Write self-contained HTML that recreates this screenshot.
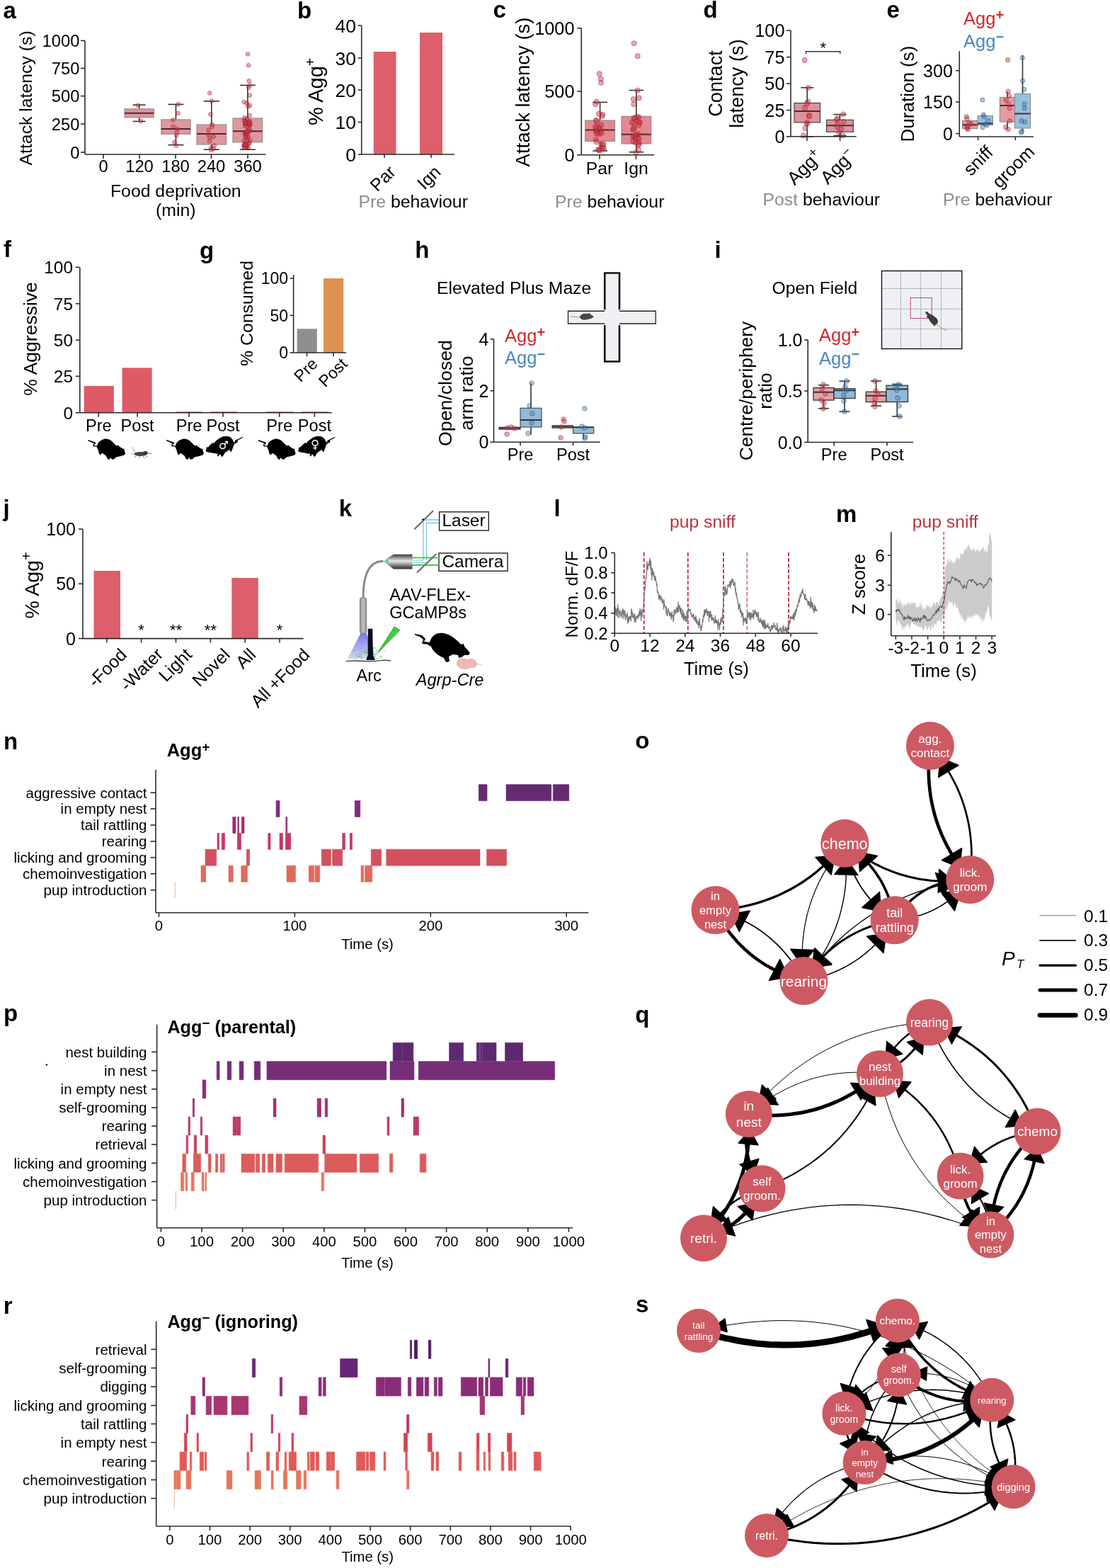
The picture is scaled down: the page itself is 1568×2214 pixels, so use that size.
<!DOCTYPE html>
<html><head><meta charset="utf-8"><title>Figure</title>
<style>html,body{margin:0;padding:0;background:#fff;} svg{display:block;} text{font-family:"Liberation Sans", Arial, Helvetica, sans-serif;}</style>
</head><body>
<svg width="1568" height="2214" viewBox="0 0 1568 2214" font-family='"Liberation Sans", Arial, Helvetica, sans-serif'>
<rect width="1568" height="2214" fill="#fff"/>
<text x="4.5" y="25.7" font-size="33" font-weight="bold">a</text>
<line x1="196.65" y1="148.20" x2="196.65" y2="153.80" stroke="#333" stroke-width="1.6" />
<line x1="196.65" y1="165.80" x2="196.65" y2="171.40" stroke="#333" stroke-width="1.6" />
<line x1="187.65" y1="148.20" x2="205.65" y2="148.20" stroke="#333" stroke-width="1.6" />
<line x1="187.65" y1="171.40" x2="205.65" y2="171.40" stroke="#333" stroke-width="1.6" />
<rect x="176.00" y="153.80" width="41.30" height="12.00" fill="#dd979f" stroke="#9a8a8c" stroke-width="1.2"/>
<line x1="176.00" y1="159.70" x2="217.30" y2="159.70" stroke="#4e2a2e" stroke-width="2.0" />
<line x1="248.45" y1="147.40" x2="248.45" y2="168.90" stroke="#333" stroke-width="1.6" />
<line x1="248.45" y1="189.30" x2="248.45" y2="204.60" stroke="#333" stroke-width="1.6" />
<line x1="237.45" y1="147.40" x2="259.45" y2="147.40" stroke="#333" stroke-width="1.6" />
<line x1="237.45" y1="204.60" x2="259.45" y2="204.60" stroke="#333" stroke-width="1.6" />
<rect x="227.80" y="168.90" width="41.30" height="20.40" fill="#dd979f" stroke="#9a8a8c" stroke-width="1.2"/>
<line x1="227.80" y1="181.90" x2="269.10" y2="181.90" stroke="#4e2a2e" stroke-width="2.0" />
<line x1="298.80" y1="142.90" x2="298.80" y2="176.00" stroke="#333" stroke-width="1.6" />
<line x1="298.80" y1="204.00" x2="298.80" y2="211.20" stroke="#333" stroke-width="1.6" />
<line x1="287.80" y1="142.90" x2="309.80" y2="142.90" stroke="#333" stroke-width="1.6" />
<line x1="287.80" y1="211.20" x2="309.80" y2="211.20" stroke="#333" stroke-width="1.6" />
<rect x="278.00" y="176.00" width="41.60" height="28.00" fill="#dd979f" stroke="#9a8a8c" stroke-width="1.2"/>
<line x1="278.00" y1="189.00" x2="319.60" y2="189.00" stroke="#4e2a2e" stroke-width="2.0" />
<line x1="349.85" y1="120.40" x2="349.85" y2="167.00" stroke="#333" stroke-width="1.6" />
<line x1="349.85" y1="200.80" x2="349.85" y2="211.20" stroke="#333" stroke-width="1.6" />
<line x1="338.85" y1="120.40" x2="360.85" y2="120.40" stroke="#333" stroke-width="1.6" />
<line x1="338.85" y1="211.20" x2="360.85" y2="211.20" stroke="#333" stroke-width="1.6" />
<rect x="329.00" y="167.00" width="41.70" height="33.80" fill="#dd979f" stroke="#9a8a8c" stroke-width="1.2"/>
<line x1="329.00" y1="185.20" x2="370.70" y2="185.20" stroke="#4e2a2e" stroke-width="2.0" />
<circle cx="194.81" cy="148.81" r="2.90" fill="rgba(205,55,70,0.45)"  stroke="rgba(150,25,40,0.55)" stroke-width="0.8"/>
<circle cx="199.08" cy="170.87" r="2.90" fill="rgba(205,55,70,0.45)"  stroke="rgba(150,25,40,0.55)" stroke-width="0.8"/>
<circle cx="251.65" cy="147.23" r="2.90" fill="rgba(205,55,70,0.45)"  stroke="rgba(150,25,40,0.55)" stroke-width="0.8"/>
<circle cx="251.58" cy="159.84" r="2.90" fill="rgba(205,55,70,0.45)"  stroke="rgba(150,25,40,0.55)" stroke-width="0.8"/>
<circle cx="244.45" cy="169.30" r="2.90" fill="rgba(205,55,70,0.45)"  stroke="rgba(150,25,40,0.55)" stroke-width="0.8"/>
<circle cx="244.68" cy="178.75" r="2.90" fill="rgba(205,55,70,0.45)"  stroke="rgba(150,25,40,0.55)" stroke-width="0.8"/>
<circle cx="250.68" cy="181.90" r="2.90" fill="rgba(205,55,70,0.45)"  stroke="rgba(150,25,40,0.55)" stroke-width="0.8"/>
<circle cx="249.89" cy="186.63" r="2.90" fill="rgba(205,55,70,0.45)"  stroke="rgba(150,25,40,0.55)" stroke-width="0.8"/>
<circle cx="249.36" cy="191.36" r="2.90" fill="rgba(205,55,70,0.45)"  stroke="rgba(150,25,40,0.55)" stroke-width="0.8"/>
<circle cx="246.47" cy="200.82" r="2.90" fill="rgba(205,55,70,0.45)"  stroke="rgba(150,25,40,0.55)" stroke-width="0.8"/>
<circle cx="248.85" cy="205.54" r="2.90" fill="rgba(205,55,70,0.45)"  stroke="rgba(150,25,40,0.55)" stroke-width="0.8"/>
<circle cx="296.14" cy="131.47" r="2.90" fill="rgba(205,55,70,0.45)"  stroke="rgba(150,25,40,0.55)" stroke-width="0.8"/>
<circle cx="298.90" cy="142.50" r="2.90" fill="rgba(205,55,70,0.45)"  stroke="rgba(150,25,40,0.55)" stroke-width="0.8"/>
<circle cx="297.33" cy="161.42" r="2.90" fill="rgba(205,55,70,0.45)"  stroke="rgba(150,25,40,0.55)" stroke-width="0.8"/>
<circle cx="299.44" cy="175.60" r="2.90" fill="rgba(205,55,70,0.45)"  stroke="rgba(150,25,40,0.55)" stroke-width="0.8"/>
<circle cx="299.63" cy="178.75" r="2.90" fill="rgba(205,55,70,0.45)"  stroke="rgba(150,25,40,0.55)" stroke-width="0.8"/>
<circle cx="294.59" cy="183.48" r="2.90" fill="rgba(205,55,70,0.45)"  stroke="rgba(150,25,40,0.55)" stroke-width="0.8"/>
<circle cx="294.12" cy="189.78" r="2.90" fill="rgba(205,55,70,0.45)"  stroke="rgba(150,25,40,0.55)" stroke-width="0.8"/>
<circle cx="301.54" cy="192.94" r="2.90" fill="rgba(205,55,70,0.45)"  stroke="rgba(150,25,40,0.55)" stroke-width="0.8"/>
<circle cx="296.33" cy="194.51" r="2.90" fill="rgba(205,55,70,0.45)"  stroke="rgba(150,25,40,0.55)" stroke-width="0.8"/>
<circle cx="296.11" cy="199.24" r="2.90" fill="rgba(205,55,70,0.45)"  stroke="rgba(150,25,40,0.55)" stroke-width="0.8"/>
<circle cx="302.96" cy="205.54" r="2.90" fill="rgba(205,55,70,0.45)"  stroke="rgba(150,25,40,0.55)" stroke-width="0.8"/>
<circle cx="298.23" cy="208.70" r="2.90" fill="rgba(205,55,70,0.45)"  stroke="rgba(150,25,40,0.55)" stroke-width="0.8"/>
<circle cx="301.53" cy="210.27" r="2.90" fill="rgba(205,55,70,0.45)"  stroke="rgba(150,25,40,0.55)" stroke-width="0.8"/>
<circle cx="298.29" cy="211.85" r="2.90" fill="rgba(205,55,70,0.45)"  stroke="rgba(150,25,40,0.55)" stroke-width="0.8"/>
<circle cx="350.11" cy="76.31" r="2.90" fill="rgba(205,55,70,0.45)"  stroke="rgba(150,25,40,0.55)" stroke-width="0.8"/>
<circle cx="351.18" cy="92.07" r="2.90" fill="rgba(205,55,70,0.45)"  stroke="rgba(150,25,40,0.55)" stroke-width="0.8"/>
<circle cx="351.66" cy="114.14" r="2.90" fill="rgba(205,55,70,0.45)"  stroke="rgba(150,25,40,0.55)" stroke-width="0.8"/>
<circle cx="352.98" cy="120.44" r="2.90" fill="rgba(205,55,70,0.45)"  stroke="rgba(150,25,40,0.55)" stroke-width="0.8"/>
<circle cx="351.16" cy="123.59" r="2.90" fill="rgba(205,55,70,0.45)"  stroke="rgba(150,25,40,0.55)" stroke-width="0.8"/>
<circle cx="352.80" cy="134.62" r="2.90" fill="rgba(205,55,70,0.45)"  stroke="rgba(150,25,40,0.55)" stroke-width="0.8"/>
<circle cx="344.76" cy="144.08" r="2.90" fill="rgba(205,55,70,0.45)"  stroke="rgba(150,25,40,0.55)" stroke-width="0.8"/>
<circle cx="348.69" cy="145.66" r="2.90" fill="rgba(205,55,70,0.45)"  stroke="rgba(150,25,40,0.55)" stroke-width="0.8"/>
<circle cx="352.99" cy="148.81" r="2.90" fill="rgba(205,55,70,0.45)"  stroke="rgba(150,25,40,0.55)" stroke-width="0.8"/>
<circle cx="350.34" cy="150.38" r="2.90" fill="rgba(205,55,70,0.45)"  stroke="rgba(150,25,40,0.55)" stroke-width="0.8"/>
<circle cx="352.61" cy="162.99" r="2.90" fill="rgba(205,55,70,0.45)"  stroke="rgba(150,25,40,0.55)" stroke-width="0.8"/>
<circle cx="345.52" cy="166.14" r="2.90" fill="rgba(205,55,70,0.45)"  stroke="rgba(150,25,40,0.55)" stroke-width="0.8"/>
<circle cx="348.72" cy="167.72" r="2.90" fill="rgba(205,55,70,0.45)"  stroke="rgba(150,25,40,0.55)" stroke-width="0.8"/>
<circle cx="346.72" cy="201.43" r="2.90" fill="rgba(205,55,70,0.45)"  stroke="rgba(150,25,40,0.55)" stroke-width="0.8"/>
<circle cx="349.39" cy="207.30" r="2.90" fill="rgba(205,55,70,0.45)"  stroke="rgba(150,25,40,0.55)" stroke-width="0.8"/>
<circle cx="349.67" cy="194.37" r="2.90" fill="rgba(205,55,70,0.45)"  stroke="rgba(150,25,40,0.55)" stroke-width="0.8"/>
<circle cx="344.62" cy="205.01" r="2.90" fill="rgba(205,55,70,0.45)"  stroke="rgba(150,25,40,0.55)" stroke-width="0.8"/>
<circle cx="346.45" cy="208.91" r="2.90" fill="rgba(205,55,70,0.45)"  stroke="rgba(150,25,40,0.55)" stroke-width="0.8"/>
<circle cx="347.02" cy="194.13" r="2.90" fill="rgba(205,55,70,0.45)"  stroke="rgba(150,25,40,0.55)" stroke-width="0.8"/>
<circle cx="352.75" cy="171.34" r="2.90" fill="rgba(205,55,70,0.45)"  stroke="rgba(150,25,40,0.55)" stroke-width="0.8"/>
<circle cx="351.39" cy="176.53" r="2.90" fill="rgba(205,55,70,0.45)"  stroke="rgba(150,25,40,0.55)" stroke-width="0.8"/>
<circle cx="345.94" cy="178.08" r="2.90" fill="rgba(205,55,70,0.45)"  stroke="rgba(150,25,40,0.55)" stroke-width="0.8"/>
<circle cx="351.67" cy="202.05" r="2.90" fill="rgba(205,55,70,0.45)"  stroke="rgba(150,25,40,0.55)" stroke-width="0.8"/>
<circle cx="345.75" cy="188.17" r="2.90" fill="rgba(205,55,70,0.45)"  stroke="rgba(150,25,40,0.55)" stroke-width="0.8"/>
<circle cx="350.06" cy="199.64" r="2.90" fill="rgba(205,55,70,0.45)"  stroke="rgba(150,25,40,0.55)" stroke-width="0.8"/>
<circle cx="345.64" cy="204.23" r="2.90" fill="rgba(205,55,70,0.45)"  stroke="rgba(150,25,40,0.55)" stroke-width="0.8"/>
<circle cx="344.52" cy="207.16" r="2.90" fill="rgba(205,55,70,0.45)"  stroke="rgba(150,25,40,0.55)" stroke-width="0.8"/>
<circle cx="352.34" cy="202.39" r="2.90" fill="rgba(205,55,70,0.45)"  stroke="rgba(150,25,40,0.55)" stroke-width="0.8"/>
<circle cx="346.39" cy="170.92" r="2.90" fill="rgba(205,55,70,0.45)"  stroke="rgba(150,25,40,0.55)" stroke-width="0.8"/>
<circle cx="346.44" cy="175.27" r="2.90" fill="rgba(205,55,70,0.45)"  stroke="rgba(150,25,40,0.55)" stroke-width="0.8"/>
<circle cx="353.34" cy="176.25" r="2.90" fill="rgba(205,55,70,0.45)"  stroke="rgba(150,25,40,0.55)" stroke-width="0.8"/>
<circle cx="352.35" cy="176.53" r="2.90" fill="rgba(205,55,70,0.45)"  stroke="rgba(150,25,40,0.55)" stroke-width="0.8"/>
<circle cx="347.10" cy="203.31" r="2.90" fill="rgba(205,55,70,0.45)"  stroke="rgba(150,25,40,0.55)" stroke-width="0.8"/>
<circle cx="353.15" cy="198.17" r="2.90" fill="rgba(205,55,70,0.45)"  stroke="rgba(150,25,40,0.55)" stroke-width="0.8"/>
<circle cx="349.35" cy="184.18" r="2.90" fill="rgba(205,55,70,0.45)"  stroke="rgba(150,25,40,0.55)" stroke-width="0.8"/>
<circle cx="350.60" cy="179.55" r="2.90" fill="rgba(205,55,70,0.45)"  stroke="rgba(150,25,40,0.55)" stroke-width="0.8"/>
<circle cx="346.34" cy="174.13" r="2.90" fill="rgba(205,55,70,0.45)"  stroke="rgba(150,25,40,0.55)" stroke-width="0.8"/>
<circle cx="352.97" cy="173.01" r="2.90" fill="rgba(205,55,70,0.45)"  stroke="rgba(150,25,40,0.55)" stroke-width="0.8"/>
<circle cx="350.72" cy="208.02" r="2.90" fill="rgba(205,55,70,0.45)"  stroke="rgba(150,25,40,0.55)" stroke-width="0.8"/>
<circle cx="353.20" cy="185.11" r="2.90" fill="rgba(205,55,70,0.45)"  stroke="rgba(150,25,40,0.55)" stroke-width="0.8"/>
<circle cx="352.54" cy="182.21" r="2.90" fill="rgba(205,55,70,0.45)"  stroke="rgba(150,25,40,0.55)" stroke-width="0.8"/>
<circle cx="347.19" cy="189.52" r="2.90" fill="rgba(205,55,70,0.45)"  stroke="rgba(150,25,40,0.55)" stroke-width="0.8"/>
<circle cx="347.75" cy="204.00" r="2.90" fill="rgba(205,55,70,0.45)"  stroke="rgba(150,25,40,0.55)" stroke-width="0.8"/>
<circle cx="345.99" cy="190.95" r="2.90" fill="rgba(205,55,70,0.45)"  stroke="rgba(150,25,40,0.55)" stroke-width="0.8"/>
<circle cx="345.81" cy="207.91" r="2.90" fill="rgba(205,55,70,0.45)"  stroke="rgba(150,25,40,0.55)" stroke-width="0.8"/>
<circle cx="345.09" cy="170.61" r="2.90" fill="rgba(205,55,70,0.45)"  stroke="rgba(150,25,40,0.55)" stroke-width="0.8"/>
<circle cx="347.21" cy="173.66" r="2.90" fill="rgba(205,55,70,0.45)"  stroke="rgba(150,25,40,0.55)" stroke-width="0.8"/>
<circle cx="349.93" cy="187.68" r="2.90" fill="rgba(205,55,70,0.45)"  stroke="rgba(150,25,40,0.55)" stroke-width="0.8"/>
<circle cx="344.53" cy="198.60" r="2.90" fill="rgba(205,55,70,0.45)"  stroke="rgba(150,25,40,0.55)" stroke-width="0.8"/>
<circle cx="350.60" cy="171.74" r="2.90" fill="rgba(205,55,70,0.45)"  stroke="rgba(150,25,40,0.55)" stroke-width="0.8"/>
<circle cx="347.54" cy="186.59" r="2.90" fill="rgba(205,55,70,0.45)"  stroke="rgba(150,25,40,0.55)" stroke-width="0.8"/>
<circle cx="347.29" cy="172.91" r="2.90" fill="rgba(205,55,70,0.45)"  stroke="rgba(150,25,40,0.55)" stroke-width="0.8"/>
<circle cx="351.87" cy="174.43" r="2.90" fill="rgba(205,55,70,0.45)"  stroke="rgba(150,25,40,0.55)" stroke-width="0.8"/>
<circle cx="348.83" cy="189.41" r="2.90" fill="rgba(205,55,70,0.45)"  stroke="rgba(150,25,40,0.55)" stroke-width="0.8"/>
<circle cx="347.34" cy="193.58" r="2.90" fill="rgba(205,55,70,0.45)"  stroke="rgba(150,25,40,0.55)" stroke-width="0.8"/>
<circle cx="348.83" cy="185.42" r="2.90" fill="rgba(205,55,70,0.45)"  stroke="rgba(150,25,40,0.55)" stroke-width="0.8"/>
<circle cx="350.84" cy="192.83" r="2.90" fill="rgba(205,55,70,0.45)"  stroke="rgba(150,25,40,0.55)" stroke-width="0.8"/>
<circle cx="345.01" cy="204.73" r="2.90" fill="rgba(205,55,70,0.45)"  stroke="rgba(150,25,40,0.55)" stroke-width="0.8"/>
<line x1="120.00" y1="57.40" x2="120.00" y2="218.00" stroke="#2b2b2b" stroke-width="1.6" />
<line x1="114.00" y1="57.40" x2="120.00" y2="57.40" stroke="#2b2b2b" stroke-width="1.6" />
<text x="112.5" y="66.0" font-size="23.8" text-anchor="end">1000</text>
<line x1="114.00" y1="96.40" x2="120.00" y2="96.40" stroke="#2b2b2b" stroke-width="1.6" />
<text x="112.5" y="105.0" font-size="23.8" text-anchor="end">750</text>
<line x1="114.00" y1="135.60" x2="120.00" y2="135.60" stroke="#2b2b2b" stroke-width="1.6" />
<text x="112.5" y="144.2" font-size="23.8" text-anchor="end">500</text>
<line x1="114.00" y1="175.00" x2="120.00" y2="175.00" stroke="#2b2b2b" stroke-width="1.6" />
<text x="112.5" y="183.6" font-size="23.8" text-anchor="end">250</text>
<line x1="114.00" y1="215.00" x2="120.00" y2="215.00" stroke="#2b2b2b" stroke-width="1.6" />
<text x="112.5" y="223.6" font-size="23.8" text-anchor="end">0</text>
<line x1="120.00" y1="218.00" x2="375.50" y2="218.00" stroke="#2b2b2b" stroke-width="1.6" />
<line x1="146.00" y1="218.00" x2="146.00" y2="224.00" stroke="#2b2b2b" stroke-width="1.6" />
<text x="146.0" y="242.5" font-size="23.8" text-anchor="middle">0</text>
<line x1="197.00" y1="218.00" x2="197.00" y2="224.00" stroke="#2b2b2b" stroke-width="1.6" />
<text x="197.0" y="242.5" font-size="23.8" text-anchor="middle">120</text>
<line x1="248.00" y1="218.00" x2="248.00" y2="224.00" stroke="#2b2b2b" stroke-width="1.6" />
<text x="248.0" y="242.5" font-size="23.8" text-anchor="middle">180</text>
<line x1="298.50" y1="218.00" x2="298.50" y2="224.00" stroke="#2b2b2b" stroke-width="1.6" />
<text x="298.5" y="242.5" font-size="23.8" text-anchor="middle">240</text>
<line x1="350.00" y1="218.00" x2="350.00" y2="224.00" stroke="#2b2b2b" stroke-width="1.6" />
<text x="350.0" y="242.5" font-size="23.8" text-anchor="middle">360</text>
<text x="248.3" y="277.5" font-size="24.8" text-anchor="middle">Food deprivation</text>
<text x="248.3" y="304.5" font-size="24.8" text-anchor="middle">(min)</text>
<text x="45.0" y="138.4" font-size="24.8" text-anchor="middle" transform="rotate(-90 45.0 138.4)">Attack latency (s)</text>
<text x="420.0" y="25.6" font-size="33" font-weight="bold">b</text>
<rect x="527.75" y="73.00" width="31.75" height="145.00" fill="#dc5f6b" />
<rect x="593.00" y="46.00" width="32.00" height="172.00" fill="#dc5f6b" />
<line x1="510.75" y1="36.00" x2="510.75" y2="218.00" stroke="#2b2b2b" stroke-width="1.6" />
<line x1="505.75" y1="36.00" x2="510.75" y2="36.00" stroke="#2b2b2b" stroke-width="1.6" />
<text x="503.0" y="45.5" font-size="26.5" text-anchor="end">40</text>
<line x1="505.75" y1="82.00" x2="510.75" y2="82.00" stroke="#2b2b2b" stroke-width="1.6" />
<text x="503.0" y="91.5" font-size="26.5" text-anchor="end">30</text>
<line x1="505.75" y1="127.00" x2="510.75" y2="127.00" stroke="#2b2b2b" stroke-width="1.6" />
<text x="503.0" y="136.5" font-size="26.5" text-anchor="end">20</text>
<line x1="505.75" y1="172.50" x2="510.75" y2="172.50" stroke="#2b2b2b" stroke-width="1.6" />
<text x="503.0" y="182.0" font-size="26.5" text-anchor="end">10</text>
<line x1="505.75" y1="218.00" x2="510.75" y2="218.00" stroke="#2b2b2b" stroke-width="1.6" />
<text x="503.0" y="227.5" font-size="26.5" text-anchor="end">0</text>
<line x1="510.75" y1="218.00" x2="642.00" y2="218.00" stroke="#2b2b2b" stroke-width="1.6" />
<line x1="543.00" y1="218.00" x2="543.00" y2="223.00" stroke="#2b2b2b" stroke-width="1.6" />
<line x1="609.00" y1="218.00" x2="609.00" y2="223.00" stroke="#2b2b2b" stroke-width="1.6" />
<text x="533.1" y="271.7" font-size="24.8" transform="rotate(-45 533.1 271.7)">Par</text>
<text x="599.6" y="268.9" font-size="24.8" transform="rotate(-45 599.6 268.9)">Ign</text>
<text x="506.5" y="292.5" font-size="24.8"><tspan fill="#8c8c8c">Pre</tspan> behaviour</text>
<text x="455.5" y="177.0" font-size="29" transform="rotate(-90 455.5 177.0)">% Agg<tspan dy="-11" font-size="20">+</tspan></text>
<text x="696.5" y="25.2" font-size="33" font-weight="bold">c</text>
<line x1="898.85" y1="127.50" x2="898.85" y2="164.30" stroke="#333" stroke-width="1.6" />
<line x1="898.85" y1="203.00" x2="898.85" y2="214.70" stroke="#333" stroke-width="1.6" />
<line x1="888.65" y1="127.50" x2="909.05" y2="127.50" stroke="#333" stroke-width="1.6" />
<line x1="888.65" y1="214.70" x2="909.05" y2="214.70" stroke="#333" stroke-width="1.6" />
<rect x="878.00" y="164.30" width="41.70" height="38.70" fill="#e5878f" stroke="#9a8a8c" stroke-width="1.2"/>
<line x1="878.00" y1="189.80" x2="919.70" y2="189.80" stroke="#4e2a2e" stroke-width="2.0" />
<line x1="847.60" y1="144.40" x2="847.60" y2="170.00" stroke="#333" stroke-width="1.6" />
<line x1="847.60" y1="199.30" x2="847.60" y2="213.00" stroke="#333" stroke-width="1.6" />
<line x1="837.30" y1="144.40" x2="857.90" y2="144.40" stroke="#333" stroke-width="1.6" />
<line x1="837.30" y1="213.00" x2="857.90" y2="213.00" stroke="#333" stroke-width="1.6" />
<rect x="826.70" y="170.00" width="41.80" height="29.30" fill="#e5878f" stroke="#9a8a8c" stroke-width="1.2"/>
<line x1="826.70" y1="183.40" x2="868.50" y2="183.40" stroke="#4e2a2e" stroke-width="2.0" />
<circle cx="846.69" cy="104.21" r="3.60" fill="rgba(205,55,70,0.45)"  stroke="rgba(150,25,40,0.55)" stroke-width="0.8"/>
<circle cx="848.89" cy="111.37" r="3.60" fill="rgba(205,55,70,0.45)"  stroke="rgba(150,25,40,0.55)" stroke-width="0.8"/>
<circle cx="849.00" cy="116.74" r="3.60" fill="rgba(205,55,70,0.45)"  stroke="rgba(150,25,40,0.55)" stroke-width="0.8"/>
<circle cx="842.71" cy="143.60" r="3.60" fill="rgba(205,55,70,0.45)"  stroke="rgba(150,25,40,0.55)" stroke-width="0.8"/>
<circle cx="841.13" cy="147.18" r="3.60" fill="rgba(205,55,70,0.45)"  stroke="rgba(150,25,40,0.55)" stroke-width="0.8"/>
<circle cx="845.50" cy="189.13" r="3.60" fill="rgba(205,55,70,0.45)"  stroke="rgba(150,25,40,0.55)" stroke-width="0.8"/>
<circle cx="844.29" cy="183.36" r="3.60" fill="rgba(205,55,70,0.45)"  stroke="rgba(150,25,40,0.55)" stroke-width="0.8"/>
<circle cx="850.72" cy="163.78" r="3.60" fill="rgba(205,55,70,0.45)"  stroke="rgba(150,25,40,0.55)" stroke-width="0.8"/>
<circle cx="849.29" cy="188.42" r="3.60" fill="rgba(205,55,70,0.45)"  stroke="rgba(150,25,40,0.55)" stroke-width="0.8"/>
<circle cx="848.22" cy="186.15" r="3.60" fill="rgba(205,55,70,0.45)"  stroke="rgba(150,25,40,0.55)" stroke-width="0.8"/>
<circle cx="847.70" cy="181.88" r="3.60" fill="rgba(205,55,70,0.45)"  stroke="rgba(150,25,40,0.55)" stroke-width="0.8"/>
<circle cx="848.94" cy="203.51" r="3.60" fill="rgba(205,55,70,0.45)"  stroke="rgba(150,25,40,0.55)" stroke-width="0.8"/>
<circle cx="842.74" cy="185.93" r="3.60" fill="rgba(205,55,70,0.45)"  stroke="rgba(150,25,40,0.55)" stroke-width="0.8"/>
<circle cx="846.28" cy="179.59" r="3.60" fill="rgba(205,55,70,0.45)"  stroke="rgba(150,25,40,0.55)" stroke-width="0.8"/>
<circle cx="842.95" cy="170.83" r="3.60" fill="rgba(205,55,70,0.45)"  stroke="rgba(150,25,40,0.55)" stroke-width="0.8"/>
<circle cx="851.87" cy="208.37" r="3.60" fill="rgba(205,55,70,0.45)"  stroke="rgba(150,25,40,0.55)" stroke-width="0.8"/>
<circle cx="841.71" cy="197.13" r="3.60" fill="rgba(205,55,70,0.45)"  stroke="rgba(150,25,40,0.55)" stroke-width="0.8"/>
<circle cx="850.83" cy="208.56" r="3.60" fill="rgba(205,55,70,0.45)"  stroke="rgba(150,25,40,0.55)" stroke-width="0.8"/>
<circle cx="841.90" cy="169.94" r="3.60" fill="rgba(205,55,70,0.45)"  stroke="rgba(150,25,40,0.55)" stroke-width="0.8"/>
<circle cx="849.24" cy="176.18" r="3.60" fill="rgba(205,55,70,0.45)"  stroke="rgba(150,25,40,0.55)" stroke-width="0.8"/>
<circle cx="845.04" cy="211.18" r="3.60" fill="rgba(205,55,70,0.45)"  stroke="rgba(150,25,40,0.55)" stroke-width="0.8"/>
<circle cx="845.86" cy="160.67" r="3.60" fill="rgba(205,55,70,0.45)"  stroke="rgba(150,25,40,0.55)" stroke-width="0.8"/>
<circle cx="851.11" cy="161.61" r="3.60" fill="rgba(205,55,70,0.45)"  stroke="rgba(150,25,40,0.55)" stroke-width="0.8"/>
<circle cx="841.22" cy="178.30" r="3.60" fill="rgba(205,55,70,0.45)"  stroke="rgba(150,25,40,0.55)" stroke-width="0.8"/>
<circle cx="841.73" cy="180.36" r="3.60" fill="rgba(205,55,70,0.45)"  stroke="rgba(150,25,40,0.55)" stroke-width="0.8"/>
<circle cx="851.98" cy="204.97" r="3.60" fill="rgba(205,55,70,0.45)"  stroke="rgba(150,25,40,0.55)" stroke-width="0.8"/>
<circle cx="847.11" cy="212.62" r="3.60" fill="rgba(205,55,70,0.45)"  stroke="rgba(150,25,40,0.55)" stroke-width="0.8"/>
<circle cx="842.09" cy="185.05" r="3.60" fill="rgba(205,55,70,0.45)"  stroke="rgba(150,25,40,0.55)" stroke-width="0.8"/>
<circle cx="852.85" cy="210.23" r="3.60" fill="rgba(205,55,70,0.45)"  stroke="rgba(150,25,40,0.55)" stroke-width="0.8"/>
<circle cx="852.36" cy="203.21" r="3.60" fill="rgba(205,55,70,0.45)"  stroke="rgba(150,25,40,0.55)" stroke-width="0.8"/>
<circle cx="842.35" cy="200.43" r="3.60" fill="rgba(205,55,70,0.45)"  stroke="rgba(150,25,40,0.55)" stroke-width="0.8"/>
<circle cx="846.08" cy="211.81" r="3.60" fill="rgba(205,55,70,0.45)"  stroke="rgba(150,25,40,0.55)" stroke-width="0.8"/>
<circle cx="842.62" cy="188.51" r="3.60" fill="rgba(205,55,70,0.45)"  stroke="rgba(150,25,40,0.55)" stroke-width="0.8"/>
<circle cx="895.61" cy="61.24" r="3.60" fill="rgba(205,55,70,0.45)"  stroke="rgba(150,25,40,0.55)" stroke-width="0.8"/>
<circle cx="900.72" cy="79.14" r="3.60" fill="rgba(205,55,70,0.45)"  stroke="rgba(150,25,40,0.55)" stroke-width="0.8"/>
<circle cx="900.71" cy="127.48" r="3.60" fill="rgba(205,55,70,0.45)"  stroke="rgba(150,25,40,0.55)" stroke-width="0.8"/>
<circle cx="902.69" cy="138.23" r="3.60" fill="rgba(205,55,70,0.45)"  stroke="rgba(150,25,40,0.55)" stroke-width="0.8"/>
<circle cx="894.73" cy="140.02" r="3.60" fill="rgba(205,55,70,0.45)"  stroke="rgba(150,25,40,0.55)" stroke-width="0.8"/>
<circle cx="895.27" cy="147.18" r="3.60" fill="rgba(205,55,70,0.45)"  stroke="rgba(150,25,40,0.55)" stroke-width="0.8"/>
<circle cx="894.27" cy="193.13" r="3.60" fill="rgba(205,55,70,0.45)"  stroke="rgba(150,25,40,0.55)" stroke-width="0.8"/>
<circle cx="895.20" cy="172.98" r="3.60" fill="rgba(205,55,70,0.45)"  stroke="rgba(150,25,40,0.55)" stroke-width="0.8"/>
<circle cx="901.31" cy="189.19" r="3.60" fill="rgba(205,55,70,0.45)"  stroke="rgba(150,25,40,0.55)" stroke-width="0.8"/>
<circle cx="894.06" cy="183.12" r="3.60" fill="rgba(205,55,70,0.45)"  stroke="rgba(150,25,40,0.55)" stroke-width="0.8"/>
<circle cx="898.88" cy="190.16" r="3.60" fill="rgba(205,55,70,0.45)"  stroke="rgba(150,25,40,0.55)" stroke-width="0.8"/>
<circle cx="895.07" cy="182.01" r="3.60" fill="rgba(205,55,70,0.45)"  stroke="rgba(150,25,40,0.55)" stroke-width="0.8"/>
<circle cx="896.04" cy="192.29" r="3.60" fill="rgba(205,55,70,0.45)"  stroke="rgba(150,25,40,0.55)" stroke-width="0.8"/>
<circle cx="897.68" cy="201.27" r="3.60" fill="rgba(205,55,70,0.45)"  stroke="rgba(150,25,40,0.55)" stroke-width="0.8"/>
<circle cx="902.55" cy="165.20" r="3.60" fill="rgba(205,55,70,0.45)"  stroke="rgba(150,25,40,0.55)" stroke-width="0.8"/>
<circle cx="899.80" cy="165.30" r="3.60" fill="rgba(205,55,70,0.45)"  stroke="rgba(150,25,40,0.55)" stroke-width="0.8"/>
<circle cx="892.67" cy="173.10" r="3.60" fill="rgba(205,55,70,0.45)"  stroke="rgba(150,25,40,0.55)" stroke-width="0.8"/>
<circle cx="895.81" cy="179.73" r="3.60" fill="rgba(205,55,70,0.45)"  stroke="rgba(150,25,40,0.55)" stroke-width="0.8"/>
<circle cx="894.26" cy="199.41" r="3.60" fill="rgba(205,55,70,0.45)"  stroke="rgba(150,25,40,0.55)" stroke-width="0.8"/>
<circle cx="902.96" cy="203.70" r="3.60" fill="rgba(205,55,70,0.45)"  stroke="rgba(150,25,40,0.55)" stroke-width="0.8"/>
<circle cx="902.22" cy="200.73" r="3.60" fill="rgba(205,55,70,0.45)"  stroke="rgba(150,25,40,0.55)" stroke-width="0.8"/>
<circle cx="902.17" cy="211.70" r="3.60" fill="rgba(205,55,70,0.45)"  stroke="rgba(150,25,40,0.55)" stroke-width="0.8"/>
<circle cx="902.42" cy="176.80" r="3.60" fill="rgba(205,55,70,0.45)"  stroke="rgba(150,25,40,0.55)" stroke-width="0.8"/>
<circle cx="901.44" cy="195.15" r="3.60" fill="rgba(205,55,70,0.45)"  stroke="rgba(150,25,40,0.55)" stroke-width="0.8"/>
<circle cx="903.89" cy="172.78" r="3.60" fill="rgba(205,55,70,0.45)"  stroke="rgba(150,25,40,0.55)" stroke-width="0.8"/>
<circle cx="902.03" cy="195.84" r="3.60" fill="rgba(205,55,70,0.45)"  stroke="rgba(150,25,40,0.55)" stroke-width="0.8"/>
<circle cx="895.58" cy="167.19" r="3.60" fill="rgba(205,55,70,0.45)"  stroke="rgba(150,25,40,0.55)" stroke-width="0.8"/>
<circle cx="902.70" cy="172.74" r="3.60" fill="rgba(205,55,70,0.45)"  stroke="rgba(150,25,40,0.55)" stroke-width="0.8"/>
<circle cx="898.34" cy="215.19" r="3.60" fill="rgba(205,55,70,0.45)"  stroke="rgba(150,25,40,0.55)" stroke-width="0.8"/>
<circle cx="901.56" cy="204.71" r="3.60" fill="rgba(205,55,70,0.45)"  stroke="rgba(150,25,40,0.55)" stroke-width="0.8"/>
<circle cx="899.27" cy="169.58" r="3.60" fill="rgba(205,55,70,0.45)"  stroke="rgba(150,25,40,0.55)" stroke-width="0.8"/>
<circle cx="897.65" cy="191.66" r="3.60" fill="rgba(205,55,70,0.45)"  stroke="rgba(150,25,40,0.55)" stroke-width="0.8"/>
<circle cx="896.87" cy="166.07" r="3.60" fill="rgba(205,55,70,0.45)"  stroke="rgba(150,25,40,0.55)" stroke-width="0.8"/>
<circle cx="897.66" cy="195.29" r="3.60" fill="rgba(205,55,70,0.45)"  stroke="rgba(150,25,40,0.55)" stroke-width="0.8"/>
<line x1="821.25" y1="39.75" x2="821.25" y2="218.80" stroke="#2b2b2b" stroke-width="1.6" />
<line x1="815.25" y1="39.75" x2="821.25" y2="39.75" stroke="#2b2b2b" stroke-width="1.6" />
<text x="811.5" y="48.9" font-size="25.3" text-anchor="end">1000</text>
<line x1="815.25" y1="129.00" x2="821.25" y2="129.00" stroke="#2b2b2b" stroke-width="1.6" />
<text x="811.5" y="138.1" font-size="25.3" text-anchor="end">500</text>
<line x1="815.25" y1="218.80" x2="821.25" y2="218.80" stroke="#2b2b2b" stroke-width="1.6" />
<text x="811.5" y="227.9" font-size="25.3" text-anchor="end">0</text>
<line x1="821.25" y1="218.80" x2="924.00" y2="218.80" stroke="#2b2b2b" stroke-width="1.6" />
<line x1="847.00" y1="218.80" x2="847.00" y2="224.80" stroke="#2b2b2b" stroke-width="1.6" />
<text x="847.0" y="245.6" font-size="24.8" text-anchor="middle">Par</text>
<line x1="898.50" y1="218.80" x2="898.50" y2="224.80" stroke="#2b2b2b" stroke-width="1.6" />
<text x="898.5" y="245.6" font-size="24.8" text-anchor="middle">Ign</text>
<text x="784.0" y="292.5" font-size="24.8"><tspan fill="#8c8c8c">Pre</tspan> behaviour</text>
<text x="748.0" y="130.0" font-size="27.5" text-anchor="middle" transform="rotate(-90 748.0 130.0)">Attack latency (s)</text>
<text x="993.5" y="25.2" font-size="33" font-weight="bold">d</text>
<line x1="1140.25" y1="123.75" x2="1140.25" y2="145.50" stroke="#333" stroke-width="1.6" />
<line x1="1140.25" y1="172.90" x2="1140.25" y2="192.80" stroke="#333" stroke-width="1.6" />
<line x1="1131.25" y1="123.75" x2="1149.25" y2="123.75" stroke="#333" stroke-width="1.6" />
<line x1="1131.25" y1="192.80" x2="1149.25" y2="192.80" stroke="#333" stroke-width="1.6" />
<rect x="1122.00" y="145.50" width="36.50" height="27.40" fill="#dc939b" stroke="#444" stroke-width="1.2"/>
<line x1="1122.00" y1="157.00" x2="1158.50" y2="157.00" stroke="#4e2a2e" stroke-width="2.0" />
<line x1="1186.45" y1="161.60" x2="1186.45" y2="169.30" stroke="#333" stroke-width="1.6" />
<line x1="1186.45" y1="186.20" x2="1186.45" y2="191.60" stroke="#333" stroke-width="1.6" />
<line x1="1177.45" y1="161.60" x2="1195.45" y2="161.60" stroke="#333" stroke-width="1.6" />
<line x1="1177.45" y1="191.60" x2="1195.45" y2="191.60" stroke="#333" stroke-width="1.6" />
<rect x="1167.50" y="169.30" width="37.90" height="16.90" fill="#dc939b" stroke="#444" stroke-width="1.2"/>
<line x1="1167.50" y1="177.20" x2="1205.40" y2="177.20" stroke="#4e2a2e" stroke-width="2.0" />
<circle cx="1136.65" cy="84.94" r="3.60" fill="rgba(205,55,70,0.45)"  stroke="rgba(150,25,40,0.55)" stroke-width="0.8"/>
<circle cx="1141.90" cy="123.89" r="3.60" fill="rgba(205,55,70,0.45)"  stroke="rgba(150,25,40,0.55)" stroke-width="0.8"/>
<circle cx="1141.35" cy="143.37" r="3.60" fill="rgba(205,55,70,0.45)"  stroke="rgba(150,25,40,0.55)" stroke-width="0.8"/>
<circle cx="1139.79" cy="146.36" r="3.60" fill="rgba(205,55,70,0.45)"  stroke="rgba(150,25,40,0.55)" stroke-width="0.8"/>
<circle cx="1137.16" cy="152.35" r="3.60" fill="rgba(205,55,70,0.45)"  stroke="rgba(150,25,40,0.55)" stroke-width="0.8"/>
<circle cx="1142.93" cy="162.84" r="3.60" fill="rgba(205,55,70,0.45)"  stroke="rgba(150,25,40,0.55)" stroke-width="0.8"/>
<circle cx="1143.08" cy="164.34" r="3.60" fill="rgba(205,55,70,0.45)"  stroke="rgba(150,25,40,0.55)" stroke-width="0.8"/>
<circle cx="1140.12" cy="173.33" r="3.60" fill="rgba(205,55,70,0.45)"  stroke="rgba(150,25,40,0.55)" stroke-width="0.8"/>
<circle cx="1140.05" cy="174.82" r="3.60" fill="rgba(205,55,70,0.45)"  stroke="rgba(150,25,40,0.55)" stroke-width="0.8"/>
<circle cx="1137.36" cy="180.82" r="3.60" fill="rgba(205,55,70,0.45)"  stroke="rgba(150,25,40,0.55)" stroke-width="0.8"/>
<circle cx="1135.03" cy="191.30" r="3.60" fill="rgba(205,55,70,0.45)"  stroke="rgba(150,25,40,0.55)" stroke-width="0.8"/>
<circle cx="1191.18" cy="161.34" r="3.60" fill="rgba(205,55,70,0.45)"  stroke="rgba(150,25,40,0.55)" stroke-width="0.8"/>
<circle cx="1183.00" cy="167.33" r="3.60" fill="rgba(205,55,70,0.45)"  stroke="rgba(150,25,40,0.55)" stroke-width="0.8"/>
<circle cx="1181.84" cy="168.83" r="3.60" fill="rgba(205,55,70,0.45)"  stroke="rgba(150,25,40,0.55)" stroke-width="0.8"/>
<circle cx="1191.59" cy="171.83" r="3.60" fill="rgba(205,55,70,0.45)"  stroke="rgba(150,25,40,0.55)" stroke-width="0.8"/>
<circle cx="1183.44" cy="174.82" r="3.60" fill="rgba(205,55,70,0.45)"  stroke="rgba(150,25,40,0.55)" stroke-width="0.8"/>
<circle cx="1182.81" cy="179.32" r="3.60" fill="rgba(205,55,70,0.45)"  stroke="rgba(150,25,40,0.55)" stroke-width="0.8"/>
<circle cx="1188.11" cy="182.31" r="3.60" fill="rgba(205,55,70,0.45)"  stroke="rgba(150,25,40,0.55)" stroke-width="0.8"/>
<circle cx="1185.06" cy="186.81" r="3.60" fill="rgba(205,55,70,0.45)"  stroke="rgba(150,25,40,0.55)" stroke-width="0.8"/>
<circle cx="1190.50" cy="191.30" r="3.60" fill="rgba(205,55,70,0.45)"  stroke="rgba(150,25,40,0.55)" stroke-width="0.8"/>
<line x1="1117.00" y1="43.00" x2="1117.00" y2="192.80" stroke="#2b2b2b" stroke-width="1.6" />
<line x1="1111.00" y1="43.00" x2="1117.00" y2="43.00" stroke="#2b2b2b" stroke-width="1.6" />
<text x="1108.5" y="52.1" font-size="25.3" text-anchor="end">100</text>
<line x1="1111.00" y1="80.60" x2="1117.00" y2="80.60" stroke="#2b2b2b" stroke-width="1.6" />
<text x="1108.5" y="89.7" font-size="25.3" text-anchor="end">75</text>
<line x1="1111.00" y1="118.00" x2="1117.00" y2="118.00" stroke="#2b2b2b" stroke-width="1.6" />
<text x="1108.5" y="127.1" font-size="25.3" text-anchor="end">50</text>
<line x1="1111.00" y1="155.60" x2="1117.00" y2="155.60" stroke="#2b2b2b" stroke-width="1.6" />
<text x="1108.5" y="164.7" font-size="25.3" text-anchor="end">25</text>
<line x1="1111.00" y1="192.80" x2="1117.00" y2="192.80" stroke="#2b2b2b" stroke-width="1.6" />
<text x="1108.5" y="201.9" font-size="25.3" text-anchor="end">0</text>
<line x1="1117.00" y1="192.80" x2="1209.70" y2="192.80" stroke="#2b2b2b" stroke-width="1.6" />
<line x1="1140.00" y1="192.80" x2="1140.00" y2="198.80" stroke="#2b2b2b" stroke-width="1.6" />
<line x1="1186.60" y1="192.80" x2="1186.60" y2="198.80" stroke="#2b2b2b" stroke-width="1.6" />
<path d="M1138.4 76 L1138.4 72.75 L1186.8 72.75 L1186.8 76" fill="none" stroke="#333" stroke-width="1.4"/>
<text x="1162.8" y="75.0" font-size="22" text-anchor="middle">*</text>
<text x="1163.0" y="222.0" font-size="26" text-anchor="end" transform="rotate(-45 1163.0 222.0)">Agg<tspan dy="-9" font-size="19">+</tspan></text>
<text x="1210.0" y="221.0" font-size="26" text-anchor="end" transform="rotate(-45 1210.0 221.0)">Agg<tspan dy="-9" font-size="19">−</tspan></text>
<text x="1077.5" y="289.7" font-size="24.8"><tspan fill="#8c8c8c">Post</tspan> behaviour</text>
<text x="1020.0" y="118.0" font-size="27.2" text-anchor="middle" transform="rotate(-90 1020.0 118.0)">Contact</text>
<text x="1050.0" y="118.0" font-size="27.2" text-anchor="middle" transform="rotate(-90 1050.0 118.0)">latency (s)</text>
<text x="1252.5" y="25.2" font-size="33" font-weight="bold">e</text>
<rect x="1359.60" y="170.30" width="21.40" height="11.20" fill="#e49ca2" stroke="#8a8a8a" stroke-width="1.1"/>
<line x1="1359.60" y1="176.30" x2="1381.00" y2="176.30" stroke="#4e2a2e" stroke-width="2.0" />
<rect x="1381.00" y="163.50" width="21.50" height="12.80" fill="#98bfdc" stroke="#8a8a8a" stroke-width="1.1"/>
<line x1="1381.00" y1="174.40" x2="1402.50" y2="174.40" stroke="#4e2a2e" stroke-width="2.0" />
<line x1="1422.90" y1="129.40" x2="1422.90" y2="137.40" stroke="#333" stroke-width="1.6" />
<line x1="1422.90" y1="172.00" x2="1422.90" y2="182.80" stroke="#333" stroke-width="1.6" />
<rect x="1412.40" y="137.40" width="21.00" height="34.60" fill="#e49ca2" stroke="#8a8a8a" stroke-width="1.1"/>
<line x1="1412.40" y1="149.00" x2="1433.40" y2="149.00" stroke="#4e2a2e" stroke-width="2.0" />
<line x1="1444.50" y1="77.80" x2="1444.50" y2="132.40" stroke="#333" stroke-width="1.6" />
<line x1="1444.50" y1="181.00" x2="1444.50" y2="185.60" stroke="#333" stroke-width="1.6" />
<rect x="1433.40" y="132.40" width="22.20" height="48.60" fill="#98bfdc" stroke="#8a8a8a" stroke-width="1.1"/>
<line x1="1433.40" y1="160.50" x2="1455.60" y2="160.50" stroke="#4e2a2e" stroke-width="2.0" />
<circle cx="1365.12" cy="164.82" r="3.20" fill="rgba(205,55,70,0.45)"  stroke="rgba(150,25,40,0.55)" stroke-width="0.8"/>
<circle cx="1366.12" cy="167.79" r="3.20" fill="rgba(205,55,70,0.45)"  stroke="rgba(150,25,40,0.55)" stroke-width="0.8"/>
<circle cx="1368.93" cy="173.73" r="3.20" fill="rgba(205,55,70,0.45)"  stroke="rgba(150,25,40,0.55)" stroke-width="0.8"/>
<circle cx="1371.84" cy="175.22" r="3.20" fill="rgba(205,55,70,0.45)"  stroke="rgba(150,25,40,0.55)" stroke-width="0.8"/>
<circle cx="1366.39" cy="179.68" r="3.20" fill="rgba(205,55,70,0.45)"  stroke="rgba(150,25,40,0.55)" stroke-width="0.8"/>
<circle cx="1366.12" cy="181.17" r="3.20" fill="rgba(205,55,70,0.45)"  stroke="rgba(150,25,40,0.55)" stroke-width="0.8"/>
<circle cx="1367.32" cy="182.65" r="3.20" fill="rgba(205,55,70,0.45)"  stroke="rgba(150,25,40,0.55)" stroke-width="0.8"/>
<circle cx="1387.77" cy="141.03" r="3.20" fill="rgba(70,125,175,0.45)"  stroke="rgba(30,70,110,0.55)" stroke-width="0.8"/>
<circle cx="1389.14" cy="161.84" r="3.20" fill="rgba(70,125,175,0.45)"  stroke="rgba(30,70,110,0.55)" stroke-width="0.8"/>
<circle cx="1390.03" cy="164.82" r="3.20" fill="rgba(70,125,175,0.45)"  stroke="rgba(30,70,110,0.55)" stroke-width="0.8"/>
<circle cx="1396.00" cy="170.76" r="3.20" fill="rgba(70,125,175,0.45)"  stroke="rgba(30,70,110,0.55)" stroke-width="0.8"/>
<circle cx="1391.96" cy="175.22" r="3.20" fill="rgba(70,125,175,0.45)"  stroke="rgba(30,70,110,0.55)" stroke-width="0.8"/>
<circle cx="1394.20" cy="176.71" r="3.20" fill="rgba(70,125,175,0.45)"  stroke="rgba(30,70,110,0.55)" stroke-width="0.8"/>
<circle cx="1388.00" cy="179.68" r="3.20" fill="rgba(70,125,175,0.45)"  stroke="rgba(30,70,110,0.55)" stroke-width="0.8"/>
<circle cx="1423.56" cy="84.54" r="3.20" fill="rgba(205,55,70,0.45)"  stroke="rgba(150,25,40,0.55)" stroke-width="0.8"/>
<circle cx="1424.06" cy="129.14" r="3.20" fill="rgba(205,55,70,0.45)"  stroke="rgba(150,25,40,0.55)" stroke-width="0.8"/>
<circle cx="1425.54" cy="135.09" r="3.20" fill="rgba(205,55,70,0.45)"  stroke="rgba(150,25,40,0.55)" stroke-width="0.8"/>
<circle cx="1421.22" cy="141.03" r="3.20" fill="rgba(205,55,70,0.45)"  stroke="rgba(150,25,40,0.55)" stroke-width="0.8"/>
<circle cx="1424.21" cy="146.98" r="3.20" fill="rgba(205,55,70,0.45)"  stroke="rgba(150,25,40,0.55)" stroke-width="0.8"/>
<circle cx="1426.13" cy="152.92" r="3.20" fill="rgba(205,55,70,0.45)"  stroke="rgba(150,25,40,0.55)" stroke-width="0.8"/>
<circle cx="1426.27" cy="170.76" r="3.20" fill="rgba(205,55,70,0.45)"  stroke="rgba(150,25,40,0.55)" stroke-width="0.8"/>
<circle cx="1420.49" cy="179.68" r="3.20" fill="rgba(205,55,70,0.45)"  stroke="rgba(150,25,40,0.55)" stroke-width="0.8"/>
<circle cx="1424.21" cy="182.65" r="3.20" fill="rgba(205,55,70,0.45)"  stroke="rgba(150,25,40,0.55)" stroke-width="0.8"/>
<circle cx="1444.23" cy="81.57" r="3.20" fill="rgba(70,125,175,0.45)"  stroke="rgba(30,70,110,0.55)" stroke-width="0.8"/>
<circle cx="1444.69" cy="114.27" r="3.20" fill="rgba(70,125,175,0.45)"  stroke="rgba(30,70,110,0.55)" stroke-width="0.8"/>
<circle cx="1446.75" cy="126.17" r="3.20" fill="rgba(70,125,175,0.45)"  stroke="rgba(30,70,110,0.55)" stroke-width="0.8"/>
<circle cx="1447.19" cy="146.98" r="3.20" fill="rgba(70,125,175,0.45)"  stroke="rgba(30,70,110,0.55)" stroke-width="0.8"/>
<circle cx="1447.06" cy="152.92" r="3.20" fill="rgba(70,125,175,0.45)"  stroke="rgba(30,70,110,0.55)" stroke-width="0.8"/>
<circle cx="1442.92" cy="170.76" r="3.20" fill="rgba(70,125,175,0.45)"  stroke="rgba(30,70,110,0.55)" stroke-width="0.8"/>
<circle cx="1447.59" cy="172.25" r="3.20" fill="rgba(70,125,175,0.45)"  stroke="rgba(30,70,110,0.55)" stroke-width="0.8"/>
<circle cx="1443.39" cy="185.63" r="3.20" fill="rgba(70,125,175,0.45)"  stroke="rgba(30,70,110,0.55)" stroke-width="0.8"/>
<circle cx="1442.45" cy="187.11" r="3.20" fill="rgba(70,125,175,0.45)"  stroke="rgba(30,70,110,0.55)" stroke-width="0.8"/>
<line x1="1355.25" y1="72.20" x2="1355.25" y2="193.00" stroke="#2b2b2b" stroke-width="1.6" />
<line x1="1350.25" y1="99.70" x2="1355.25" y2="99.70" stroke="#2b2b2b" stroke-width="1.6" />
<text x="1345.8" y="108.7" font-size="25" text-anchor="end">300</text>
<line x1="1350.25" y1="144.00" x2="1355.25" y2="144.00" stroke="#2b2b2b" stroke-width="1.6" />
<text x="1345.8" y="153.0" font-size="25" text-anchor="end">150</text>
<line x1="1350.25" y1="188.60" x2="1355.25" y2="188.60" stroke="#2b2b2b" stroke-width="1.6" />
<text x="1345.8" y="197.6" font-size="25" text-anchor="end">0</text>
<line x1="1355.25" y1="193.00" x2="1460.00" y2="193.00" stroke="#2b2b2b" stroke-width="1.6" />
<line x1="1381.50" y1="193.00" x2="1381.50" y2="198.00" stroke="#2b2b2b" stroke-width="1.6" />
<line x1="1434.40" y1="193.00" x2="1434.40" y2="198.00" stroke="#2b2b2b" stroke-width="1.6" />
<text x="1371.5" y="249.4" font-size="25.5" transform="rotate(-45 1371.5 249.4)">sniff</text>
<text x="1412.0" y="267.1" font-size="25.5" transform="rotate(-45 1412.0 267.1)">groom</text>
<text x="1332.0" y="290.0" font-size="24.8"><tspan fill="#8c8c8c">Pre</tspan> behaviour</text>
<text x="1291.0" y="132.5" font-size="26" text-anchor="middle" transform="rotate(-90 1291.0 132.5)">Duration (s)</text>
<text x="1361.0" y="34.7" font-size="25.5" fill="#d0282e">Agg<tspan dy="-6.5" font-size="20" font-weight="bold">+</tspan></text>
<text x="1361.0" y="66.6" font-size="25.5" fill="#4a86c2">Agg<tspan dy="-7.5" font-size="20" font-weight="bold">−</tspan></text>
<text x="5.0" y="363.0" font-size="33" font-weight="bold">f</text>
<rect x="118.70" y="545.00" width="42.20" height="37.70" fill="#e05a66" />
<rect x="172.50" y="519.40" width="42.10" height="63.30" fill="#e05a66" />
<rect x="248.80" y="581.20" width="36.20" height="1.50" fill="#e05a66" />
<rect x="297.00" y="581.20" width="38.00" height="1.50" fill="#e05a66" />
<rect x="376.00" y="581.20" width="38.60" height="1.50" fill="#e05a66" />
<rect x="426.00" y="581.20" width="38.00" height="1.50" fill="#e05a66" />
<line x1="112.80" y1="377.40" x2="112.80" y2="582.70" stroke="#2b2b2b" stroke-width="1.6" />
<line x1="106.80" y1="377.40" x2="112.80" y2="377.40" stroke="#2b2b2b" stroke-width="1.6" />
<text x="103.0" y="386.2" font-size="24.4" text-anchor="end">100</text>
<line x1="106.80" y1="428.80" x2="112.80" y2="428.80" stroke="#2b2b2b" stroke-width="1.6" />
<text x="103.0" y="437.6" font-size="24.4" text-anchor="end">75</text>
<line x1="106.80" y1="480.20" x2="112.80" y2="480.20" stroke="#2b2b2b" stroke-width="1.6" />
<text x="103.0" y="489.0" font-size="24.4" text-anchor="end">50</text>
<line x1="106.80" y1="531.30" x2="112.80" y2="531.30" stroke="#2b2b2b" stroke-width="1.6" />
<text x="103.0" y="540.1" font-size="24.4" text-anchor="end">25</text>
<line x1="106.80" y1="582.70" x2="112.80" y2="582.70" stroke="#2b2b2b" stroke-width="1.6" />
<text x="103.0" y="591.5" font-size="24.4" text-anchor="end">0</text>
<line x1="112.80" y1="582.70" x2="468.60" y2="582.70" stroke="#2b2b2b" stroke-width="1.6" />
<line x1="139.30" y1="582.70" x2="139.30" y2="588.70" stroke="#2b2b2b" stroke-width="1.6" />
<text x="139.3" y="608.6" font-size="23.6" text-anchor="middle">Pre</text>
<line x1="194.00" y1="582.70" x2="194.00" y2="588.70" stroke="#2b2b2b" stroke-width="1.6" />
<text x="194.0" y="608.6" font-size="23.6" text-anchor="middle">Post</text>
<line x1="267.00" y1="582.70" x2="267.00" y2="588.70" stroke="#2b2b2b" stroke-width="1.6" />
<text x="267.0" y="608.6" font-size="23.6" text-anchor="middle">Pre</text>
<line x1="315.00" y1="582.70" x2="315.00" y2="588.70" stroke="#2b2b2b" stroke-width="1.6" />
<text x="315.0" y="608.6" font-size="23.6" text-anchor="middle">Post</text>
<line x1="394.70" y1="582.70" x2="394.70" y2="588.70" stroke="#2b2b2b" stroke-width="1.6" />
<text x="394.7" y="608.6" font-size="23.6" text-anchor="middle">Pre</text>
<line x1="444.40" y1="582.70" x2="444.40" y2="588.70" stroke="#2b2b2b" stroke-width="1.6" />
<text x="444.4" y="608.6" font-size="23.6" text-anchor="middle">Post</text>
<text x="52.0" y="478.5" font-size="26.5" text-anchor="middle" transform="rotate(-90 52.0 478.5)">% Aggressive</text>
<path transform="translate(124.2 619.4) scale(1.000 1.000)" d="M0.3,1.6 L10.2,5 L11.5,6.5 L8.5,8.6 L9,9.6 L13,10.2 C13.5,6 17,2 23.6,0.3 C28,-0.3 33,2 36.4,6.4 L40.2,10 L42.7,9.2 L44,10.8 L50,14.5 L51.2,13.8 L51.5,16.5 L52.8,20.5 L51.5,23 L46.5,24.5 L40,26 L37,28.8 L34,29.3 L32,26.5 L30.5,29.3 L28,29 L25.5,24 L19.8,20 L18.5,22.5 L16,22 L14.7,17.2 L13.1,12.8 L12,11.2 L8,11 L6.8,8.6 L9,6.8 L0,3 Z" fill="#000"/>
<g transform="translate(184.3 631.0)" stroke="#555" fill="none" stroke-width="0.8"><path d="M2,0 L6,8 M4,0 L7,8" stroke="#999" stroke-width="0.6"/><ellipse cx="14" cy="10" rx="9" ry="3" fill="#444" stroke="none"/><ellipse cx="21" cy="8.5" rx="3.5" ry="2.5" fill="#333" stroke="none"/><path d="M9,11 L6,15 M13,12 L12,16 M17,12 L20,16 M19,11 L24,14 M22,9 L30,9.5" /><path d="M5,9 L0,10" stroke="#999"/></g>
<path transform="translate(235.0 619.4) scale(1.000 1.000)" d="M0.3,1.6 L10.2,5 L11.5,6.5 L8.5,8.6 L9,9.6 L13,10.2 C13.5,6 17,2 23.6,0.3 C28,-0.3 33,2 36.4,6.4 L40.2,10 L42.7,9.2 L44,10.8 L50,14.5 L51.2,13.8 L51.5,16.5 L52.8,20.5 L51.5,23 L46.5,24.5 L40,26 L37,28.8 L34,29.3 L32,26.5 L30.5,29.3 L28,29 L25.5,24 L19.8,20 L18.5,22.5 L16,22 L14.7,17.2 L13.1,12.8 L12,11.2 L8,11 L6.8,8.6 L9,6.8 L0,3 Z" fill="#000"/>
<path transform="translate(290.5 616.0) scale(1.000 1.000)" d="M0.2,20.7 L1.2,16.5 L1.9,14.5 L3,16 L6,12.5 L10.2,9.1 L11.8,10 C13.5,7.5 15,6 17.2,4.6 C20.5,2 24,0 28,0 C31,0 33.5,0.5 34.6,1.2 C36.5,2.5 37.8,4 38.4,5.4 L39.6,8.3 L41.7,7.9 L41.2,6 L52,1 L52.5,1.9 L45,5.8 L45.4,8.3 L40.8,10.8 L39.6,12.9 L37.5,19.1 L36.3,21.9 L34.2,21.1 L33.8,18.7 L27.2,23.2 L23.8,29 L22.2,28.2 L20.5,25.3 L17.6,28.6 L16.4,27.4 L17.6,24.9 L7.7,23.2 L4.4,22.8 L0.2,21.6 Z" fill="#000"/>
<text x="316.0" y="634.1" font-size="16" text-anchor="middle" fill="#fff" style="font-family:DejaVu Sans, sans-serif">♂</text>
<path transform="translate(364.8 619.4) scale(1.000 1.000)" d="M0.3,1.6 L10.2,5 L11.5,6.5 L8.5,8.6 L9,9.6 L13,10.2 C13.5,6 17,2 23.6,0.3 C28,-0.3 33,2 36.4,6.4 L40.2,10 L42.7,9.2 L44,10.8 L50,14.5 L51.2,13.8 L51.5,16.5 L52.8,20.5 L51.5,23 L46.5,24.5 L40,26 L37,28.8 L34,29.3 L32,26.5 L30.5,29.3 L28,29 L25.5,24 L19.8,20 L18.5,22.5 L16,22 L14.7,17.2 L13.1,12.8 L12,11.2 L8,11 L6.8,8.6 L9,6.8 L0,3 Z" fill="#000"/>
<path transform="translate(421.0 616.0) scale(1.000 1.000)" d="M0.2,20.7 L1.2,16.5 L1.9,14.5 L3,16 L6,12.5 L10.2,9.1 L11.8,10 C13.5,7.5 15,6 17.2,4.6 C20.5,2 24,0 28,0 C31,0 33.5,0.5 34.6,1.2 C36.5,2.5 37.8,4 38.4,5.4 L39.6,8.3 L41.7,7.9 L41.2,6 L52,1 L52.5,1.9 L45,5.8 L45.4,8.3 L40.8,10.8 L39.6,12.9 L37.5,19.1 L36.3,21.9 L34.2,21.1 L33.8,18.7 L27.2,23.2 L23.8,29 L22.2,28.2 L20.5,25.3 L17.6,28.6 L16.4,27.4 L17.6,24.9 L7.7,23.2 L4.4,22.8 L0.2,21.6 Z" fill="#000"/>
<text x="445.0" y="633.3" font-size="16.5" text-anchor="middle" fill="#fff" style="font-family:DejaVu Sans, sans-serif">♀</text>
<text x="282.0" y="364.5" font-size="33" font-weight="bold">g</text>
<rect x="419.60" y="464.30" width="28.20" height="33.70" fill="#8f8f8f" />
<rect x="457.00" y="393.00" width="28.20" height="105.00" fill="#df9150" />
<line x1="414.60" y1="388.00" x2="414.60" y2="498.00" stroke="#2b2b2b" stroke-width="1.6" />
<line x1="409.60" y1="393.00" x2="414.60" y2="393.00" stroke="#2b2b2b" stroke-width="1.6" />
<text x="407.0" y="401.3" font-size="23" text-anchor="end">100</text>
<line x1="409.60" y1="445.40" x2="414.60" y2="445.40" stroke="#2b2b2b" stroke-width="1.6" />
<text x="407.0" y="453.7" font-size="23" text-anchor="end">50</text>
<line x1="409.60" y1="498.00" x2="414.60" y2="498.00" stroke="#2b2b2b" stroke-width="1.6" />
<text x="407.0" y="506.3" font-size="23" text-anchor="end">0</text>
<line x1="414.60" y1="498.00" x2="489.20" y2="498.00" stroke="#2b2b2b" stroke-width="1.6" />
<line x1="433.50" y1="498.00" x2="433.50" y2="503.00" stroke="#2b2b2b" stroke-width="1.6" />
<line x1="471.00" y1="498.00" x2="471.00" y2="503.00" stroke="#2b2b2b" stroke-width="1.6" />
<text x="424.8" y="540.5" font-size="23" transform="rotate(-45 424.8 540.5)">Pre</text>
<text x="459.4" y="547.8" font-size="23" transform="rotate(-45 459.4 547.8)">Post</text>
<text x="357.0" y="442.5" font-size="24.8" text-anchor="middle" transform="rotate(-90 357.0 442.5)">% Consumed</text>
<text x="586.3" y="364.0" font-size="33" font-weight="bold">h</text>
<text x="617.0" y="415.0" font-size="24.7">Elevated Plus Maze</text>
<path d="M802.5 439.25 H854.25 V385.5 H875 V439.25 H926.25 V457 H875 V510.5 H854.25 V457 H802.5 Z" fill="#eef0f3"/>
<path d="M854.25 437.25 V385.5 H875 V437.25 M854.25 459 V510.5 H875 V459" fill="none" stroke="#111" stroke-width="2.6"/>
<path d="M854.25 439.25 H802.5 V457 H854.25 M875 439.25 H926.25 V457 H875" fill="none" stroke="#222" stroke-width="1.3"/>
<path d="M806 447 C810 446 814 449 820 447.5" fill="none" stroke="#b07080" stroke-width="0.9"/>
<path d="M819 448 C820 443 826 442.5 830 443 L833 442 L834 444 L839 447 L836 449.5 L830 451 C826 452.5 821 452 819 448 Z" fill="#4a4646"/>
<rect x="705.00" y="603.25" width="30.00" height="3.00" fill="#e3a0a6" stroke="#444" stroke-width="1.1"/>
<line x1="705.00" y1="604.50" x2="735.00" y2="604.50" stroke="#333" stroke-width="2.0" />
<line x1="750.00" y1="541.25" x2="750.00" y2="576.25" stroke="#333" stroke-width="1.6" />
<line x1="750.00" y1="603.00" x2="750.00" y2="613.75" stroke="#333" stroke-width="1.6" />
<rect x="735.00" y="576.25" width="30.00" height="26.75" fill="#92bad8" stroke="#444" stroke-width="1.1"/>
<line x1="735.00" y1="593.00" x2="765.00" y2="593.00" stroke="#333" stroke-width="2.0" />
<rect x="780.00" y="600.75" width="29.50" height="3.50" fill="#e3a0a6" stroke="#444" stroke-width="1.1"/>
<line x1="780.00" y1="602.50" x2="809.50" y2="602.50" stroke="#333" stroke-width="2.0" />
<line x1="824.12" y1="612.00" x2="824.12" y2="620.00" stroke="#333" stroke-width="1.6" />
<rect x="809.50" y="603.25" width="29.25" height="8.75" fill="#92bad8" stroke="#444" stroke-width="1.1"/>
<line x1="809.50" y1="603.25" x2="838.75" y2="603.25" stroke="#333" stroke-width="2.0" />
<circle cx="717.00" cy="604.00" r="3.30" fill="rgba(205,55,70,0.45)"  stroke="rgba(150,25,40,0.55)" stroke-width="0.8"/>
<circle cx="722.00" cy="603.00" r="3.30" fill="rgba(205,55,70,0.45)"  stroke="rgba(150,25,40,0.55)" stroke-width="0.8"/>
<circle cx="727.00" cy="605.00" r="3.30" fill="rgba(205,55,70,0.45)"  stroke="rgba(150,25,40,0.55)" stroke-width="0.8"/>
<circle cx="716.00" cy="613.00" r="3.30" fill="rgba(205,55,70,0.45)"  stroke="rgba(150,25,40,0.55)" stroke-width="0.8"/>
<circle cx="751.00" cy="541.00" r="3.30" fill="rgba(70,125,175,0.45)"  stroke="rgba(30,70,110,0.55)" stroke-width="0.8"/>
<circle cx="748.00" cy="573.00" r="3.30" fill="rgba(70,125,175,0.45)"  stroke="rgba(30,70,110,0.55)" stroke-width="0.8"/>
<circle cx="752.00" cy="584.00" r="3.30" fill="rgba(70,125,175,0.45)"  stroke="rgba(30,70,110,0.55)" stroke-width="0.8"/>
<circle cx="746.00" cy="612.00" r="3.30" fill="rgba(70,125,175,0.45)"  stroke="rgba(30,70,110,0.55)" stroke-width="0.8"/>
<circle cx="751.00" cy="597.00" r="3.30" fill="rgba(70,125,175,0.45)"  stroke="rgba(30,70,110,0.55)" stroke-width="0.8"/>
<circle cx="796.00" cy="592.00" r="3.30" fill="rgba(205,55,70,0.45)"  stroke="rgba(150,25,40,0.55)" stroke-width="0.8"/>
<circle cx="797.00" cy="595.00" r="3.30" fill="rgba(205,55,70,0.45)"  stroke="rgba(150,25,40,0.55)" stroke-width="0.8"/>
<circle cx="793.00" cy="603.00" r="3.30" fill="rgba(205,55,70,0.45)"  stroke="rgba(150,25,40,0.55)" stroke-width="0.8"/>
<circle cx="792.00" cy="618.00" r="3.30" fill="rgba(205,55,70,0.45)"  stroke="rgba(150,25,40,0.55)" stroke-width="0.8"/>
<circle cx="826.00" cy="577.00" r="3.30" fill="rgba(70,125,175,0.45)"  stroke="rgba(30,70,110,0.55)" stroke-width="0.8"/>
<circle cx="822.00" cy="602.00" r="3.30" fill="rgba(70,125,175,0.45)"  stroke="rgba(30,70,110,0.55)" stroke-width="0.8"/>
<circle cx="826.00" cy="604.00" r="3.30" fill="rgba(70,125,175,0.45)"  stroke="rgba(30,70,110,0.55)" stroke-width="0.8"/>
<circle cx="827.00" cy="617.00" r="3.30" fill="rgba(70,125,175,0.45)"  stroke="rgba(30,70,110,0.55)" stroke-width="0.8"/>
<circle cx="826.00" cy="619.00" r="3.30" fill="rgba(70,125,175,0.45)"  stroke="rgba(30,70,110,0.55)" stroke-width="0.8"/>
<line x1="697.50" y1="478.75" x2="697.50" y2="624.25" stroke="#2b2b2b" stroke-width="1.6" />
<line x1="692.50" y1="478.75" x2="697.50" y2="478.75" stroke="#2b2b2b" stroke-width="1.6" />
<text x="690.5" y="487.8" font-size="25" text-anchor="end">4</text>
<line x1="692.50" y1="551.75" x2="697.50" y2="551.75" stroke="#2b2b2b" stroke-width="1.6" />
<text x="690.5" y="560.8" font-size="25" text-anchor="end">2</text>
<line x1="692.50" y1="624.25" x2="697.50" y2="624.25" stroke="#2b2b2b" stroke-width="1.6" />
<text x="690.5" y="633.2" font-size="25" text-anchor="end">0</text>
<line x1="697.50" y1="624.25" x2="847.50" y2="624.25" stroke="#2b2b2b" stroke-width="1.6" />
<line x1="735.00" y1="624.25" x2="735.00" y2="629.25" stroke="#2b2b2b" stroke-width="1.6" />
<text x="735.0" y="650.0" font-size="23.6" text-anchor="middle">Pre</text>
<line x1="809.50" y1="624.25" x2="809.50" y2="629.25" stroke="#2b2b2b" stroke-width="1.6" />
<text x="809.5" y="650.0" font-size="23.6" text-anchor="middle">Post</text>
<text x="713.0" y="482.5" font-size="25.5" fill="#d0282e">Agg<tspan dy="-6.5" font-size="20" font-weight="bold">+</tspan></text>
<text x="713.0" y="514.0" font-size="25.5" fill="#4a86c2">Agg<tspan dy="-7.5" font-size="20" font-weight="bold">−</tspan></text>
<text x="638.0" y="555.0" font-size="26.7" text-anchor="middle" transform="rotate(-90 638.0 555.0)">Open/closed</text>
<text x="668.0" y="555.0" font-size="26.7" text-anchor="middle" transform="rotate(-90 668.0 555.0)">arm ratio</text>
<text x="1009.5" y="364.0" font-size="33" font-weight="bold">i</text>
<text x="1090.5" y="415.0" font-size="24.7">Open Field</text>
<rect x="1245.50" y="382.50" width="113.25" height="110.00" fill="#eef0f3" />
<line x1="1272.50" y1="382.50" x2="1272.50" y2="492.50" stroke="#aaa" stroke-width="0.8" />
<line x1="1300.75" y1="382.50" x2="1300.75" y2="492.50" stroke="#aaa" stroke-width="0.8" />
<line x1="1329.50" y1="382.50" x2="1329.50" y2="492.50" stroke="#aaa" stroke-width="0.8" />
<line x1="1245.50" y1="407.50" x2="1358.75" y2="407.50" stroke="#aaa" stroke-width="0.8" />
<line x1="1245.50" y1="436.25" x2="1358.75" y2="436.25" stroke="#aaa" stroke-width="0.8" />
<line x1="1245.50" y1="464.50" x2="1358.75" y2="464.50" stroke="#aaa" stroke-width="0.8" />
<rect x="1245.5" y="382.5" width="113.25" height="110.0" fill="none" stroke="#111" stroke-width="1.4"/>
<rect x="1286.25" y="420.5" width="30" height="29" fill="none" stroke="#c0457a" stroke-width="1"/>
<path d="M1318 455 C1324 459 1330 463 1337.5 467" fill="none" stroke="#9a8080" stroke-width="0.8"/>
<path d="M1306.5 440.5 L1310 440 L1312 442.5 C1316 444 1320 446.5 1323 449.5 C1326 452.5 1325.5 457 1322 458 L1320 461 L1318.5 458.5 C1315 456.5 1313 453 1311.5 449.5 L1309 448 L1310 445.5 Z" fill="#3e3a3a"/>
<line x1="1163.50" y1="543.75" x2="1163.50" y2="547.50" stroke="#333" stroke-width="1.6" />
<line x1="1163.50" y1="565.00" x2="1163.50" y2="576.75" stroke="#333" stroke-width="1.6" />
<line x1="1156.00" y1="543.75" x2="1171.00" y2="543.75" stroke="#333" stroke-width="1.6" />
<line x1="1156.00" y1="576.75" x2="1171.00" y2="576.75" stroke="#333" stroke-width="1.6" />
<rect x="1149.00" y="547.50" width="29.00" height="17.50" fill="#e3a0a6" stroke="#333" stroke-width="1.3"/>
<line x1="1149.00" y1="553.75" x2="1178.00" y2="553.75" stroke="#333" stroke-width="2.0" />
<line x1="1193.00" y1="538.25" x2="1193.00" y2="548.75" stroke="#333" stroke-width="1.6" />
<line x1="1193.00" y1="562.50" x2="1193.00" y2="581.25" stroke="#333" stroke-width="1.6" />
<line x1="1185.50" y1="538.25" x2="1200.50" y2="538.25" stroke="#333" stroke-width="1.6" />
<line x1="1185.50" y1="581.25" x2="1200.50" y2="581.25" stroke="#333" stroke-width="1.6" />
<rect x="1178.00" y="548.75" width="30.00" height="13.75" fill="#92bad8" stroke="#333" stroke-width="1.3"/>
<line x1="1178.00" y1="551.25" x2="1208.00" y2="551.25" stroke="#333" stroke-width="2.0" />
<line x1="1237.62" y1="538.00" x2="1237.62" y2="553.25" stroke="#333" stroke-width="1.6" />
<line x1="1237.62" y1="567.50" x2="1237.62" y2="573.00" stroke="#333" stroke-width="1.6" />
<line x1="1230.12" y1="538.00" x2="1245.12" y2="538.00" stroke="#333" stroke-width="1.6" />
<line x1="1230.12" y1="573.00" x2="1245.12" y2="573.00" stroke="#333" stroke-width="1.6" />
<rect x="1223.25" y="553.25" width="28.75" height="14.25" fill="#e3a0a6" stroke="#333" stroke-width="1.3"/>
<line x1="1223.25" y1="558.75" x2="1252.00" y2="558.75" stroke="#333" stroke-width="2.0" />
<line x1="1267.25" y1="542.50" x2="1267.25" y2="544.25" stroke="#333" stroke-width="1.6" />
<line x1="1267.25" y1="567.50" x2="1267.25" y2="588.00" stroke="#333" stroke-width="1.6" />
<line x1="1260.25" y1="542.50" x2="1274.25" y2="542.50" stroke="#333" stroke-width="1.6" />
<line x1="1260.25" y1="588.00" x2="1274.25" y2="588.00" stroke="#333" stroke-width="1.6" />
<rect x="1252.00" y="544.25" width="30.50" height="23.25" fill="#92bad8" stroke="#333" stroke-width="1.3"/>
<line x1="1252.00" y1="549.50" x2="1282.50" y2="549.50" stroke="#333" stroke-width="2.0" />
<circle cx="1163.00" cy="543.00" r="3.40" fill="rgba(205,55,70,0.45)"  stroke="rgba(150,25,40,0.55)" stroke-width="0.8"/>
<circle cx="1161.00" cy="549.00" r="3.40" fill="rgba(205,55,70,0.45)"  stroke="rgba(150,25,40,0.55)" stroke-width="0.8"/>
<circle cx="1166.00" cy="556.00" r="3.40" fill="rgba(205,55,70,0.45)"  stroke="rgba(150,25,40,0.55)" stroke-width="0.8"/>
<circle cx="1160.00" cy="565.00" r="3.40" fill="rgba(205,55,70,0.45)"  stroke="rgba(150,25,40,0.55)" stroke-width="0.8"/>
<circle cx="1164.00" cy="569.00" r="3.40" fill="rgba(205,55,70,0.45)"  stroke="rgba(150,25,40,0.55)" stroke-width="0.8"/>
<circle cx="1163.00" cy="577.00" r="3.40" fill="rgba(205,55,70,0.45)"  stroke="rgba(150,25,40,0.55)" stroke-width="0.8"/>
<circle cx="1196.00" cy="538.00" r="3.40" fill="rgba(70,125,175,0.45)"  stroke="rgba(30,70,110,0.55)" stroke-width="0.8"/>
<circle cx="1194.00" cy="546.00" r="3.40" fill="rgba(70,125,175,0.45)"  stroke="rgba(30,70,110,0.55)" stroke-width="0.8"/>
<circle cx="1196.00" cy="551.00" r="3.40" fill="rgba(70,125,175,0.45)"  stroke="rgba(30,70,110,0.55)" stroke-width="0.8"/>
<circle cx="1192.00" cy="558.00" r="3.40" fill="rgba(70,125,175,0.45)"  stroke="rgba(30,70,110,0.55)" stroke-width="0.8"/>
<circle cx="1192.00" cy="566.00" r="3.40" fill="rgba(70,125,175,0.45)"  stroke="rgba(30,70,110,0.55)" stroke-width="0.8"/>
<circle cx="1193.00" cy="581.00" r="3.40" fill="rgba(70,125,175,0.45)"  stroke="rgba(30,70,110,0.55)" stroke-width="0.8"/>
<circle cx="1236.00" cy="538.00" r="3.40" fill="rgba(205,55,70,0.45)"  stroke="rgba(150,25,40,0.55)" stroke-width="0.8"/>
<circle cx="1237.00" cy="552.00" r="3.40" fill="rgba(205,55,70,0.45)"  stroke="rgba(150,25,40,0.55)" stroke-width="0.8"/>
<circle cx="1240.00" cy="557.00" r="3.40" fill="rgba(205,55,70,0.45)"  stroke="rgba(150,25,40,0.55)" stroke-width="0.8"/>
<circle cx="1236.00" cy="563.00" r="3.40" fill="rgba(205,55,70,0.45)"  stroke="rgba(150,25,40,0.55)" stroke-width="0.8"/>
<circle cx="1235.00" cy="569.00" r="3.40" fill="rgba(205,55,70,0.45)"  stroke="rgba(150,25,40,0.55)" stroke-width="0.8"/>
<circle cx="1236.00" cy="574.00" r="3.40" fill="rgba(205,55,70,0.45)"  stroke="rgba(150,25,40,0.55)" stroke-width="0.8"/>
<circle cx="1269.00" cy="543.00" r="3.40" fill="rgba(70,125,175,0.45)"  stroke="rgba(30,70,110,0.55)" stroke-width="0.8"/>
<circle cx="1266.00" cy="547.00" r="3.40" fill="rgba(70,125,175,0.45)"  stroke="rgba(30,70,110,0.55)" stroke-width="0.8"/>
<circle cx="1267.00" cy="551.00" r="3.40" fill="rgba(70,125,175,0.45)"  stroke="rgba(30,70,110,0.55)" stroke-width="0.8"/>
<circle cx="1268.00" cy="562.00" r="3.40" fill="rgba(70,125,175,0.45)"  stroke="rgba(30,70,110,0.55)" stroke-width="0.8"/>
<circle cx="1270.00" cy="573.00" r="3.40" fill="rgba(70,125,175,0.45)"  stroke="rgba(30,70,110,0.55)" stroke-width="0.8"/>
<circle cx="1271.00" cy="588.00" r="3.40" fill="rgba(70,125,175,0.45)"  stroke="rgba(30,70,110,0.55)" stroke-width="0.8"/>
<line x1="1141.25" y1="480.00" x2="1141.25" y2="624.50" stroke="#2b2b2b" stroke-width="1.6" />
<line x1="1136.25" y1="480.00" x2="1141.25" y2="480.00" stroke="#2b2b2b" stroke-width="1.6" />
<text x="1133.5" y="489.0" font-size="25" text-anchor="end">1.0</text>
<line x1="1136.25" y1="552.00" x2="1141.25" y2="552.00" stroke="#2b2b2b" stroke-width="1.6" />
<text x="1133.5" y="561.0" font-size="25" text-anchor="end">0.5</text>
<line x1="1136.25" y1="624.50" x2="1141.25" y2="624.50" stroke="#2b2b2b" stroke-width="1.6" />
<text x="1133.5" y="633.5" font-size="25" text-anchor="end">0.0</text>
<line x1="1141.25" y1="624.50" x2="1290.00" y2="624.50" stroke="#2b2b2b" stroke-width="1.6" />
<line x1="1178.25" y1="624.50" x2="1178.25" y2="629.50" stroke="#2b2b2b" stroke-width="1.6" />
<text x="1178.2" y="650.0" font-size="23.6" text-anchor="middle">Pre</text>
<line x1="1253.00" y1="624.50" x2="1253.00" y2="629.50" stroke="#2b2b2b" stroke-width="1.6" />
<text x="1253.0" y="650.0" font-size="23.6" text-anchor="middle">Post</text>
<text x="1157.0" y="482.0" font-size="25.5" fill="#d0282e">Agg<tspan dy="-6.5" font-size="20" font-weight="bold">+</tspan></text>
<text x="1157.0" y="514.5" font-size="25.5" fill="#4a86c2">Agg<tspan dy="-7.5" font-size="20" font-weight="bold">−</tspan></text>
<text x="1063.0" y="552.0" font-size="26.4" text-anchor="middle" transform="rotate(-90 1063.0 552.0)">Centre/periphery</text>
<text x="1090.0" y="552.0" font-size="26.4" text-anchor="middle" transform="rotate(-90 1090.0 552.0)">ratio</text>
<text x="4.5" y="728.5" font-size="33" font-weight="bold">j</text>
<rect x="132.50" y="806.00" width="37.50" height="95.60" fill="#dc5f6b" />
<rect x="327.30" y="816.00" width="37.50" height="85.60" fill="#dc5f6b" />
<line x1="117.00" y1="747.00" x2="117.00" y2="901.60" stroke="#2b2b2b" stroke-width="1.6" />
<line x1="111.00" y1="747.00" x2="117.00" y2="747.00" stroke="#2b2b2b" stroke-width="1.6" />
<text x="107.0" y="756.0" font-size="25" text-anchor="end">100</text>
<line x1="111.00" y1="824.30" x2="117.00" y2="824.30" stroke="#2b2b2b" stroke-width="1.6" />
<text x="107.0" y="833.3" font-size="25" text-anchor="end">50</text>
<line x1="111.00" y1="901.60" x2="117.00" y2="901.60" stroke="#2b2b2b" stroke-width="1.6" />
<text x="107.0" y="910.6" font-size="25" text-anchor="end">0</text>
<line x1="117.00" y1="901.60" x2="428.70" y2="901.60" stroke="#2b2b2b" stroke-width="1.6" />
<line x1="150.80" y1="901.60" x2="150.80" y2="907.60" stroke="#2b2b2b" stroke-width="1.6" />
<line x1="199.60" y1="901.60" x2="199.60" y2="907.60" stroke="#2b2b2b" stroke-width="1.6" />
<line x1="248.50" y1="901.60" x2="248.50" y2="907.60" stroke="#2b2b2b" stroke-width="1.6" />
<line x1="297.40" y1="901.60" x2="297.40" y2="907.60" stroke="#2b2b2b" stroke-width="1.6" />
<line x1="346.20" y1="901.60" x2="346.20" y2="907.60" stroke="#2b2b2b" stroke-width="1.6" />
<line x1="395.00" y1="901.60" x2="395.00" y2="907.60" stroke="#2b2b2b" stroke-width="1.6" />
<text x="199.6" y="897.0" font-size="22" text-anchor="middle">*</text>
<text x="248.5" y="897.0" font-size="22" text-anchor="middle">**</text>
<text x="297.4" y="897.0" font-size="22" text-anchor="middle">**</text>
<text x="395.0" y="897.0" font-size="22" text-anchor="middle">*</text>
<text x="134.7" y="971.8" font-size="24.8" transform="rotate(-45 134.7 971.8)">-Food</text>
<text x="180.0" y="977.3" font-size="24.8" transform="rotate(-45 180.0 977.3)">-Water</text>
<text x="234.5" y="964.0" font-size="24.8" transform="rotate(-45 234.5 964.0)">Light</text>
<text x="281.7" y="970.9" font-size="24.8" transform="rotate(-45 281.7 970.9)">Novel</text>
<text x="343.3" y="945.5" font-size="24.8" transform="rotate(-45 343.3 945.5)">All</text>
<text x="364.5" y="1000.6" font-size="24.8" transform="rotate(-45 364.5 1000.6)">All +Food</text>
<text x="55.5" y="826.4" font-size="28.5" text-anchor="middle" transform="rotate(-90 55.5 826.4)">% Agg<tspan dy="-11" font-size="20">+</tspan></text>
<text x="478.8" y="729.3" font-size="33" font-weight="bold">k</text>
<defs>
<linearGradient id="objg" x1="0" y1="0" x2="0" y2="1">
<stop offset="0" stop-color="#3a3a3a"/><stop offset="0.45" stop-color="#e8e8e8"/><stop offset="1" stop-color="#2a2a2a"/></linearGradient>
<linearGradient id="coneg" x1="0" y1="0" x2="0" y2="1">
<stop offset="0" stop-color="#6a64e8"/><stop offset="1" stop-color="#c8d4f4"/></linearGradient>
<linearGradient id="cang" x1="0" y1="0" x2="1" y2="0">
<stop offset="0" stop-color="#8a8a8a"/><stop offset="0.5" stop-color="#c4c4c4"/><stop offset="1" stop-color="#8a8a8a"/></linearGradient>
</defs>
<rect x="620.6" y="722.8" width="69.7" height="26.2" fill="#fff" stroke="#222" stroke-width="1.4"/>
<text x="624.5" y="743.4" font-size="24.4">Laser</text>
<rect x="620" y="781" width="97" height="25.3" fill="#fff" stroke="#222" stroke-width="1.4"/>
<text x="624.5" y="800.6" font-size="24.4">Camera</text>
<path d="M620 734 H598 V791" fill="none" stroke="#74c6ee" stroke-width="1.3"/>
<path d="M620 738.5 H602.5 V791" fill="none" stroke="#74c6ee" stroke-width="1.3"/>
<path d="M582 787.5 H620 M582 797.8 H620" fill="none" stroke="#4fcf4f" stroke-width="2.2"/>
<path d="M582 791 H598 M582 794.5 H602" fill="none" stroke="#7cc8ee" stroke-width="1.2"/>
<line x1="585.30" y1="747.20" x2="612.10" y2="721.00" stroke="#6a6a6a" stroke-width="2.2" />
<circle cx="597.50" cy="733.50" r="1.20" fill="#000" />
<line x1="589.00" y1="808.50" x2="616.30" y2="782.30" stroke="#6a6a6a" stroke-width="2.2" />
<path d="M582.5 782.8 H556 L546 789 L542 792.5 L546 796 L556 803.4 H582.5 Z" fill="url(#objg)"/>
<path d="M542 792.5 L549 789 L549 796 Z" fill="#5fd0c0"/>
<path d="M541.5 792.5 C522 792 513 810 513 845" fill="none" stroke="#8a8a8a" stroke-width="3"/>
<path d="M510 893 L517 893 L532 930 L491 930 Z" fill="url(#coneg)" opacity="0.9"/>
<rect x="508.4" y="843.8" width="9.4" height="50.6" rx="3" fill="url(#cang)" stroke="#777" stroke-width="0.8"/>
<path d="M500.4 931.2 l1.5 -1.5 l1.5 1.5" fill="none" stroke="#3fbf3f" stroke-width="0.7"/>
<path d="M503.3 927.6 l1.5 -1.5 l1.5 1.5" fill="none" stroke="#3fbf3f" stroke-width="0.7"/>
<path d="M537.2 927.7 l1.5 -1.5 l1.5 1.5" fill="none" stroke="#3fbf3f" stroke-width="0.7"/>
<path d="M510.8 921.0 l1.5 -1.5 l1.5 1.5" fill="none" stroke="#3fbf3f" stroke-width="0.7"/>
<path d="M531.4 931.4 l1.5 -1.5 l1.5 1.5" fill="none" stroke="#3fbf3f" stroke-width="0.7"/>
<path d="M528.5 924.2 l1.5 -1.5 l1.5 1.5" fill="none" stroke="#3fbf3f" stroke-width="0.7"/>
<path d="M515.0 921.9 l1.5 -1.5 l1.5 1.5" fill="none" stroke="#3fbf3f" stroke-width="0.7"/>
<path d="M531.2 922.3 l1.5 -1.5 l1.5 1.5" fill="none" stroke="#3fbf3f" stroke-width="0.7"/>
<path d="M522.2 925.7 l1.5 -1.5 l1.5 1.5" fill="none" stroke="#3fbf3f" stroke-width="0.7"/>
<path d="M527.0 915.7 l1.5 -1.5 l1.5 1.5" fill="none" stroke="#3fbf3f" stroke-width="0.7"/>
<path d="M507.3 927.0 l1.5 -1.5 l1.5 1.5" fill="none" stroke="#3fbf3f" stroke-width="0.7"/>
<path d="M523.9 929.2 l1.5 -1.5 l1.5 1.5" fill="none" stroke="#3fbf3f" stroke-width="0.7"/>
<path d="M498.6 918.9 l1.5 -1.5 l1.5 1.5" fill="none" stroke="#3fbf3f" stroke-width="0.7"/>
<path d="M520.6 927.7 l1.5 -1.5 l1.5 1.5" fill="none" stroke="#3fbf3f" stroke-width="0.7"/>
<path d="M505.6 928.0 l1.5 -1.5 l1.5 1.5" fill="none" stroke="#3fbf3f" stroke-width="0.7"/>
<path d="M516.1 920.2 l1.5 -1.5 l1.5 1.5" fill="none" stroke="#3fbf3f" stroke-width="0.7"/>
<path d="M536.6 916.8 l1.5 -1.5 l1.5 1.5" fill="none" stroke="#3fbf3f" stroke-width="0.7"/>
<path d="M541.8 920.3 l1.5 -1.5 l1.5 1.5" fill="none" stroke="#3fbf3f" stroke-width="0.7"/>
<path d="M513.8 918.5 l1.5 -1.5 l1.5 1.5" fill="none" stroke="#3fbf3f" stroke-width="0.7"/>
<path d="M518.9 929.3 l1.5 -1.5 l1.5 1.5" fill="none" stroke="#3fbf3f" stroke-width="0.7"/>
<path d="M506.8 924.4 l1.5 -1.5 l1.5 1.5" fill="none" stroke="#3fbf3f" stroke-width="0.7"/>
<path d="M517.6 920.1 l1.5 -1.5 l1.5 1.5" fill="none" stroke="#3fbf3f" stroke-width="0.7"/>
<path d="M502.4 926.9 l1.5 -1.5 l1.5 1.5" fill="none" stroke="#3fbf3f" stroke-width="0.7"/>
<path d="M516.3 923.0 l1.5 -1.5 l1.5 1.5" fill="none" stroke="#3fbf3f" stroke-width="0.7"/>
<path d="M525.5 916.8 l1.5 -1.5 l1.5 1.5" fill="none" stroke="#3fbf3f" stroke-width="0.7"/>
<path d="M536.1 930.1 l1.5 -1.5 l1.5 1.5" fill="none" stroke="#3fbf3f" stroke-width="0.7"/>
<path d="M508.5 928.9 l1.5 -1.5 l1.5 1.5" fill="none" stroke="#3fbf3f" stroke-width="0.7"/>
<path d="M530.2 920.1 l1.5 -1.5 l1.5 1.5" fill="none" stroke="#3fbf3f" stroke-width="0.7"/>
<path d="M509.2 916.4 l1.5 -1.5 l1.5 1.5" fill="none" stroke="#3fbf3f" stroke-width="0.7"/>
<path d="M516.3 922.7 l1.5 -1.5 l1.5 1.5" fill="none" stroke="#3fbf3f" stroke-width="0.7"/>
<path d="M519.9 923.2 l1.5 -1.5 l1.5 1.5" fill="none" stroke="#3fbf3f" stroke-width="0.7"/>
<path d="M522.9 917.1 l1.5 -1.5 l1.5 1.5" fill="none" stroke="#3fbf3f" stroke-width="0.7"/>
<path d="M507.0 924.5 l1.5 -1.5 l1.5 1.5" fill="none" stroke="#3fbf3f" stroke-width="0.7"/>
<path d="M519.1 918.0 l1.5 -1.5 l1.5 1.5" fill="none" stroke="#3fbf3f" stroke-width="0.7"/>
<path d="M509.6 931.6 l1.5 -1.5 l1.5 1.5" fill="none" stroke="#3fbf3f" stroke-width="0.7"/>
<path d="M535.2 927.4 l1.5 -1.5 l1.5 1.5" fill="none" stroke="#3fbf3f" stroke-width="0.7"/>
<path d="M513.4 922.1 l1.5 -1.5 l1.5 1.5" fill="none" stroke="#3fbf3f" stroke-width="0.7"/>
<path d="M530.5 924.6 l1.5 -1.5 l1.5 1.5" fill="none" stroke="#3fbf3f" stroke-width="0.7"/>
<path d="M527.4 915.6 l1.5 -1.5 l1.5 1.5" fill="none" stroke="#3fbf3f" stroke-width="0.7"/>
<path d="M530.9 918.4 l1.5 -1.5 l1.5 1.5" fill="none" stroke="#3fbf3f" stroke-width="0.7"/>
<path d="M519.7 887.8 H526.2 L527 925 L530 932 H517 L519.7 925 Z" fill="#0d0d1a"/>
<path d="M488.7 933.5 C505 932 520 935 535 933 S548 933 552.5 933" fill="none" stroke="#222" stroke-width="1.2"/>
<path d="M533.8 921.6 L557.2 885 L564.7 889.7 Z" fill="#3ad43a" stroke="#1a6a1a" stroke-width="0.8"/>
<text x="550.2" y="848.4" font-size="23.6">AAV-FLEx-</text>
<text x="550.2" y="872.8" font-size="23.6">GCaMP8s</text>
<text x="503.4" y="962.0" font-size="23.6">Arc</text>
<text x="587.7" y="967.5" font-size="23.6" font-style="italic">Agrp-Cre</text>
<path d="M586 895 L596 897 L601 902 L599 906 L607 907 C610 896 618 893 626 894 C636 895 645 903 651 910 L655 909 L656 913 L660 917 L664 922 L662 925 L656 925 L652 928 L648 929 L647 925 L640 924 L634 927 L635 934 L630 935 L627 929 C620 926 613 922 609 913 L603 909.5 L596 909 L598 903 L593 899 L586 896.5 Z" fill="#000"/>
<path d="M646 934 C648 929 656 929 660 932 C664 929 672 931 673 936 C675 940 670 944 664 942 C660 946 651 945 648 941 C645 940 645 936 646 934 Z" fill="#f0b8b0" stroke="#c89890" stroke-width="0.6"/>
<path d="M673 937 C676 939 678 937 680 939" fill="none" stroke="#c89890" stroke-width="0.8"/>
<text x="782.5" y="728.7" font-size="33" font-weight="bold">l</text>
<text x="946.0" y="745.0" font-size="24.7" fill="#b8333d">pup sniff</text>
<line x1="909.75" y1="780" x2="909.75" y2="894" stroke="#b8303c" stroke-width="1.8" stroke-dasharray="5.5 2.5"/>
<line x1="971.75" y1="780" x2="971.75" y2="894" stroke="#b8303c" stroke-width="1.8" stroke-dasharray="5.5 2.5"/>
<line x1="1022" y1="780" x2="1022" y2="894" stroke="#b8303c" stroke-width="1.8" stroke-dasharray="5.5 2.5"/>
<line x1="1055.25" y1="780" x2="1055.25" y2="894" stroke="#b8303c" stroke-width="1.1" stroke-dasharray="5.5 2.5"/>
<line x1="1114" y1="780" x2="1114" y2="894" stroke="#b8303c" stroke-width="1.8" stroke-dasharray="5.5 2.5"/>
<polyline points="868.2,864.7 868.6,868.9 869.0,864.8 869.4,857.6 869.7,861.3 870.1,861.5 870.5,869.3 870.9,865.9 871.2,860.3 871.6,859.0 872.0,871.0 872.4,863.0 872.7,853.5 873.1,862.1 873.5,861.0 873.8,858.4 874.2,873.0 874.6,866.3 875.0,865.0 875.3,863.7 875.7,861.5 876.1,864.4 876.5,871.1 876.8,869.0 877.2,867.6 877.6,866.4 878.0,866.1 878.3,862.5 878.7,872.9 879.1,864.5 879.4,859.8 879.8,862.8 880.2,859.6 880.6,866.6 880.9,866.3 881.3,874.2 881.7,863.1 882.1,864.7 882.4,861.4 882.8,864.6 883.2,870.2 883.5,869.1 883.9,875.6 884.3,867.1 884.7,871.8 885.0,870.7 885.4,869.0 885.8,870.9 886.2,864.5 886.5,879.6 886.9,870.7 887.3,880.5 887.7,873.7 888.0,871.7 888.4,877.7 888.8,870.2 889.1,870.9 889.5,875.0 889.9,869.8 890.3,870.9 890.6,871.4 891.0,870.0 891.4,877.3 891.8,860.2 892.1,860.7 892.5,861.2 892.9,863.7 893.3,872.1 893.6,864.9 894.0,867.9 894.4,870.5 894.7,871.9 895.1,871.2 895.5,869.4 895.9,866.5 896.2,879.2 896.6,866.3 897.0,875.6 897.4,874.1 897.7,873.2 898.1,879.0 898.5,871.3 898.8,871.8 899.2,872.5 899.6,869.6 900.0,870.9 900.3,869.0 900.7,871.4 901.1,873.8 901.5,867.1 901.8,868.3 902.2,871.2 902.6,870.1 903.0,862.7 903.3,867.3 903.7,868.0 904.1,859.2 904.4,867.4 904.8,868.4 905.2,864.0 905.6,876.8 905.9,860.0 906.3,868.2 906.7,871.3 907.1,868.3 907.4,864.1 907.8,862.5 908.2,863.2 908.5,860.2 908.9,856.2 909.3,850.8 909.7,841.9 910.0,840.4 910.4,833.6 910.8,833.9 911.2,830.2 911.5,825.5 911.9,821.2 912.3,815.1 912.7,817.8 913.0,813.5 913.4,812.8 913.8,797.5 914.1,792.5 914.5,803.5 914.9,796.5 915.3,804.7 915.6,797.3 916.0,796.7 916.4,798.8 916.8,793.4 917.1,798.3 917.5,795.3 917.9,788.1 918.3,791.5 918.6,803.5 919.0,802.6 919.4,791.6 919.7,798.7 920.1,811.7 920.5,801.6 920.9,819.4 921.2,810.4 921.6,803.8 922.0,804.6 922.4,811.4 922.7,811.9 923.1,809.3 923.5,807.8 923.8,814.6 924.2,813.1 924.6,819.4 925.0,816.5 925.3,820.2 925.7,812.9 926.1,816.6 926.5,818.6 926.8,819.8 927.2,824.3 927.6,827.6 928.0,823.6 928.3,832.7 928.7,837.3 929.1,835.8 929.4,834.5 929.8,836.8 930.2,839.9 930.6,845.4 930.9,845.4 931.3,846.7 931.7,841.7 932.1,839.4 932.4,840.8 932.8,842.8 933.2,848.5 933.5,843.9 933.9,842.1 934.3,844.5 934.7,845.1 935.0,847.0 935.4,851.7 935.8,845.7 936.2,847.4 936.5,850.1 936.9,850.0 937.3,853.1 937.7,861.0 938.0,846.3 938.4,852.6 938.8,855.7 939.1,854.2 939.5,855.9 939.9,856.5 940.3,858.6 940.6,856.7 941.0,866.1 941.4,856.0 941.8,869.1 942.1,866.4 942.5,867.7 942.9,868.6 943.3,864.7 943.6,858.8 944.0,861.5 944.4,860.0 944.7,864.4 945.1,865.0 945.5,867.1 945.9,869.9 946.2,864.6 946.6,865.0 947.0,869.2 947.4,868.5 947.7,865.7 948.1,874.9 948.5,871.2 948.8,871.4 949.2,863.4 949.6,870.0 950.0,868.7 950.3,868.9 950.7,870.9 951.1,878.2 951.5,876.6 951.8,869.8 952.2,861.6 952.6,869.7 953.0,861.3 953.3,863.9 953.7,860.7 954.1,864.0 954.4,866.8 954.8,865.3 955.2,860.8 955.6,859.3 955.9,857.1 956.3,859.1 956.7,865.3 957.1,863.7 957.4,858.9 957.8,858.8 958.2,849.5 958.5,864.4 958.9,857.2 959.3,857.9 959.7,855.2 960.0,855.1 960.4,859.0 960.8,864.2 961.2,858.3 961.5,866.0 961.9,866.3 962.3,857.9 962.7,868.8 963.0,867.3 963.4,872.0 963.8,870.5 964.1,868.0 964.5,860.4 964.9,872.7 965.3,875.2 965.6,864.7 966.0,876.7 966.4,868.6 966.8,866.9 967.1,872.2 967.5,869.7 967.9,875.6 968.3,869.7 968.6,877.9 969.0,871.7 969.4,872.7 969.7,877.8 970.1,863.0 970.5,874.9 970.9,876.1 971.2,868.1 971.6,871.0 972.0,863.2 972.4,860.1 972.7,859.2 973.1,860.2 973.5,862.8 973.8,860.2 974.2,862.4 974.6,860.8 975.0,860.5 975.3,865.7 975.7,864.3 976.1,868.2 976.5,867.1 976.8,866.4 977.2,871.4 977.6,870.4 978.0,870.8 978.3,867.8 978.7,870.1 979.1,870.7 979.4,866.2 979.8,872.8 980.2,874.7 980.6,874.5 980.9,871.2 981.3,872.5 981.7,873.7 982.1,877.9 982.4,874.6 982.8,869.3 983.2,871.2 983.6,878.4 983.9,880.5 984.3,876.3 984.7,875.6 985.0,877.7 985.4,880.3 985.8,882.7 986.2,879.4 986.5,881.8 986.9,876.8 987.3,887.0 987.7,883.1 988.0,872.5 988.4,878.0 988.8,881.8 989.1,882.0 989.5,883.7 989.9,889.8 990.3,891.3 990.6,889.6 991.0,884.2 991.4,886.7 991.8,881.7 992.1,881.5 992.5,873.7 992.9,878.7 993.3,872.9 993.6,869.3 994.0,868.2 994.4,871.8 994.7,862.3 995.1,861.7 995.5,868.7 995.9,867.9 996.2,860.6 996.6,863.6 997.0,865.9 997.4,862.9 997.7,864.7 998.1,858.8 998.5,865.1 998.8,863.5 999.2,869.9 999.6,862.4 1000.0,868.5 1000.3,863.1 1000.7,864.1 1001.1,866.3 1001.5,877.9 1001.8,866.4 1002.2,863.0 1002.6,867.4 1003.0,871.9 1003.3,868.4 1003.7,862.8 1004.1,867.4 1004.4,868.2 1004.8,875.0 1005.2,874.2 1005.6,867.8 1005.9,874.1 1006.3,875.3 1006.7,872.3 1007.1,873.7 1007.4,875.9 1007.8,871.4 1008.2,875.3 1008.6,875.2 1008.9,879.6 1009.3,878.9 1009.7,877.1 1010.0,879.5 1010.4,868.7 1010.8,877.1 1011.2,879.9 1011.5,874.4 1011.9,880.2 1012.3,876.7 1012.7,876.6 1013.0,877.3 1013.4,880.6 1013.8,879.3 1014.1,889.3 1014.5,874.2 1014.9,883.4 1015.3,878.3 1015.6,880.9 1016.0,883.5 1016.4,889.6 1016.8,880.7 1017.1,880.1 1017.5,881.1 1017.9,874.2 1018.3,882.3 1018.6,871.9 1019.0,873.4 1019.4,871.6 1019.7,876.8 1020.1,878.7 1020.5,873.2 1020.9,864.4 1021.2,860.1 1021.6,858.0 1022.0,845.5 1022.4,840.3 1022.7,838.2 1023.1,840.5 1023.5,841.4 1023.8,830.8 1024.2,828.8 1024.6,828.0 1025.0,831.2 1025.3,840.6 1025.7,830.6 1026.1,834.0 1026.5,839.5 1026.8,836.7 1027.2,837.3 1027.6,832.8 1028.0,826.1 1028.3,826.8 1028.7,825.3 1029.1,828.8 1029.4,825.8 1029.8,828.2 1030.2,825.5 1030.6,825.0 1030.9,821.8 1031.3,820.6 1031.7,830.7 1032.1,824.1 1032.4,819.5 1032.8,826.7 1033.2,823.7 1033.6,821.7 1033.9,817.2 1034.3,822.1 1034.7,821.8 1035.0,817.2 1035.4,818.2 1035.8,821.5 1036.2,825.9 1036.5,826.8 1036.9,826.7 1037.3,825.3 1037.7,822.5 1038.0,821.4 1038.4,828.4 1038.8,835.2 1039.1,829.2 1039.5,838.4 1039.9,837.8 1040.3,842.2 1040.6,837.7 1041.0,845.2 1041.4,845.1 1041.8,846.9 1042.1,850.0 1042.5,851.8 1042.9,851.7 1043.3,860.9 1043.6,855.3 1044.0,852.6 1044.4,854.5 1044.7,859.5 1045.1,853.0 1045.5,864.4 1045.9,864.8 1046.2,859.7 1046.6,866.2 1047.0,861.9 1047.4,866.6 1047.7,871.6 1048.1,864.7 1048.5,867.7 1048.8,870.3 1049.2,864.8 1049.6,867.1 1050.0,883.3 1050.3,871.3 1050.7,874.6 1051.1,873.4 1051.5,877.0 1051.8,876.3 1052.2,874.9 1052.6,872.0 1053.0,876.1 1053.3,875.1 1053.7,880.4 1054.1,872.7 1054.4,878.3 1054.8,880.3 1055.2,875.8 1055.6,872.5 1055.9,864.4 1056.3,865.9 1056.7,869.9 1057.1,872.0 1057.4,865.6 1057.8,869.2 1058.2,864.2 1058.6,866.9 1058.9,874.4 1059.3,864.9 1059.7,872.4 1060.0,865.8 1060.4,876.3 1060.8,869.4 1061.2,864.4 1061.5,872.6 1061.9,871.4 1062.3,870.1 1062.7,867.2 1063.0,870.4 1063.4,871.4 1063.8,861.0 1064.1,872.2 1064.5,874.1 1064.9,865.8 1065.3,868.9 1065.6,866.9 1066.0,861.0 1066.4,866.1 1066.8,865.8 1067.1,861.2 1067.5,866.3 1067.9,866.3 1068.3,870.9 1068.6,865.3 1069.0,864.1 1069.4,870.5 1069.7,866.1 1070.1,871.4 1070.5,868.6 1070.9,876.0 1071.2,863.7 1071.6,872.0 1072.0,875.9 1072.4,879.3 1072.7,875.6 1073.1,875.6 1073.5,875.5 1073.9,878.0 1074.2,872.3 1074.6,874.0 1075.0,880.0 1075.3,876.2 1075.7,880.7 1076.1,875.8 1076.5,879.4 1076.8,883.9 1077.2,877.1 1077.6,877.0 1078.0,885.9 1078.3,874.2 1078.7,877.2 1079.1,879.6 1079.4,887.8 1079.8,878.1 1080.2,878.9 1080.6,875.2 1080.9,889.0 1081.3,884.4 1081.7,880.5 1082.1,886.7 1082.4,882.8 1082.8,884.6 1083.2,882.5 1083.6,885.5 1083.9,885.1 1084.3,884.0 1084.7,879.5 1085.0,884.8 1085.4,886.3 1085.8,887.8 1086.2,885.0 1086.5,886.7 1086.9,883.9 1087.3,888.5 1087.7,890.6 1088.0,892.2 1088.4,888.9 1088.8,891.0 1089.1,890.1 1089.5,885.5 1089.9,882.1 1090.3,888.5 1090.6,883.0 1091.0,885.7 1091.4,887.5 1091.8,886.8 1092.1,882.9 1092.5,884.3 1092.9,883.0 1093.3,879.1 1093.6,885.2 1094.0,885.4 1094.4,884.6 1094.7,885.8 1095.1,882.7 1095.5,888.0 1095.9,887.2 1096.2,887.1 1096.6,889.8 1097.0,887.2 1097.4,889.0 1097.7,879.6 1098.1,891.8 1098.5,883.7 1098.9,892.7 1099.2,894.2 1099.6,893.8 1100.0,888.6 1100.3,891.3 1100.7,891.8 1101.1,888.3 1101.5,889.6 1101.8,885.8 1102.2,889.6 1102.6,886.7 1103.0,888.0 1103.3,893.1 1103.7,891.8 1104.1,892.8 1104.4,894.2 1104.8,892.7 1105.2,886.3 1105.6,885.9 1105.9,889.9 1106.3,886.4 1106.7,882.5 1107.1,894.2 1107.4,892.8 1107.8,890.9 1108.2,889.7 1108.6,889.3 1108.9,888.3 1109.3,887.6 1109.7,884.0 1110.0,892.6 1110.4,887.4 1110.8,894.2 1111.2,888.8 1111.5,888.8 1111.9,886.0 1112.3,888.8 1112.7,894.2 1113.0,889.7 1113.4,881.6 1113.8,880.4 1114.1,883.0 1114.5,884.7 1114.9,879.2 1115.3,877.8 1115.6,878.8 1116.0,880.3 1116.4,871.7 1116.8,869.7 1117.1,873.6 1117.5,872.4 1117.9,874.2 1118.3,872.8 1118.6,873.8 1119.0,870.7 1119.4,873.4 1119.7,873.5 1120.1,868.1 1120.5,873.0 1120.9,873.7 1121.2,866.9 1121.6,864.9 1122.0,875.7 1122.4,865.5 1122.7,871.1 1123.1,863.8 1123.5,861.7 1123.9,868.7 1124.2,860.0 1124.6,864.7 1125.0,861.0 1125.3,861.7 1125.7,858.1 1126.1,855.7 1126.5,854.2 1126.8,856.2 1127.2,856.4 1127.6,850.8 1128.0,850.4 1128.3,846.5 1128.7,851.5 1129.1,844.0 1129.4,850.3 1129.8,844.4 1130.2,838.8 1130.6,844.8 1130.9,842.7 1131.3,840.0 1131.7,840.7 1132.1,834.8 1132.4,836.8 1132.8,837.1 1133.2,837.0 1133.6,832.6 1133.9,832.0 1134.3,836.5 1134.7,839.0 1135.0,838.5 1135.4,838.7 1135.8,839.5 1136.2,839.5 1136.5,844.3 1136.9,846.4 1137.3,839.9 1137.7,839.5 1138.0,847.0 1138.4,847.2 1138.8,846.4 1139.1,845.5 1139.5,845.3 1139.9,847.6 1140.3,849.3 1140.6,848.0 1141.0,853.3 1141.4,850.1 1141.8,855.7 1142.1,848.3 1142.5,853.9 1142.9,850.2 1143.3,849.2 1143.6,854.6 1144.0,854.2 1144.4,858.0 1144.7,859.4 1145.1,842.6 1145.5,853.6 1145.9,857.0 1146.2,850.1 1146.6,850.1 1147.0,858.2 1147.4,850.1 1147.7,859.0 1148.1,851.9 1148.5,862.0 1148.9,861.1 1149.2,858.9 1149.6,864.2 1150.0,865.5 1150.3,853.4 1150.7,858.0 1151.1,863.0 1151.5,859.5 1151.8,855.8 1152.2,857.5 1152.6,862.7 1153.0,861.5 1153.3,862.1 1153.7,861.2 1154.1,863.2" fill="none" stroke="#777" stroke-width="1.25"/>
<line x1="868.25" y1="780.50" x2="868.25" y2="894.25" stroke="#2b2b2b" stroke-width="1.6" />
<line x1="863.25" y1="780.50" x2="868.25" y2="780.50" stroke="#2b2b2b" stroke-width="1.6" />
<text x="858.5" y="789.1" font-size="24" text-anchor="end">1.0</text>
<line x1="863.25" y1="808.75" x2="868.25" y2="808.75" stroke="#2b2b2b" stroke-width="1.6" />
<text x="858.5" y="817.4" font-size="24" text-anchor="end">0.8</text>
<line x1="863.25" y1="837.00" x2="868.25" y2="837.00" stroke="#2b2b2b" stroke-width="1.6" />
<text x="858.5" y="845.6" font-size="24" text-anchor="end">0.6</text>
<line x1="863.25" y1="865.75" x2="868.25" y2="865.75" stroke="#2b2b2b" stroke-width="1.6" />
<text x="858.5" y="874.4" font-size="24" text-anchor="end">0.4</text>
<line x1="863.25" y1="894.25" x2="868.25" y2="894.25" stroke="#2b2b2b" stroke-width="1.6" />
<text x="858.5" y="902.9" font-size="24" text-anchor="end">0.2</text>
<line x1="868.25" y1="894.25" x2="1155.25" y2="894.25" stroke="#2b2b2b" stroke-width="1.6" />
<line x1="868.25" y1="894.25" x2="868.25" y2="899.25" stroke="#2b2b2b" stroke-width="1.6" />
<text x="868.2" y="919.5" font-size="24.5" text-anchor="middle">0</text>
<line x1="918.00" y1="894.25" x2="918.00" y2="899.25" stroke="#2b2b2b" stroke-width="1.6" />
<text x="918.0" y="919.5" font-size="24.5" text-anchor="middle">12</text>
<line x1="967.75" y1="894.25" x2="967.75" y2="899.25" stroke="#2b2b2b" stroke-width="1.6" />
<text x="967.8" y="919.5" font-size="24.5" text-anchor="middle">24</text>
<line x1="1017.51" y1="894.25" x2="1017.51" y2="899.25" stroke="#2b2b2b" stroke-width="1.6" />
<text x="1017.5" y="919.5" font-size="24.5" text-anchor="middle">36</text>
<line x1="1067.26" y1="894.25" x2="1067.26" y2="899.25" stroke="#2b2b2b" stroke-width="1.6" />
<text x="1067.3" y="919.5" font-size="24.5" text-anchor="middle">48</text>
<line x1="1117.01" y1="894.25" x2="1117.01" y2="899.25" stroke="#2b2b2b" stroke-width="1.6" />
<text x="1117.0" y="919.5" font-size="24.5" text-anchor="middle">60</text>
<text x="1012.0" y="952.5" font-size="25.3" text-anchor="middle">Time (s)</text>
<text x="816.0" y="839.0" font-size="24.3" text-anchor="middle" transform="rotate(-90 816.0 839.0)">Norm. dF/F</text>
<text x="1181.0" y="736.8" font-size="33" font-weight="bold">m</text>
<text x="1288.8" y="745.3" font-size="24.7" fill="#b8333d">pup sniff</text>
<polygon points="1265.3,845.6 1266.2,847.2 1267.1,844.8 1268.0,851.6 1268.9,850.4 1269.8,853.1 1270.7,846.4 1271.6,847.1 1272.5,854.8 1273.5,850.1 1274.4,853.3 1275.3,860.5 1276.2,853.0 1277.1,853.9 1278.0,855.6 1278.9,851.1 1279.8,855.5 1280.7,854.2 1281.6,850.6 1282.5,851.7 1283.4,850.3 1284.3,855.6 1285.2,848.5 1286.1,855.2 1287.0,851.6 1288.0,851.1 1288.9,854.5 1289.8,848.6 1290.7,851.9 1291.6,851.2 1292.5,850.1 1293.4,854.6 1294.3,858.6 1295.2,856.6 1296.1,858.0 1297.0,854.9 1297.9,859.0 1298.8,855.0 1299.7,852.1 1300.6,849.9 1301.5,858.8 1302.4,852.8 1303.4,858.6 1304.3,862.3 1305.2,858.0 1306.1,857.7 1307.0,862.5 1307.9,853.0 1308.8,859.3 1309.7,853.3 1310.6,854.2 1311.5,856.7 1312.4,856.7 1313.3,853.4 1314.2,858.1 1315.1,858.1 1316.0,856.5 1316.9,855.8 1317.8,855.0 1318.8,850.3 1319.7,849.1 1320.6,855.4 1321.5,853.4 1322.4,850.4 1323.3,848.3 1324.2,851.5 1325.1,851.7 1326.0,855.1 1326.9,849.8 1327.8,846.3 1328.7,845.1 1329.6,843.3 1330.5,841.3 1331.4,835.8 1332.3,835.2 1333.2,832.8 1334.2,817.3 1335.1,803.8 1336.0,797.2 1336.9,799.4 1337.8,794.5 1338.7,791.3 1339.6,789.9 1340.5,788.4 1341.4,796.2 1342.3,793.2 1343.2,789.6 1344.1,791.0 1345.0,794.8 1345.9,793.8 1346.8,794.8 1347.7,791.2 1348.7,797.2 1349.6,792.8 1350.5,789.6 1351.4,784.0 1352.3,791.7 1353.2,786.2 1354.1,789.9 1355.0,787.3 1355.9,791.0 1356.8,779.8 1357.7,781.5 1358.6,782.7 1359.5,782.0 1360.4,783.6 1361.3,779.6 1362.2,776.9 1363.1,777.2 1364.1,771.9 1365.0,775.7 1365.9,777.2 1366.8,769.0 1367.7,772.9 1368.6,766.8 1369.5,771.3 1370.4,775.0 1371.3,776.1 1372.2,774.5 1373.1,779.8 1374.0,774.2 1374.9,776.5 1375.8,772.6 1376.7,776.7 1377.6,778.5 1378.5,780.3 1379.5,774.7 1380.4,777.1 1381.3,774.7 1382.2,776.9 1383.1,779.3 1384.0,778.7 1384.9,775.9 1385.8,778.4 1386.7,773.9 1387.6,776.1 1388.5,771.8 1389.4,773.1 1390.3,781.4 1391.2,775.0 1392.1,776.6 1393.0,778.6 1394.0,779.5 1394.9,780.7 1395.8,765.6 1396.7,770.7 1397.6,748.9 1398.5,756.7 1399.4,754.0 1400.3,764.0 1401.2,762.1 1401.2,876.2 1400.3,876.9 1399.4,869.3 1398.5,872.3 1397.6,867.5 1396.7,854.7 1395.8,856.4 1394.9,859.4 1394.0,865.2 1393.0,864.2 1392.1,866.9 1391.2,873.2 1390.3,875.1 1389.4,877.0 1388.5,871.4 1387.6,882.2 1386.7,871.5 1385.8,877.0 1384.9,871.9 1384.0,869.6 1383.1,873.5 1382.2,867.1 1381.3,870.0 1380.4,868.1 1379.5,867.4 1378.5,865.0 1377.6,869.9 1376.7,868.5 1375.8,868.6 1374.9,872.3 1374.0,867.6 1373.1,870.5 1372.2,872.1 1371.3,873.8 1370.4,869.0 1369.5,871.9 1368.6,873.4 1367.7,868.6 1366.8,870.7 1365.9,876.3 1365.0,874.7 1364.1,876.9 1363.1,881.0 1362.2,875.4 1361.3,874.0 1360.4,875.4 1359.5,873.3 1358.6,866.7 1357.7,875.1 1356.8,866.0 1355.9,869.3 1355.0,864.1 1354.1,863.2 1353.2,859.1 1352.3,856.6 1351.4,859.6 1350.5,856.5 1349.6,852.6 1348.7,850.8 1347.7,854.2 1346.8,858.1 1345.9,854.0 1345.0,849.5 1344.1,849.9 1343.2,851.2 1342.3,850.8 1341.4,851.1 1340.5,845.7 1339.6,851.7 1338.7,859.5 1337.8,851.8 1336.9,859.5 1336.0,861.6 1335.1,861.3 1334.2,871.3 1333.2,872.2 1332.3,872.7 1331.4,869.1 1330.5,876.4 1329.6,878.8 1328.7,878.7 1327.8,873.4 1326.9,877.0 1326.0,877.6 1325.1,875.9 1324.2,876.2 1323.3,879.9 1322.4,885.6 1321.5,880.3 1320.6,882.3 1319.7,878.8 1318.8,886.0 1317.8,887.7 1316.9,881.7 1316.0,884.5 1315.1,890.2 1314.2,890.9 1313.3,882.3 1312.4,886.9 1311.5,883.8 1310.6,888.6 1309.7,890.2 1308.8,886.3 1307.9,883.6 1307.0,885.5 1306.1,883.0 1305.2,891.1 1304.3,891.6 1303.4,886.7 1302.4,887.5 1301.5,883.0 1300.6,888.2 1299.7,884.6 1298.8,885.3 1297.9,883.8 1297.0,885.5 1296.1,885.4 1295.2,881.8 1294.3,883.0 1293.4,881.1 1292.5,884.3 1291.6,880.8 1290.7,882.0 1289.8,876.9 1288.9,878.7 1288.0,878.4 1287.0,879.7 1286.1,882.9 1285.2,885.5 1284.3,888.4 1283.4,882.1 1282.5,882.0 1281.6,881.6 1280.7,883.3 1279.8,885.2 1278.9,884.0 1278.0,885.4 1277.1,889.4 1276.2,883.5 1275.3,889.1 1274.4,889.2 1273.5,881.7 1272.5,882.6 1271.6,881.0 1270.7,877.6 1269.8,875.7 1268.9,875.7 1268.0,877.4 1267.1,884.0 1266.2,878.8 1265.3,874.9" fill="#cbcbcb"/>
<polyline points="1265.3,864.4 1266.2,861.2 1267.1,863.1 1268.0,861.0 1268.9,860.5 1269.8,862.1 1270.7,861.2 1271.6,865.3 1272.5,865.5 1273.5,867.0 1274.4,867.6 1275.3,870.8 1276.2,874.3 1277.1,874.8 1278.0,870.0 1278.9,874.0 1279.8,873.0 1280.7,872.6 1281.6,873.5 1282.5,869.3 1283.4,871.8 1284.3,873.6 1285.2,870.1 1286.1,874.2 1287.0,872.1 1288.0,872.2 1288.9,876.2 1289.8,877.0 1290.7,874.0 1291.6,872.5 1292.5,877.5 1293.4,874.4 1294.3,873.0 1295.2,877.5 1296.1,877.0 1297.0,872.3 1297.9,874.4 1298.8,873.7 1299.7,878.9 1300.6,872.8 1301.5,874.1 1302.4,874.3 1303.4,874.1 1304.3,869.6 1305.2,872.1 1306.1,868.0 1307.0,873.0 1307.9,870.3 1308.8,875.2 1309.7,875.7 1310.6,876.6 1311.5,875.4 1312.4,874.8 1313.3,876.0 1314.2,873.8 1315.1,873.6 1316.0,872.5 1316.9,871.9 1317.8,869.3 1318.8,867.7 1319.7,868.4 1320.6,866.1 1321.5,865.1 1322.4,861.7 1323.3,865.8 1324.2,860.2 1325.1,859.3 1326.0,863.2 1326.9,857.4 1327.8,857.4 1328.7,855.7 1329.6,856.3 1330.5,857.8 1331.4,854.9 1332.3,851.3 1333.2,848.5 1334.2,846.4 1335.1,837.0 1336.0,833.4 1336.9,828.6 1337.8,824.9 1338.7,821.4 1339.6,821.7 1340.5,823.9 1341.4,821.4 1342.3,822.7 1343.2,820.6 1344.1,817.2 1345.0,814.4 1345.9,816.2 1346.8,816.5 1347.7,816.2 1348.7,816.3 1349.6,820.6 1350.5,817.0 1351.4,818.1 1352.3,819.1 1353.2,818.9 1354.1,821.8 1355.0,820.0 1355.9,820.9 1356.8,824.2 1357.7,825.5 1358.6,827.1 1359.5,827.3 1360.4,830.9 1361.3,830.1 1362.2,826.0 1363.1,827.7 1364.1,829.2 1365.0,830.7 1365.9,825.3 1366.8,821.2 1367.7,821.1 1368.6,819.7 1369.5,818.6 1370.4,818.8 1371.3,819.5 1372.2,821.6 1373.1,818.2 1374.0,819.4 1374.9,818.7 1375.8,819.9 1376.7,822.5 1377.6,823.0 1378.5,822.2 1379.5,826.5 1380.4,824.6 1381.3,825.5 1382.2,825.4 1383.1,824.2 1384.0,823.7 1384.9,824.6 1385.8,823.9 1386.7,825.8 1387.6,825.5 1388.5,828.7 1389.4,830.3 1390.3,828.9 1391.2,825.8 1392.1,826.3 1393.0,826.5 1394.0,824.0 1394.9,822.6 1395.8,819.9 1396.7,818.2 1397.6,816.5 1398.5,816.4 1399.4,818.0 1400.3,818.0 1401.2,821.1" fill="none" stroke="#555" stroke-width="1.1"/>
<line x1="1333.25" y1="751" x2="1333.25" y2="897.8" stroke="#c0303c" stroke-width="1.3" stroke-dasharray="4 3"/>
<line x1="1258.80" y1="751.00" x2="1258.80" y2="897.80" stroke="#2b2b2b" stroke-width="1.6" />
<line x1="1253.80" y1="784.30" x2="1258.80" y2="784.30" stroke="#2b2b2b" stroke-width="1.6" />
<text x="1250.0" y="793.1" font-size="24.5" text-anchor="end">6</text>
<line x1="1253.80" y1="826.30" x2="1258.80" y2="826.30" stroke="#2b2b2b" stroke-width="1.6" />
<text x="1250.0" y="835.1" font-size="24.5" text-anchor="end">3</text>
<line x1="1253.80" y1="867.60" x2="1258.80" y2="867.60" stroke="#2b2b2b" stroke-width="1.6" />
<text x="1250.0" y="876.4" font-size="24.5" text-anchor="end">0</text>
<line x1="1258.80" y1="897.80" x2="1407.00" y2="897.80" stroke="#2b2b2b" stroke-width="1.6" />
<line x1="1265.30" y1="897.80" x2="1265.30" y2="902.80" stroke="#2b2b2b" stroke-width="1.6" />
<text x="1265.3" y="923.4" font-size="24.5" text-anchor="middle">-3</text>
<line x1="1287.95" y1="897.80" x2="1287.95" y2="902.80" stroke="#2b2b2b" stroke-width="1.6" />
<text x="1288.0" y="923.4" font-size="24.5" text-anchor="middle">-2</text>
<line x1="1310.60" y1="897.80" x2="1310.60" y2="902.80" stroke="#2b2b2b" stroke-width="1.6" />
<text x="1310.6" y="923.4" font-size="24.5" text-anchor="middle">-1</text>
<line x1="1333.25" y1="897.80" x2="1333.25" y2="902.80" stroke="#2b2b2b" stroke-width="1.6" />
<text x="1333.2" y="923.4" font-size="24.5" text-anchor="middle">0</text>
<line x1="1355.90" y1="897.80" x2="1355.90" y2="902.80" stroke="#2b2b2b" stroke-width="1.6" />
<text x="1355.9" y="923.4" font-size="24.5" text-anchor="middle">1</text>
<line x1="1378.55" y1="897.80" x2="1378.55" y2="902.80" stroke="#2b2b2b" stroke-width="1.6" />
<text x="1378.5" y="923.4" font-size="24.5" text-anchor="middle">2</text>
<line x1="1401.20" y1="897.80" x2="1401.20" y2="902.80" stroke="#2b2b2b" stroke-width="1.6" />
<text x="1401.2" y="923.4" font-size="24.5" text-anchor="middle">3</text>
<text x="1333.0" y="956.3" font-size="25.8" text-anchor="middle">Time (s)</text>
<text x="1222.0" y="825.0" font-size="25.8" text-anchor="middle" transform="rotate(-90 1222.0 825.0)">Z score</text>
<text x="5.0" y="1057.5" font-size="33" font-weight="bold">n</text>
<text x="235.7" y="1068.2" font-size="25.5" font-weight="bold">Agg<tspan dy="-7.5" font-size="19">+</tspan></text>
<rect x="676.25" y="1107.75" width="11.75" height="23.00" fill="#652a73" stroke="#652a73" stroke-width="0.6" stroke-linejoin="round"/>
<rect x="715.00" y="1107.75" width="63.75" height="23.00" fill="#652a73" stroke="#652a73" stroke-width="0.6" stroke-linejoin="round"/>
<rect x="781.25" y="1107.75" width="22.50" height="23.00" fill="#652a73" stroke="#652a73" stroke-width="0.6" stroke-linejoin="round"/>
<line x1="212.50" y1="1119.25" x2="220.00" y2="1119.25" stroke="#2b2b2b" stroke-width="1.6" />
<text x="207.5" y="1126.6" font-size="20.5" text-anchor="end">aggressive contact</text>
<rect x="390.00" y="1130.50" width="5.00" height="23.00" fill="#862a7c" stroke="#862a7c" stroke-width="0.6" stroke-linejoin="round"/>
<rect x="501.25" y="1130.50" width="7.50" height="23.00" fill="#862a7c" stroke="#862a7c" stroke-width="0.6" stroke-linejoin="round"/>
<line x1="212.50" y1="1142.00" x2="220.00" y2="1142.00" stroke="#2b2b2b" stroke-width="1.6" />
<text x="207.5" y="1149.4" font-size="20.5" text-anchor="end">in empty nest</text>
<rect x="328.75" y="1153.50" width="4.25" height="23.00" fill="#9c2e79" stroke="#9c2e79" stroke-width="0.6" stroke-linejoin="round"/>
<rect x="335.75" y="1153.50" width="1.75" height="23.00" fill="#9c2e79" stroke="#9c2e79" stroke-width="0.6" stroke-linejoin="round"/>
<rect x="341.25" y="1153.50" width="3.75" height="23.00" fill="#9c2e79" stroke="#9c2e79" stroke-width="0.6" stroke-linejoin="round"/>
<rect x="403.75" y="1153.50" width="2.00" height="23.00" fill="#9c2e79" stroke="#9c2e79" stroke-width="0.6" stroke-linejoin="round"/>
<line x1="212.50" y1="1165.00" x2="220.00" y2="1165.00" stroke="#2b2b2b" stroke-width="1.6" />
<text x="207.5" y="1172.4" font-size="20.5" text-anchor="end">tail rattling</text>
<rect x="307.00" y="1176.50" width="2.50" height="23.00" fill="#c63765" stroke="#c63765" stroke-width="0.6" stroke-linejoin="round"/>
<rect x="313.25" y="1176.50" width="4.25" height="23.00" fill="#c63765" stroke="#c63765" stroke-width="0.6" stroke-linejoin="round"/>
<rect x="335.25" y="1176.50" width="5.25" height="23.00" fill="#c63765" stroke="#c63765" stroke-width="0.6" stroke-linejoin="round"/>
<rect x="378.75" y="1176.50" width="3.25" height="23.00" fill="#c63765" stroke="#c63765" stroke-width="0.6" stroke-linejoin="round"/>
<rect x="395.00" y="1176.50" width="4.50" height="23.00" fill="#c63765" stroke="#c63765" stroke-width="0.6" stroke-linejoin="round"/>
<rect x="403.25" y="1176.50" width="7.50" height="23.00" fill="#c63765" stroke="#c63765" stroke-width="0.6" stroke-linejoin="round"/>
<rect x="483.75" y="1176.50" width="3.75" height="23.00" fill="#c63765" stroke="#c63765" stroke-width="0.6" stroke-linejoin="round"/>
<rect x="494.25" y="1176.50" width="3.25" height="23.00" fill="#c63765" stroke="#c63765" stroke-width="0.6" stroke-linejoin="round"/>
<line x1="212.50" y1="1188.00" x2="220.00" y2="1188.00" stroke="#2b2b2b" stroke-width="1.6" />
<text x="207.5" y="1195.4" font-size="20.5" text-anchor="end">rearing</text>
<rect x="290.00" y="1199.25" width="15.75" height="23.00" fill="#d4505e" stroke="#d4505e" stroke-width="0.6" stroke-linejoin="round"/>
<rect x="348.25" y="1199.25" width="4.25" height="23.00" fill="#d4505e" stroke="#d4505e" stroke-width="0.6" stroke-linejoin="round"/>
<rect x="454.25" y="1199.25" width="13.25" height="23.00" fill="#d4505e" stroke="#d4505e" stroke-width="0.6" stroke-linejoin="round"/>
<rect x="469.50" y="1199.25" width="14.25" height="23.00" fill="#d4505e" stroke="#d4505e" stroke-width="0.6" stroke-linejoin="round"/>
<rect x="524.25" y="1199.25" width="14.50" height="23.00" fill="#d4505e" stroke="#d4505e" stroke-width="0.6" stroke-linejoin="round"/>
<rect x="545.75" y="1199.25" width="132.25" height="23.00" fill="#d4505e" stroke="#d4505e" stroke-width="0.6" stroke-linejoin="round"/>
<rect x="687.50" y="1199.25" width="28.00" height="23.00" fill="#d4505e" stroke="#d4505e" stroke-width="0.6" stroke-linejoin="round"/>
<line x1="212.50" y1="1210.75" x2="220.00" y2="1210.75" stroke="#2b2b2b" stroke-width="1.6" />
<text x="207.5" y="1218.1" font-size="20.5" text-anchor="end">licking and grooming</text>
<rect x="284.00" y="1222.25" width="6.75" height="23.00" fill="#e2695a" stroke="#e2695a" stroke-width="0.6" stroke-linejoin="round"/>
<rect x="323.00" y="1222.25" width="6.25" height="23.00" fill="#e2695a" stroke="#e2695a" stroke-width="0.6" stroke-linejoin="round"/>
<rect x="340.75" y="1222.25" width="8.75" height="23.00" fill="#e2695a" stroke="#e2695a" stroke-width="0.6" stroke-linejoin="round"/>
<rect x="405.00" y="1222.25" width="12.50" height="23.00" fill="#e2695a" stroke="#e2695a" stroke-width="0.6" stroke-linejoin="round"/>
<rect x="436.25" y="1222.25" width="7.50" height="23.00" fill="#e2695a" stroke="#e2695a" stroke-width="0.6" stroke-linejoin="round"/>
<rect x="445.00" y="1222.25" width="6.75" height="23.00" fill="#e2695a" stroke="#e2695a" stroke-width="0.6" stroke-linejoin="round"/>
<rect x="510.00" y="1222.25" width="3.75" height="23.00" fill="#e2695a" stroke="#e2695a" stroke-width="0.6" stroke-linejoin="round"/>
<rect x="515.50" y="1222.25" width="10.25" height="23.00" fill="#e2695a" stroke="#e2695a" stroke-width="0.6" stroke-linejoin="round"/>
<line x1="212.50" y1="1233.75" x2="220.00" y2="1233.75" stroke="#2b2b2b" stroke-width="1.6" />
<text x="207.5" y="1241.1" font-size="20.5" text-anchor="end">chemoinvestigation</text>
<rect x="246.75" y="1245.25" width="1.25" height="23.00" fill="#f2c3ac" />
<line x1="212.50" y1="1256.75" x2="220.00" y2="1256.75" stroke="#2b2b2b" stroke-width="1.6" />
<text x="207.5" y="1264.1" font-size="20.5" text-anchor="end">pup introduction</text>
<line x1="220.00" y1="1087.00" x2="220.00" y2="1288.75" stroke="#2b2b2b" stroke-width="1.6" />
<line x1="220.00" y1="1288.75" x2="831.25" y2="1288.75" stroke="#2b2b2b" stroke-width="1.6" />
<line x1="224.50" y1="1288.75" x2="224.50" y2="1294.75" stroke="#2b2b2b" stroke-width="1.6" />
<text x="224.5" y="1314.2" font-size="20.3" text-anchor="middle">0</text>
<line x1="416.40" y1="1288.75" x2="416.40" y2="1294.75" stroke="#2b2b2b" stroke-width="1.6" />
<text x="416.4" y="1314.2" font-size="20.3" text-anchor="middle">100</text>
<line x1="608.30" y1="1288.75" x2="608.30" y2="1294.75" stroke="#2b2b2b" stroke-width="1.6" />
<text x="608.3" y="1314.2" font-size="20.3" text-anchor="middle">200</text>
<line x1="800.20" y1="1288.75" x2="800.20" y2="1294.75" stroke="#2b2b2b" stroke-width="1.6" />
<text x="800.2" y="1314.2" font-size="20.3" text-anchor="middle">300</text>
<text x="519.0" y="1340.0" font-size="20.3" text-anchor="middle">Time (s)</text>
<text x="897.3" y="1056.5" font-size="33" font-weight="bold">o</text>
<path d="M1311.8 1085.4 L1311.8 1090.9 L1311.9 1096.2 L1312.2 1101.6 L1312.6 1106.9 L1313.1 1112.2 L1313.7 1117.5 L1314.4 1122.7 L1315.2 1127.9 L1316.2 1133.0 L1317.3 1138.1 L1318.5 1143.2 L1319.8 1148.3 L1321.2 1153.3 L1322.7 1158.2 L1324.4 1163.2 L1326.1 1168.1 L1328.0 1173.0 L1330.0 1177.8 L1332.1 1182.6 L1334.4 1187.4 L1336.7 1192.1 L1339.2 1196.8 L1341.8 1201.5 L1344.5 1206.1" fill="none" stroke="#000" stroke-width="4.6"/>
<path d="M1355.7 1225.0 L1330.3 1214.6 L1358.6 1197.6 Z" fill="#000" stroke="#000" stroke-width="1.5" stroke-linejoin="round"/>
<path d="M1372.4 1209.7 L1372.4 1204.2 L1372.3 1198.9 L1372.0 1193.5 L1371.6 1188.2 L1371.1 1182.9 L1370.5 1177.6 L1369.8 1172.4 L1369.0 1167.2 L1368.0 1162.1 L1366.9 1157.0 L1365.7 1151.9 L1364.4 1146.8 L1363.0 1141.8 L1361.5 1136.9 L1359.8 1131.9 L1358.1 1127.0 L1356.2 1122.1 L1354.2 1117.3 L1352.1 1112.5 L1349.8 1107.7 L1347.5 1103.0 L1345.0 1098.3 L1342.4 1093.6 L1339.7 1089.0" fill="none" stroke="#000" stroke-width="2.7"/>
<path d="M1328.5 1070.1 L1353.9 1080.5 L1325.6 1097.5 Z" fill="#000" stroke="#000" stroke-width="1.5" stroke-linejoin="round"/>
<path d="M1042.4 1281.4 L1048.1 1280.3 L1053.8 1279.1 L1059.4 1277.8 L1064.9 1276.4 L1070.4 1274.8 L1075.8 1273.1 L1081.2 1271.3 L1086.5 1269.4 L1091.8 1267.4 L1096.9 1265.3 L1102.1 1263.0 L1107.1 1260.6 L1112.1 1258.1 L1117.1 1255.5 L1121.9 1252.8 L1126.7 1249.9 L1131.5 1247.0 L1136.2 1243.9 L1140.8 1240.7 L1145.4 1237.3 L1149.9 1233.9 L1154.4 1230.3 L1158.7 1226.6 L1163.1 1222.8" fill="none" stroke="#000" stroke-width="3.3"/>
<path d="M1179.4 1208.1 L1174.1 1235.1 L1152.0 1210.5 Z" fill="#000" stroke="#000" stroke-width="1.5" stroke-linejoin="round"/>
<path d="M1027.5 1312.5 L1029.7 1315.6 L1032.0 1318.5 L1034.4 1321.5 L1036.8 1324.3 L1039.2 1327.1 L1041.7 1329.9 L1044.2 1332.5 L1046.8 1335.2 L1049.4 1337.7 L1052.1 1340.3 L1054.8 1342.7 L1057.5 1345.1 L1060.3 1347.5 L1063.2 1349.7 L1066.1 1352.0 L1069.0 1354.1 L1072.0 1356.3 L1075.0 1358.3 L1078.1 1360.3 L1081.2 1362.3 L1084.4 1364.1 L1087.6 1366.0 L1090.9 1367.7 L1094.2 1369.5" fill="none" stroke="#000" stroke-width="4.4"/>
<path d="M1113.8 1379.4 L1086.7 1384.2 L1101.6 1354.7 Z" fill="#000" stroke="#000" stroke-width="1.5" stroke-linejoin="round"/>
<path d="M1118.4 1357.6 L1116.2 1354.5 L1113.9 1351.6 L1111.5 1348.6 L1109.1 1345.8 L1106.7 1343.0 L1104.2 1340.2 L1101.7 1337.6 L1099.1 1334.9 L1096.5 1332.4 L1093.8 1329.8 L1091.1 1327.4 L1088.4 1325.0 L1085.6 1322.6 L1082.7 1320.4 L1079.8 1318.1 L1076.9 1316.0 L1073.9 1313.8 L1070.9 1311.8 L1067.8 1309.8 L1064.7 1307.8 L1061.5 1306.0 L1058.3 1304.1 L1055.0 1302.4 L1051.7 1300.6" fill="none" stroke="#000" stroke-width="1.8"/>
<path d="M1032.1 1290.7 L1059.2 1285.9 L1044.3 1315.4 Z" fill="#000" stroke="#000" stroke-width="1.5" stroke-linejoin="round"/>
<path d="M1154.7 1359.5 L1157.9 1354.7 L1160.9 1349.9 L1163.7 1345.1 L1166.5 1340.2 L1169.1 1335.3 L1171.6 1330.3 L1174.0 1325.4 L1176.2 1320.3 L1178.3 1315.3 L1180.3 1310.2 L1182.2 1305.0 L1184.0 1299.9 L1185.6 1294.7 L1187.1 1289.4 L1188.5 1284.2 L1189.7 1278.8 L1190.9 1273.5 L1191.9 1268.1 L1192.8 1262.7 L1193.5 1257.2 L1194.2 1251.7 L1194.7 1246.2 L1195.1 1240.6 L1195.3 1235.0" fill="none" stroke="#000" stroke-width="1.4"/>
<path d="M1196.2 1213.0 L1211.8 1235.6 L1178.9 1234.4 Z" fill="#000" stroke="#000" stroke-width="1.5" stroke-linejoin="round"/>
<path d="M1174.0 1216.3 L1170.8 1221.1 L1167.8 1225.9 L1165.0 1230.7 L1162.2 1235.6 L1159.6 1240.5 L1157.1 1245.5 L1154.7 1250.4 L1152.5 1255.5 L1150.4 1260.5 L1148.4 1265.6 L1146.5 1270.8 L1144.7 1275.9 L1143.1 1281.1 L1141.6 1286.4 L1140.2 1291.6 L1139.0 1297.0 L1137.8 1302.3 L1136.8 1307.7 L1135.9 1313.1 L1135.2 1318.6 L1134.5 1324.1 L1134.0 1329.6 L1133.6 1335.2 L1133.4 1340.8" fill="none" stroke="#000" stroke-width="1.2"/>
<path d="M1132.5 1362.8 L1116.9 1340.2 L1149.8 1341.4 Z" fill="#000" stroke="#000" stroke-width="1.5" stroke-linejoin="round"/>
<path d="M1255.7 1268.1 L1254.9 1265.9 L1254.0 1263.6 L1253.1 1261.4 L1252.2 1259.2 L1251.2 1257.0 L1250.2 1254.9 L1249.2 1252.7 L1248.1 1250.6 L1247.0 1248.5 L1245.9 1246.4 L1244.8 1244.4 L1243.6 1242.4 L1242.4 1240.3 L1241.1 1238.4 L1239.8 1236.4 L1238.5 1234.4 L1237.2 1232.5 L1235.8 1230.6 L1234.4 1228.7 L1233.0 1226.8 L1231.5 1225.0 L1230.0 1223.2 L1228.5 1221.3 L1226.9 1219.6" fill="none" stroke="#000" stroke-width="3.6"/>
<path d="M1212.3 1203.1 L1239.3 1208.6 L1214.6 1230.5 Z" fill="#000" stroke="#000" stroke-width="1.5" stroke-linejoin="round"/>
<path d="M1201.3 1222.0 L1202.1 1224.2 L1203.0 1226.5 L1203.9 1228.7 L1204.8 1230.9 L1205.8 1233.1 L1206.8 1235.2 L1207.8 1237.4 L1208.9 1239.5 L1210.0 1241.6 L1211.1 1243.7 L1212.2 1245.7 L1213.4 1247.7 L1214.6 1249.8 L1215.9 1251.7 L1217.2 1253.7 L1218.5 1255.7 L1219.8 1257.6 L1221.2 1259.5 L1222.6 1261.4 L1224.0 1263.3 L1225.5 1265.1 L1227.0 1266.9 L1228.5 1268.8 L1230.1 1270.5" fill="none" stroke="#000" stroke-width="1.8"/>
<path d="M1244.7 1287.0 L1217.7 1281.5 L1242.4 1259.6 Z" fill="#000" stroke="#000" stroke-width="1.5" stroke-linejoin="round"/>
<path d="M1219.2 1209.9 L1223.4 1212.4 L1227.5 1214.9 L1231.7 1217.3 L1235.9 1219.6 L1240.1 1221.7 L1244.4 1223.8 L1248.7 1225.8 L1253.0 1227.7 L1257.3 1229.4 L1261.7 1231.1 L1266.1 1232.7 L1270.5 1234.2 L1275.0 1235.5 L1279.5 1236.8 L1284.0 1238.0 L1288.5 1239.0 L1293.1 1240.0 L1297.7 1240.9 L1302.4 1241.7 L1307.0 1242.3 L1311.7 1242.9 L1316.4 1243.4 L1321.2 1243.8 L1326.0 1244.0" fill="none" stroke="#000" stroke-width="3.0"/>
<path d="M1348.0 1245.1 L1325.2 1260.5 L1326.7 1227.6 Z" fill="#000" stroke="#000" stroke-width="1.5" stroke-linejoin="round"/>
<path d="M1283.8 1274.3 L1285.4 1272.8 L1286.9 1271.3 L1288.5 1269.9 L1290.2 1268.5 L1291.8 1267.2 L1293.5 1265.9 L1295.1 1264.6 L1296.8 1263.3 L1298.6 1262.1 L1300.3 1260.9 L1302.1 1259.8 L1303.8 1258.7 L1305.6 1257.6 L1307.4 1256.6 L1309.3 1255.6 L1311.1 1254.6 L1313.0 1253.7 L1314.9 1252.8 L1316.8 1251.9 L1318.7 1251.1 L1320.7 1250.3 L1322.6 1249.6 L1324.6 1248.8 L1326.6 1248.2" fill="none" stroke="#000" stroke-width="3.4"/>
<path d="M1347.5 1241.3 L1331.8 1263.8 L1321.5 1232.5 Z" fill="#000" stroke="#000" stroke-width="1.5" stroke-linejoin="round"/>
<path d="M1295.3 1293.7 L1297.3 1293.1 L1299.2 1292.5 L1301.2 1291.9 L1303.1 1291.2 L1305.0 1290.6 L1306.9 1289.9 L1308.8 1289.1 L1310.7 1288.4 L1312.5 1287.6 L1314.4 1286.8 L1316.2 1285.9 L1318.0 1285.1 L1319.8 1284.2 L1321.6 1283.3 L1323.4 1282.3 L1325.1 1281.4 L1326.9 1280.4 L1328.6 1279.4 L1330.3 1278.3 L1332.0 1277.3 L1333.7 1276.2 L1335.4 1275.0 L1337.1 1273.9 L1338.7 1272.7" fill="none" stroke="#000" stroke-width="1.6"/>
<path d="M1356.6 1259.9 L1348.4 1286.1 L1329.1 1259.3 Z" fill="#000" stroke="#000" stroke-width="1.5" stroke-linejoin="round"/>
<path d="M1232.6 1307.2 L1229.3 1308.4 L1226.0 1309.6 L1222.7 1310.9 L1219.5 1312.2 L1216.3 1313.6 L1213.2 1315.0 L1210.1 1316.5 L1207.0 1318.1 L1203.9 1319.7 L1200.9 1321.4 L1198.0 1323.1 L1195.1 1324.9 L1192.2 1326.7 L1189.3 1328.6 L1186.5 1330.5 L1183.7 1332.5 L1181.0 1334.6 L1178.3 1336.7 L1175.6 1338.9 L1173.0 1341.1 L1170.4 1343.3 L1167.8 1345.7 L1165.3 1348.1 L1162.8 1350.5" fill="none" stroke="#000" stroke-width="3.0"/>
<path d="M1147.3 1366.1 L1151.1 1338.9 L1174.5 1362.2 Z" fill="#000" stroke="#000" stroke-width="1.5" stroke-linejoin="round"/>
<path d="M1166.5 1377.1 L1169.8 1375.9 L1173.1 1374.7 L1176.4 1373.4 L1179.6 1372.1 L1182.8 1370.7 L1185.9 1369.3 L1189.0 1367.8 L1192.1 1366.2 L1195.2 1364.6 L1198.2 1362.9 L1201.1 1361.2 L1204.0 1359.4 L1206.9 1357.6 L1209.8 1355.7 L1212.6 1353.8 L1215.4 1351.8 L1218.1 1349.7 L1220.8 1347.6 L1223.5 1345.4 L1226.1 1343.2 L1228.7 1341.0 L1231.3 1338.6 L1233.8 1336.2 L1236.3 1333.8" fill="none" stroke="#000" stroke-width="1.6"/>
<path d="M1251.8 1318.2 L1248.0 1345.4 L1224.6 1322.1 Z" fill="#000" stroke="#000" stroke-width="1.5" stroke-linejoin="round"/>
<path d="M1338.3 1247.6 L1329.6 1249.6 L1321.0 1251.9 L1312.6 1254.3 L1304.2 1256.9 L1296.0 1259.7 L1287.9 1262.7 L1279.9 1265.9 L1272.1 1269.3 L1264.3 1272.9 L1256.7 1276.7 L1249.2 1280.7 L1241.8 1284.8 L1234.6 1289.2 L1227.4 1293.8 L1220.4 1298.6 L1213.5 1303.5 L1206.7 1308.7 L1200.1 1314.1 L1193.5 1319.6 L1187.1 1325.4 L1180.8 1331.3 L1174.6 1337.5 L1168.6 1343.8 L1162.6 1350.4" fill="none" stroke="#000" stroke-width="1.3"/>
<path d="M1148.0 1366.8 L1150.3 1339.4 L1175.0 1361.3 Z" fill="#000" stroke="#000" stroke-width="1.5" stroke-linejoin="round"/>
<circle cx="1313.90" cy="1053.10" r="34.00" fill="#cd5a63" />
<text x="1313.9" y="1049.4" font-size="17" text-anchor="middle" fill="#fff">agg.</text>
<text x="1313.9" y="1069.0" font-size="17" text-anchor="middle" fill="#fff">contact</text>
<circle cx="1193.30" cy="1190.80" r="34.00" fill="#cd5a63" />
<text x="1193.3" y="1198.5" font-size="21.5" text-anchor="middle" fill="#fff">chemo</text>
<circle cx="1370.30" cy="1242.00" r="34.00" fill="#cd5a63" />
<text x="1370.3" y="1238.3" font-size="17" text-anchor="middle" fill="#fff">lick.</text>
<text x="1370.3" y="1257.9" font-size="17" text-anchor="middle" fill="#fff">groom</text>
<circle cx="1010.50" cy="1285.10" r="34.00" fill="#cd5a63" />
<text x="1010.5" y="1271.4" font-size="16.5" text-anchor="middle" fill="#fff">in</text>
<text x="1010.5" y="1291.0" font-size="16.5" text-anchor="middle" fill="#fff">empty</text>
<text x="1010.5" y="1310.6" font-size="16.5" text-anchor="middle" fill="#fff">nest</text>
<circle cx="1263.70" cy="1299.30" r="34.00" fill="#cd5a63" />
<text x="1263.7" y="1295.3" font-size="18" text-anchor="middle" fill="#fff">tail</text>
<text x="1263.7" y="1316.3" font-size="18" text-anchor="middle" fill="#fff">rattling</text>
<circle cx="1135.40" cy="1385.00" r="34.00" fill="#cd5a63" />
<text x="1135.4" y="1392.6" font-size="21" text-anchor="middle" fill="#fff">rearing</text>
<line x1="1469.00" y1="1292.70" x2="1519.40" y2="1292.70" stroke="#777" stroke-width="1.0" stroke-linecap="round"/>
<line x1="1469.00" y1="1327.90" x2="1519.40" y2="1327.90" stroke="#111" stroke-width="1.7" stroke-linecap="round"/>
<line x1="1469.00" y1="1363.10" x2="1519.40" y2="1363.10" stroke="#000" stroke-width="3.4" stroke-linecap="round"/>
<line x1="1469.00" y1="1398.00" x2="1519.40" y2="1398.00" stroke="#000" stroke-width="5.0" stroke-linecap="round"/>
<line x1="1469.00" y1="1433.50" x2="1519.40" y2="1433.50" stroke="#000" stroke-width="6.6" stroke-linecap="round"/>
<text x="1531.0" y="1301.6" font-size="24.5">0.1</text>
<text x="1531.0" y="1336.4" font-size="24.5">0.3</text>
<text x="1531.0" y="1371.4" font-size="24.5">0.5</text>
<text x="1531.0" y="1406.2" font-size="24.5">0.7</text>
<text x="1531.0" y="1441.4" font-size="24.5">0.9</text>
<text x="1415.0" y="1362.5" font-size="28" font-style="italic">P</text>
<text x="1436.0" y="1366.5" font-size="17" font-style="italic">T</text>
<text x="5.0" y="1442.0" font-size="33" font-weight="bold">p</text>
<circle cx="65.80" cy="1503.50" r="1.30" fill="#111" />
<text x="236.4" y="1459.2" font-size="25.2" font-weight="bold">Agg<tspan dy="-8" font-size="19">−</tspan><tspan dy="8"> (parental)</tspan></text>
<rect x="555.14" y="1472.30" width="13.08" height="26.00" fill="#5e2871" stroke="#5e2871" stroke-width="0.6" stroke-linejoin="round"/>
<rect x="568.62" y="1472.30" width="15.21" height="26.00" fill="#5e2871" stroke="#5e2871" stroke-width="0.6" stroke-linejoin="round"/>
<rect x="634.52" y="1472.30" width="20.10" height="26.00" fill="#5e2871" stroke="#5e2871" stroke-width="0.6" stroke-linejoin="round"/>
<rect x="673.28" y="1472.30" width="4.20" height="26.00" fill="#5e2871" stroke="#5e2871" stroke-width="0.6" stroke-linejoin="round"/>
<rect x="678.18" y="1472.30" width="2.94" height="26.00" fill="#5e2871" stroke="#5e2871" stroke-width="0.6" stroke-linejoin="round"/>
<rect x="681.58" y="1472.30" width="19.41" height="26.00" fill="#5e2871" stroke="#5e2871" stroke-width="0.6" stroke-linejoin="round"/>
<rect x="713.49" y="1472.30" width="25.00" height="26.00" fill="#5e2871" stroke="#5e2871" stroke-width="0.6" stroke-linejoin="round"/>
<line x1="214.10" y1="1485.30" x2="221.60" y2="1485.30" stroke="#2b2b2b" stroke-width="1.6" />
<text x="207.5" y="1492.7" font-size="20.5" text-anchor="end">nest building</text>
<rect x="306.20" y="1498.70" width="3.80" height="26.00" fill="#762d78" stroke="#762d78" stroke-width="0.6" stroke-linejoin="round"/>
<rect x="321.12" y="1498.70" width="5.59" height="26.00" fill="#762d78" stroke="#762d78" stroke-width="0.6" stroke-linejoin="round"/>
<rect x="338.11" y="1498.70" width="5.82" height="26.00" fill="#762d78" stroke="#762d78" stroke-width="0.6" stroke-linejoin="round"/>
<rect x="359.19" y="1498.70" width="8.58" height="26.00" fill="#762d78" stroke="#762d78" stroke-width="0.6" stroke-linejoin="round"/>
<rect x="376.99" y="1498.70" width="168.83" height="26.00" fill="#762d78" stroke="#762d78" stroke-width="0.6" stroke-linejoin="round"/>
<rect x="551.00" y="1498.70" width="33.93" height="26.00" fill="#762d78" stroke="#762d78" stroke-width="0.6" stroke-linejoin="round"/>
<rect x="591.20" y="1498.70" width="192.38" height="26.00" fill="#762d78" stroke="#762d78" stroke-width="0.6" stroke-linejoin="round"/>
<line x1="214.10" y1="1511.70" x2="221.60" y2="1511.70" stroke="#2b2b2b" stroke-width="1.6" />
<text x="207.5" y="1519.1" font-size="20.5" text-anchor="end">in nest</text>
<rect x="286.09" y="1524.80" width="4.78" height="26.00" fill="#8c2e76" stroke="#8c2e76" stroke-width="0.6" stroke-linejoin="round"/>
<line x1="214.10" y1="1537.80" x2="221.60" y2="1537.80" stroke="#2b2b2b" stroke-width="1.6" />
<text x="207.5" y="1545.2" font-size="20.5" text-anchor="end">in empty nest</text>
<rect x="272.27" y="1551.00" width="2.30" height="26.00" fill="#a03072" stroke="#a03072" stroke-width="0.6" stroke-linejoin="round"/>
<rect x="386.20" y="1551.00" width="3.80" height="26.00" fill="#a03072" stroke="#a03072" stroke-width="0.6" stroke-linejoin="round"/>
<rect x="448.12" y="1551.00" width="5.36" height="26.00" fill="#a03072" stroke="#a03072" stroke-width="0.6" stroke-linejoin="round"/>
<rect x="459.18" y="1551.00" width="3.51" height="26.00" fill="#a03072" stroke="#a03072" stroke-width="0.6" stroke-linejoin="round"/>
<rect x="567.01" y="1551.00" width="3.57" height="26.00" fill="#a03072" stroke="#a03072" stroke-width="0.6" stroke-linejoin="round"/>
<line x1="214.10" y1="1564.00" x2="221.60" y2="1564.00" stroke="#2b2b2b" stroke-width="1.6" />
<text x="207.5" y="1571.4" font-size="20.5" text-anchor="end">self-grooming</text>
<rect x="265.99" y="1577.00" width="2.53" height="26.00" fill="#bb3b6c" stroke="#bb3b6c" stroke-width="0.6" stroke-linejoin="round"/>
<rect x="283.21" y="1577.00" width="2.48" height="26.00" fill="#bb3b6c" stroke="#bb3b6c" stroke-width="0.6" stroke-linejoin="round"/>
<rect x="329.12" y="1577.00" width="5.13" height="26.00" fill="#bb3b6c" stroke="#bb3b6c" stroke-width="0.6" stroke-linejoin="round"/>
<rect x="334.65" y="1577.00" width="5.07" height="26.00" fill="#bb3b6c" stroke="#bb3b6c" stroke-width="0.6" stroke-linejoin="round"/>
<rect x="547.02" y="1577.00" width="2.88" height="26.00" fill="#bb3b6c" stroke="#bb3b6c" stroke-width="0.6" stroke-linejoin="round"/>
<rect x="584.00" y="1577.00" width="7.60" height="26.00" fill="#bb3b6c" stroke="#bb3b6c" stroke-width="0.6" stroke-linejoin="round"/>
<line x1="214.10" y1="1590.00" x2="221.60" y2="1590.00" stroke="#2b2b2b" stroke-width="1.6" />
<text x="207.5" y="1597.4" font-size="20.5" text-anchor="end">rearing</text>
<rect x="263.11" y="1603.00" width="2.48" height="26.00" fill="#cc3d5c" stroke="#cc3d5c" stroke-width="0.6" stroke-linejoin="round"/>
<rect x="274.23" y="1603.00" width="3.46" height="26.00" fill="#cc3d5c" stroke="#cc3d5c" stroke-width="0.6" stroke-linejoin="round"/>
<rect x="289.90" y="1603.00" width="3.80" height="26.00" fill="#cc3d5c" stroke="#cc3d5c" stroke-width="0.6" stroke-linejoin="round"/>
<rect x="456.01" y="1603.00" width="3.57" height="26.00" fill="#cc3d5c" stroke="#cc3d5c" stroke-width="0.6" stroke-linejoin="round"/>
<line x1="214.10" y1="1616.00" x2="221.60" y2="1616.00" stroke="#2b2b2b" stroke-width="1.6" />
<text x="207.5" y="1623.4" font-size="20.5" text-anchor="end">retrieval</text>
<rect x="257.81" y="1629.30" width="4.78" height="26.00" fill="#dc5c5c" stroke="#dc5c5c" stroke-width="0.6" stroke-linejoin="round"/>
<rect x="273.31" y="1629.30" width="10.31" height="26.00" fill="#dc5c5c" stroke="#dc5c5c" stroke-width="0.6" stroke-linejoin="round"/>
<rect x="294.27" y="1629.30" width="3.74" height="26.00" fill="#dc5c5c" stroke="#dc5c5c" stroke-width="0.6" stroke-linejoin="round"/>
<rect x="304.53" y="1629.30" width="3.17" height="26.00" fill="#dc5c5c" stroke="#dc5c5c" stroke-width="0.6" stroke-linejoin="round"/>
<rect x="311.21" y="1629.30" width="2.59" height="26.00" fill="#dc5c5c" stroke="#dc5c5c" stroke-width="0.6" stroke-linejoin="round"/>
<rect x="314.78" y="1629.30" width="2.30" height="26.00" fill="#dc5c5c" stroke="#dc5c5c" stroke-width="0.6" stroke-linejoin="round"/>
<rect x="340.99" y="1629.30" width="18.84" height="26.00" fill="#dc5c5c" stroke="#dc5c5c" stroke-width="0.6" stroke-linejoin="round"/>
<rect x="361.32" y="1629.30" width="5.47" height="26.00" fill="#dc5c5c" stroke="#dc5c5c" stroke-width="0.6" stroke-linejoin="round"/>
<rect x="370.25" y="1629.30" width="4.26" height="26.00" fill="#dc5c5c" stroke="#dc5c5c" stroke-width="0.6" stroke-linejoin="round"/>
<rect x="378.31" y="1629.30" width="7.66" height="26.00" fill="#dc5c5c" stroke="#dc5c5c" stroke-width="0.6" stroke-linejoin="round"/>
<rect x="390.00" y="1629.30" width="8.41" height="26.00" fill="#dc5c5c" stroke="#dc5c5c" stroke-width="0.6" stroke-linejoin="round"/>
<rect x="402.22" y="1629.30" width="47.46" height="26.00" fill="#dc5c5c" stroke="#dc5c5c" stroke-width="0.6" stroke-linejoin="round"/>
<rect x="458.72" y="1629.30" width="45.16" height="26.00" fill="#dc5c5c" stroke="#dc5c5c" stroke-width="0.6" stroke-linejoin="round"/>
<rect x="508.32" y="1629.30" width="26.38" height="26.00" fill="#dc5c5c" stroke="#dc5c5c" stroke-width="0.6" stroke-linejoin="round"/>
<rect x="550.48" y="1629.30" width="4.32" height="26.00" fill="#dc5c5c" stroke="#dc5c5c" stroke-width="0.6" stroke-linejoin="round"/>
<rect x="593.16" y="1629.30" width="8.76" height="26.00" fill="#dc5c5c" stroke="#dc5c5c" stroke-width="0.6" stroke-linejoin="round"/>
<line x1="214.10" y1="1642.30" x2="221.60" y2="1642.30" stroke="#2b2b2b" stroke-width="1.6" />
<text x="207.5" y="1649.7" font-size="20.5" text-anchor="end">licking and grooming</text>
<rect x="255.51" y="1655.50" width="4.20" height="26.00" fill="#e6755c" stroke="#e6755c" stroke-width="0.6" stroke-linejoin="round"/>
<rect x="262.19" y="1655.50" width="2.53" height="26.00" fill="#e6755c" stroke="#e6755c" stroke-width="0.6" stroke-linejoin="round"/>
<rect x="270.20" y="1655.50" width="4.03" height="26.00" fill="#e6755c" stroke="#e6755c" stroke-width="0.6" stroke-linejoin="round"/>
<rect x="285.12" y="1655.50" width="2.88" height="26.00" fill="#e6755c" stroke="#e6755c" stroke-width="0.6" stroke-linejoin="round"/>
<rect x="289.90" y="1655.50" width="1.90" height="26.00" fill="#e6755c" stroke="#e6755c" stroke-width="0.6" stroke-linejoin="round"/>
<rect x="454.11" y="1655.50" width="3.57" height="26.00" fill="#e6755c" stroke="#e6755c" stroke-width="0.6" stroke-linejoin="round"/>
<line x1="214.10" y1="1668.50" x2="221.60" y2="1668.50" stroke="#2b2b2b" stroke-width="1.6" />
<text x="207.5" y="1675.9" font-size="20.5" text-anchor="end">chemoinvestigation</text>
<rect x="247.79" y="1681.60" width="1.21" height="26.00" fill="#f0c0a4" />
<line x1="214.10" y1="1694.60" x2="221.60" y2="1694.60" stroke="#2b2b2b" stroke-width="1.6" />
<text x="207.5" y="1702.0" font-size="20.5" text-anchor="end">pup introduction</text>
<line x1="221.60" y1="1446.80" x2="221.60" y2="1733.80" stroke="#2b2b2b" stroke-width="1.6" />
<line x1="221.60" y1="1733.80" x2="809.20" y2="1733.80" stroke="#2b2b2b" stroke-width="1.6" />
<line x1="227.40" y1="1733.80" x2="227.40" y2="1739.80" stroke="#2b2b2b" stroke-width="1.6" />
<text x="227.4" y="1759.6" font-size="20.3" text-anchor="middle">0</text>
<line x1="285.00" y1="1733.80" x2="285.00" y2="1739.80" stroke="#2b2b2b" stroke-width="1.6" />
<text x="285.0" y="1759.6" font-size="20.3" text-anchor="middle">100</text>
<line x1="342.60" y1="1733.80" x2="342.60" y2="1739.80" stroke="#2b2b2b" stroke-width="1.6" />
<text x="342.6" y="1759.6" font-size="20.3" text-anchor="middle">200</text>
<line x1="400.20" y1="1733.80" x2="400.20" y2="1739.80" stroke="#2b2b2b" stroke-width="1.6" />
<text x="400.2" y="1759.6" font-size="20.3" text-anchor="middle">300</text>
<line x1="457.80" y1="1733.80" x2="457.80" y2="1739.80" stroke="#2b2b2b" stroke-width="1.6" />
<text x="457.8" y="1759.6" font-size="20.3" text-anchor="middle">400</text>
<line x1="515.40" y1="1733.80" x2="515.40" y2="1739.80" stroke="#2b2b2b" stroke-width="1.6" />
<text x="515.4" y="1759.6" font-size="20.3" text-anchor="middle">500</text>
<line x1="573.00" y1="1733.80" x2="573.00" y2="1739.80" stroke="#2b2b2b" stroke-width="1.6" />
<text x="573.0" y="1759.6" font-size="20.3" text-anchor="middle">600</text>
<line x1="630.60" y1="1733.80" x2="630.60" y2="1739.80" stroke="#2b2b2b" stroke-width="1.6" />
<text x="630.6" y="1759.6" font-size="20.3" text-anchor="middle">700</text>
<line x1="688.20" y1="1733.80" x2="688.20" y2="1739.80" stroke="#2b2b2b" stroke-width="1.6" />
<text x="688.2" y="1759.6" font-size="20.3" text-anchor="middle">800</text>
<line x1="745.80" y1="1733.80" x2="745.80" y2="1739.80" stroke="#2b2b2b" stroke-width="1.6" />
<text x="745.8" y="1759.6" font-size="20.3" text-anchor="middle">900</text>
<line x1="803.40" y1="1733.80" x2="803.40" y2="1739.80" stroke="#2b2b2b" stroke-width="1.6" />
<text x="803.4" y="1759.6" font-size="20.3" text-anchor="middle">1000</text>
<text x="519.0" y="1790.0" font-size="20.3" text-anchor="middle">Time (s)</text>
<text x="897.2" y="1444.0" font-size="33" font-weight="bold">q</text>
<path d="M1285.8 1458.5 L1284.8 1459.2 L1283.7 1460.0 L1282.7 1460.8 L1281.7 1461.6 L1280.7 1462.4 L1279.7 1463.2 L1278.7 1464.0 L1277.8 1464.8 L1276.8 1465.6 L1275.9 1466.5 L1274.9 1467.3 L1274.0 1468.2 L1273.1 1469.1 L1272.2 1470.0 L1271.3 1470.9 L1270.4 1471.8 L1269.5 1472.7 L1268.6 1473.6 L1267.8 1474.5 L1266.9 1475.5 L1266.1 1476.4 L1265.2 1477.4 L1264.4 1478.4 L1263.6 1479.3" fill="none" stroke="#000" stroke-width="2.4"/>
<path d="M1251.0 1494.8 L1252.8 1470.5 L1274.5 1488.2 Z" fill="#000" stroke="#000" stroke-width="1.5" stroke-linejoin="round"/>
<path d="M1270.2 1501.1 L1271.2 1500.4 L1272.3 1499.6 L1273.3 1498.8 L1274.3 1498.0 L1275.3 1497.2 L1276.3 1496.4 L1277.3 1495.6 L1278.2 1494.8 L1279.2 1494.0 L1280.1 1493.1 L1281.1 1492.3 L1282.0 1491.4 L1282.9 1490.5 L1283.8 1489.6 L1284.7 1488.7 L1285.6 1487.8 L1286.5 1486.9 L1287.4 1486.0 L1288.2 1485.1 L1289.1 1484.1 L1289.9 1483.2 L1290.8 1482.2 L1291.6 1481.2 L1292.4 1480.3" fill="none" stroke="#000" stroke-width="3.0"/>
<path d="M1305.0 1464.8 L1303.2 1489.1 L1281.5 1471.4 Z" fill="#000" stroke="#000" stroke-width="1.5" stroke-linejoin="round"/>
<path d="M1281.8 1446.5 L1272.3 1447.9 L1262.9 1449.5 L1253.7 1451.3 L1244.6 1453.4 L1235.6 1455.7 L1226.7 1458.2 L1217.9 1460.9 L1209.3 1463.9 L1200.7 1467.1 L1192.3 1470.5 L1184.0 1474.1 L1175.8 1478.0 L1167.7 1482.1 L1159.7 1486.4 L1151.8 1490.9 L1144.1 1495.7 L1136.5 1500.7 L1128.9 1505.9 L1121.5 1511.3 L1114.3 1517.0 L1107.1 1522.9 L1100.0 1529.0 L1093.1 1535.3 L1086.2 1541.9" fill="none" stroke="#000" stroke-width="1.0"/>
<path d="M1072.0 1555.9 L1076.4 1531.9 L1096.1 1551.8 Z" fill="#000" stroke="#000" stroke-width="1.5" stroke-linejoin="round"/>
<path d="M1212.0 1514.2 L1206.6 1514.2 L1201.2 1514.4 L1195.9 1514.7 L1190.5 1515.1 L1185.3 1515.6 L1180.0 1516.3 L1174.8 1517.1 L1169.6 1517.9 L1164.5 1518.9 L1159.4 1520.1 L1154.3 1521.3 L1149.3 1522.6 L1144.3 1524.1 L1139.4 1525.7 L1134.5 1527.4 L1129.6 1529.2 L1124.7 1531.2 L1119.9 1533.2 L1115.2 1535.4 L1110.4 1537.7 L1105.7 1540.1 L1101.1 1542.6 L1096.4 1545.2 L1091.8 1548.0" fill="none" stroke="#000" stroke-width="1.0"/>
<path d="M1074.8 1558.5 L1084.5 1536.1 L1099.2 1559.9 Z" fill="#000" stroke="#000" stroke-width="1.5" stroke-linejoin="round"/>
<path d="M1088.8 1574.9 L1094.2 1574.9 L1099.6 1574.7 L1104.9 1574.4 L1110.3 1574.0 L1115.5 1573.5 L1120.8 1572.8 L1126.0 1572.0 L1131.2 1571.2 L1136.3 1570.2 L1141.4 1569.0 L1146.5 1567.8 L1151.5 1566.5 L1156.5 1565.0 L1161.4 1563.4 L1166.3 1561.7 L1171.2 1559.9 L1176.1 1557.9 L1180.9 1555.9 L1185.6 1553.7 L1190.4 1551.4 L1195.1 1549.0 L1199.7 1546.5 L1204.4 1543.9 L1209.0 1541.1" fill="none" stroke="#000" stroke-width="5.0"/>
<path d="M1226.0 1530.6 L1216.3 1553.0 L1201.6 1529.2 Z" fill="#000" stroke="#000" stroke-width="1.5" stroke-linejoin="round"/>
<path d="M1105.3 1665.8 L1111.7 1662.6 L1118.0 1659.3 L1124.1 1655.8 L1130.2 1652.2 L1136.1 1648.5 L1141.8 1644.7 L1147.5 1640.7 L1153.0 1636.6 L1158.4 1632.4 L1163.7 1628.0 L1168.9 1623.5 L1173.9 1618.9 L1178.8 1614.2 L1183.6 1609.4 L1188.3 1604.4 L1192.8 1599.3 L1197.2 1594.1 L1201.5 1588.7 L1205.7 1583.2 L1209.8 1577.6 L1213.7 1571.9 L1217.5 1566.0 L1221.2 1560.0 L1224.8 1553.9" fill="none" stroke="#000" stroke-width="2.0"/>
<path d="M1234.6 1536.5 L1236.9 1560.8 L1212.6 1547.0 Z" fill="#000" stroke="#000" stroke-width="1.5" stroke-linejoin="round"/>
<path d="M1250.1 1546.6 L1252.6 1555.4 L1255.3 1564.0 L1258.2 1572.4 L1261.3 1580.8 L1264.6 1589.0 L1268.1 1597.0 L1271.8 1605.0 L1275.7 1612.8 L1279.8 1620.4 L1284.1 1628.0 L1288.6 1635.3 L1293.2 1642.6 L1298.1 1649.7 L1303.2 1656.7 L1308.4 1663.6 L1313.9 1670.3 L1319.5 1676.9 L1325.4 1683.3 L1331.4 1689.7 L1337.6 1695.8 L1344.1 1701.9 L1350.7 1707.8 L1357.5 1713.6 L1364.5 1719.2" fill="none" stroke="#000" stroke-width="1.0"/>
<path d="M1380.3 1731.6 L1355.9 1730.2 L1373.2 1708.2 Z" fill="#000" stroke="#000" stroke-width="1.5" stroke-linejoin="round"/>
<path d="M1347.0 1630.7 L1345.1 1626.1 L1343.1 1621.6 L1341.1 1617.1 L1339.0 1612.7 L1336.8 1608.4 L1334.5 1604.1 L1332.1 1599.9 L1329.6 1595.8 L1327.0 1591.7 L1324.4 1587.7 L1321.7 1583.8 L1318.8 1579.9 L1315.9 1576.1 L1312.9 1572.4 L1309.9 1568.7 L1306.7 1565.1 L1303.5 1561.6 L1300.1 1558.1 L1296.7 1554.7 L1293.2 1551.4 L1289.6 1548.1 L1285.9 1544.9 L1282.2 1541.8 L1278.3 1538.8" fill="none" stroke="#000" stroke-width="2.5"/>
<path d="M1262.5 1526.5 L1286.9 1527.7 L1269.7 1549.8 Z" fill="#000" stroke="#000" stroke-width="1.5" stroke-linejoin="round"/>
<path d="M1325.6 1472.0 L1328.6 1477.7 L1331.6 1483.3 L1334.8 1488.9 L1338.1 1494.2 L1341.6 1499.5 L1345.1 1504.7 L1348.7 1509.8 L1352.5 1514.7 L1356.3 1519.6 L1360.3 1524.3 L1364.4 1529.0 L1368.5 1533.5 L1372.8 1537.9 L1377.2 1542.2 L1381.7 1546.4 L1386.4 1550.5 L1391.1 1554.5 L1395.9 1558.4 L1400.9 1562.1 L1405.9 1565.8 L1411.1 1569.3 L1416.4 1572.8 L1421.8 1576.1 L1427.3 1579.3" fill="none" stroke="#000" stroke-width="1.6"/>
<path d="M1444.6 1589.3 L1420.3 1591.5 L1434.2 1567.2 Z" fill="#000" stroke="#000" stroke-width="1.5" stroke-linejoin="round"/>
<path d="M1452.9 1569.2 L1449.9 1563.5 L1446.9 1557.9 L1443.7 1552.3 L1440.4 1547.0 L1436.9 1541.7 L1433.4 1536.5 L1429.8 1531.4 L1426.0 1526.5 L1422.2 1521.6 L1418.2 1516.9 L1414.1 1512.2 L1410.0 1507.7 L1405.7 1503.3 L1401.3 1499.0 L1396.8 1494.8 L1392.1 1490.7 L1387.4 1486.7 L1382.6 1482.8 L1377.6 1479.1 L1372.6 1475.4 L1367.4 1471.9 L1362.1 1468.4 L1356.7 1465.1 L1351.2 1461.9" fill="none" stroke="#000" stroke-width="3.0"/>
<path d="M1333.9 1451.9 L1358.2 1449.7 L1344.3 1474.0 Z" fill="#000" stroke="#000" stroke-width="1.5" stroke-linejoin="round"/>
<path d="M1435.0 1603.8 L1432.8 1604.5 L1430.5 1605.2 L1428.2 1606.0 L1426.0 1606.8 L1423.8 1607.7 L1421.6 1608.5 L1419.4 1609.4 L1417.3 1610.4 L1415.1 1611.4 L1413.0 1612.4 L1410.9 1613.4 L1408.9 1614.5 L1406.8 1615.6 L1404.8 1616.8 L1402.7 1617.9 L1400.7 1619.1 L1398.8 1620.4 L1396.8 1621.7 L1394.8 1623.0 L1392.9 1624.3 L1391.0 1625.7 L1389.1 1627.1 L1387.3 1628.5 L1385.4 1630.0" fill="none" stroke="#000" stroke-width="2.6"/>
<path d="M1369.9 1642.6 L1376.6 1619.1 L1394.2 1640.9 Z" fill="#000" stroke="#000" stroke-width="1.5" stroke-linejoin="round"/>
<path d="M1443.7 1620.1 L1441.2 1623.1 L1438.8 1626.2 L1436.5 1629.2 L1434.2 1632.4 L1432.0 1635.5 L1429.9 1638.7 L1427.8 1641.9 L1425.9 1645.2 L1423.9 1648.5 L1422.1 1651.8 L1420.3 1655.1 L1418.7 1658.5 L1417.0 1661.9 L1415.5 1665.4 L1414.0 1668.8 L1412.6 1672.3 L1411.3 1675.9 L1410.0 1679.5 L1408.8 1683.1 L1407.7 1686.7 L1406.6 1690.4 L1405.6 1694.1 L1404.7 1697.8 L1403.9 1701.6" fill="none" stroke="#000" stroke-width="4.5"/>
<path d="M1399.7 1721.1 L1390.2 1698.7 L1417.6 1704.5 Z" fill="#000" stroke="#000" stroke-width="1.5" stroke-linejoin="round"/>
<path d="M1421.2 1721.0 L1423.7 1718.0 L1426.1 1714.9 L1428.4 1711.9 L1430.7 1708.7 L1432.9 1705.6 L1435.0 1702.4 L1437.1 1699.2 L1439.0 1695.9 L1441.0 1692.6 L1442.8 1689.3 L1444.6 1686.0 L1446.2 1682.6 L1447.9 1679.2 L1449.4 1675.7 L1450.9 1672.3 L1452.3 1668.8 L1453.6 1665.2 L1454.9 1661.6 L1456.1 1658.0 L1457.2 1654.4 L1458.3 1650.7 L1459.3 1647.0 L1460.2 1643.3 L1461.0 1639.5" fill="none" stroke="#000" stroke-width="4.5"/>
<path d="M1465.2 1620.0 L1474.7 1642.4 L1447.3 1636.6 Z" fill="#000" stroke="#000" stroke-width="1.5" stroke-linejoin="round"/>
<path d="M1362.4 1691.2 L1362.7 1692.1 L1363.0 1693.0 L1363.3 1693.9 L1363.6 1694.8 L1363.9 1695.7 L1364.3 1696.6 L1364.6 1697.5 L1365.0 1698.3 L1365.4 1699.2 L1365.7 1700.1 L1366.1 1700.9 L1366.5 1701.8 L1366.9 1702.7 L1367.3 1703.5 L1367.7 1704.4 L1368.1 1705.2 L1368.5 1706.0 L1368.9 1706.9 L1369.4 1707.7 L1369.8 1708.5 L1370.3 1709.4 L1370.7 1710.2 L1371.2 1711.0 L1371.7 1711.8" fill="none" stroke="#000" stroke-width="4.0"/>
<path d="M1381.8 1729.1 L1359.6 1718.9 L1383.7 1704.7 Z" fill="#000" stroke="#000" stroke-width="1.5" stroke-linejoin="round"/>
<path d="M1393.6 1712.9 L1393.3 1712.0 L1393.0 1711.1 L1392.7 1710.2 L1392.4 1709.3 L1392.1 1708.4 L1391.7 1707.5 L1391.4 1706.6 L1391.0 1705.8 L1390.6 1704.9 L1390.3 1704.0 L1389.9 1703.2 L1389.5 1702.3 L1389.1 1701.4 L1388.7 1700.6 L1388.3 1699.7 L1387.9 1698.9 L1387.5 1698.1 L1387.1 1697.2 L1386.6 1696.4 L1386.2 1695.6 L1385.7 1694.7 L1385.3 1693.9 L1384.8 1693.1 L1384.3 1692.3" fill="none" stroke="#000" stroke-width="2.0"/>
<path d="M1374.2 1675.0 L1396.4 1685.2 L1372.3 1699.4 Z" fill="#000" stroke="#000" stroke-width="1.5" stroke-linejoin="round"/>
<path d="M1370.1 1731.9 L1356.0 1727.0 L1341.9 1722.5 L1327.9 1718.5 L1313.8 1714.9 L1299.7 1711.7 L1285.7 1708.9 L1271.6 1706.5 L1257.6 1704.6 L1243.5 1703.1 L1229.5 1702.1 L1215.5 1701.4 L1201.5 1701.2 L1187.4 1701.4 L1173.4 1702.1 L1159.4 1703.2 L1145.4 1704.6 L1131.4 1706.6 L1117.4 1708.9 L1103.4 1711.7 L1089.4 1714.9 L1075.5 1718.5 L1061.5 1722.6 L1047.5 1727.1 L1033.5 1732.0" fill="none" stroke="#000" stroke-width="1.3"/>
<path d="M1014.8 1738.9 L1028.7 1718.8 L1038.4 1745.1 Z" fill="#000" stroke="#000" stroke-width="1.5" stroke-linejoin="round"/>
<path d="M1022.7 1736.2 L1024.1 1735.5 L1025.5 1734.6 L1026.9 1733.8 L1028.3 1733.0 L1029.6 1732.1 L1030.9 1731.3 L1032.3 1730.4 L1033.6 1729.5 L1034.9 1728.6 L1036.1 1727.7 L1037.4 1726.7 L1038.7 1725.8 L1039.9 1724.8 L1041.1 1723.8 L1042.4 1722.8 L1043.6 1721.8 L1044.7 1720.7 L1045.9 1719.7 L1047.1 1718.6 L1048.2 1717.5 L1049.4 1716.4 L1050.5 1715.3 L1051.6 1714.2 L1052.7 1713.0" fill="none" stroke="#000" stroke-width="5.0"/>
<path d="M1066.5 1698.5 L1062.9 1722.7 L1042.5 1703.4 Z" fill="#000" stroke="#000" stroke-width="1.5" stroke-linejoin="round"/>
<path d="M1047.8 1690.2 L1046.4 1690.9 L1045.0 1691.8 L1043.6 1692.6 L1042.2 1693.4 L1040.9 1694.3 L1039.6 1695.1 L1038.2 1696.0 L1036.9 1696.9 L1035.6 1697.8 L1034.4 1698.7 L1033.1 1699.7 L1031.8 1700.6 L1030.6 1701.6 L1029.4 1702.6 L1028.1 1703.6 L1026.9 1704.6 L1025.8 1705.7 L1024.6 1706.7 L1023.4 1707.8 L1022.3 1708.9 L1021.1 1710.0 L1020.0 1711.1 L1018.9 1712.2 L1017.8 1713.4" fill="none" stroke="#000" stroke-width="2.5"/>
<path d="M1004.0 1727.9 L1007.6 1703.7 L1028.0 1723.0 Z" fill="#000" stroke="#000" stroke-width="1.5" stroke-linejoin="round"/>
<path d="M1014.1 1724.6 L1017.1 1720.5 L1020.0 1716.3 L1022.8 1712.1 L1025.5 1707.9 L1028.1 1703.6 L1030.6 1699.3 L1033.0 1695.0 L1035.2 1690.6 L1037.4 1686.2 L1039.4 1681.8 L1041.4 1677.3 L1043.2 1672.7 L1045.0 1668.1 L1046.6 1663.5 L1048.1 1658.9 L1049.6 1654.2 L1050.9 1649.5 L1052.1 1644.7 L1053.2 1639.9 L1054.2 1635.1 L1055.1 1630.2 L1055.9 1625.3 L1056.5 1620.3 L1057.1 1615.3" fill="none" stroke="#000" stroke-width="5.0"/>
<path d="M1059.2 1595.4 L1071.0 1616.7 L1043.2 1613.9 Z" fill="#000" stroke="#000" stroke-width="1.5" stroke-linejoin="round"/>
<path d="M1053.7 1604.0 L1053.7 1605.5 L1053.7 1607.1 L1053.7 1608.6 L1053.8 1610.1 L1053.8 1611.7 L1053.9 1613.2 L1054.0 1614.7 L1054.1 1616.3 L1054.2 1617.8 L1054.4 1619.3 L1054.6 1620.8 L1054.8 1622.3 L1055.0 1623.8 L1055.2 1625.3 L1055.4 1626.8 L1055.7 1628.3 L1056.0 1629.8 L1056.3 1631.3 L1056.6 1632.8 L1057.0 1634.3 L1057.3 1635.8 L1057.7 1637.3 L1058.1 1638.7 L1058.5 1640.2" fill="none" stroke="#000" stroke-width="4.0"/>
<path d="M1064.1 1659.4 L1045.0 1644.1 L1071.9 1636.3 Z" fill="#000" stroke="#000" stroke-width="1.5" stroke-linejoin="round"/>
<circle cx="1313.00" cy="1443.60" r="33.00" fill="#cd5a63" />
<text x="1313.0" y="1449.9" font-size="17.5" text-anchor="middle" fill="#fff">rearing</text>
<circle cx="1243.00" cy="1516.00" r="33.00" fill="#cd5a63" />
<text x="1243.0" y="1512.1" font-size="17" text-anchor="middle" fill="#fff">nest</text>
<text x="1243.0" y="1532.1" font-size="17" text-anchor="middle" fill="#fff">building</text>
<circle cx="1057.80" cy="1573.10" r="33.00" fill="#cd5a63" />
<text x="1057.8" y="1568.4" font-size="19" text-anchor="middle" fill="#fff">in</text>
<text x="1057.8" y="1591.4" font-size="19" text-anchor="middle" fill="#fff">nest</text>
<circle cx="1465.50" cy="1597.60" r="33.00" fill="#cd5a63" />
<text x="1465.5" y="1604.4" font-size="19" text-anchor="middle" fill="#fff">chemo</text>
<circle cx="1076.50" cy="1678.20" r="33.00" fill="#cd5a63" />
<text x="1076.5" y="1674.3" font-size="17" text-anchor="middle" fill="#fff">self</text>
<text x="1076.5" y="1694.3" font-size="17" text-anchor="middle" fill="#fff">groom.</text>
<circle cx="1356.60" cy="1660.60" r="33.00" fill="#cd5a63" />
<text x="1356.6" y="1656.5" font-size="17" text-anchor="middle" fill="#fff">lick.</text>
<text x="1356.6" y="1677.0" font-size="17" text-anchor="middle" fill="#fff">groom</text>
<circle cx="994.00" cy="1748.20" r="33.00" fill="#cd5a63" />
<text x="994.0" y="1755.0" font-size="19" text-anchor="middle" fill="#fff">retri.</text>
<circle cx="1399.40" cy="1743.50" r="33.00" fill="#cd5a63" />
<text x="1399.4" y="1729.9" font-size="16.5" text-anchor="middle" fill="#fff">in</text>
<text x="1399.4" y="1749.4" font-size="16.5" text-anchor="middle" fill="#fff">empty</text>
<text x="1399.4" y="1768.9" font-size="16.5" text-anchor="middle" fill="#fff">nest</text>
<text x="4.8" y="1855.0" font-size="33" font-weight="bold">r</text>
<text x="236.4" y="1875.4" font-size="25.2" font-weight="bold">Agg<tspan dy="-8" font-size="19">−</tspan><tspan dy="8"> (ignoring)</tspan></text>
<rect x="579.41" y="1892.20" width="2.21" height="26.20" fill="#4e1c62" stroke="#4e1c62" stroke-width="0.6" stroke-linejoin="round"/>
<rect x="585.19" y="1892.20" width="4.42" height="26.20" fill="#4e1c62" stroke="#4e1c62" stroke-width="0.6" stroke-linejoin="round"/>
<rect x="605.30" y="1892.20" width="3.51" height="26.20" fill="#4e1c62" stroke="#4e1c62" stroke-width="0.6" stroke-linejoin="round"/>
<line x1="213.20" y1="1905.30" x2="220.70" y2="1905.30" stroke="#2b2b2b" stroke-width="1.6" />
<text x="207.5" y="1912.7" font-size="20.5" text-anchor="end">retrieval</text>
<rect x="356.31" y="1918.50" width="4.42" height="26.20" fill="#6a2676" stroke="#6a2676" stroke-width="0.6" stroke-linejoin="round"/>
<rect x="480.52" y="1918.50" width="24.47" height="26.20" fill="#6a2676" stroke="#6a2676" stroke-width="0.6" stroke-linejoin="round"/>
<rect x="689.92" y="1918.50" width="1.81" height="26.20" fill="#6a2676" stroke="#6a2676" stroke-width="0.6" stroke-linejoin="round"/>
<rect x="714.22" y="1918.50" width="3.57" height="26.20" fill="#6a2676" stroke="#6a2676" stroke-width="0.6" stroke-linejoin="round"/>
<line x1="213.20" y1="1931.60" x2="220.70" y2="1931.60" stroke="#2b2b2b" stroke-width="1.6" />
<text x="207.5" y="1939.0" font-size="20.5" text-anchor="end">self-grooming</text>
<rect x="286.07" y="1944.90" width="3.40" height="26.20" fill="#8b2c78" stroke="#8b2c78" stroke-width="0.6" stroke-linejoin="round"/>
<rect x="395.22" y="1944.90" width="3.40" height="26.20" fill="#8b2c78" stroke="#8b2c78" stroke-width="0.6" stroke-linejoin="round"/>
<rect x="450.10" y="1944.90" width="4.02" height="26.20" fill="#8b2c78" stroke="#8b2c78" stroke-width="0.6" stroke-linejoin="round"/>
<rect x="456.39" y="1944.90" width="3.79" height="26.20" fill="#8b2c78" stroke="#8b2c78" stroke-width="0.6" stroke-linejoin="round"/>
<rect x="531.38" y="1944.90" width="11.61" height="26.20" fill="#8b2c78" stroke="#8b2c78" stroke-width="0.6" stroke-linejoin="round"/>
<rect x="543.67" y="1944.90" width="22.71" height="26.20" fill="#8b2c78" stroke="#8b2c78" stroke-width="0.6" stroke-linejoin="round"/>
<rect x="576.30" y="1944.90" width="4.42" height="26.20" fill="#8b2c78" stroke="#8b2c78" stroke-width="0.6" stroke-linejoin="round"/>
<rect x="588.31" y="1944.90" width="9.63" height="26.20" fill="#8b2c78" stroke="#8b2c78" stroke-width="0.6" stroke-linejoin="round"/>
<rect x="600.09" y="1944.90" width="5.61" height="26.20" fill="#8b2c78" stroke="#8b2c78" stroke-width="0.6" stroke-linejoin="round"/>
<rect x="613.28" y="1944.90" width="4.02" height="26.20" fill="#8b2c78" stroke="#8b2c78" stroke-width="0.6" stroke-linejoin="round"/>
<rect x="619.29" y="1944.90" width="5.61" height="26.20" fill="#8b2c78" stroke="#8b2c78" stroke-width="0.6" stroke-linejoin="round"/>
<rect x="651.29" y="1944.90" width="22.32" height="26.20" fill="#8b2c78" stroke="#8b2c78" stroke-width="0.6" stroke-linejoin="round"/>
<rect x="675.98" y="1944.90" width="6.68" height="26.20" fill="#8b2c78" stroke="#8b2c78" stroke-width="0.6" stroke-linejoin="round"/>
<rect x="685.61" y="1944.90" width="3.79" height="26.20" fill="#8b2c78" stroke="#8b2c78" stroke-width="0.6" stroke-linejoin="round"/>
<rect x="692.30" y="1944.90" width="17.73" height="26.20" fill="#8b2c78" stroke="#8b2c78" stroke-width="0.6" stroke-linejoin="round"/>
<rect x="729.17" y="1944.90" width="8.21" height="26.20" fill="#8b2c78" stroke="#8b2c78" stroke-width="0.6" stroke-linejoin="round"/>
<rect x="739.19" y="1944.90" width="3.57" height="26.20" fill="#8b2c78" stroke="#8b2c78" stroke-width="0.6" stroke-linejoin="round"/>
<rect x="745.20" y="1944.90" width="8.72" height="26.20" fill="#8b2c78" stroke="#8b2c78" stroke-width="0.6" stroke-linejoin="round"/>
<line x1="213.20" y1="1958.00" x2="220.70" y2="1958.00" stroke="#2b2b2b" stroke-width="1.6" />
<text x="207.5" y="1965.4" font-size="20.5" text-anchor="end">digging</text>
<rect x="269.82" y="1971.40" width="6.00" height="26.20" fill="#a83670" stroke="#a83670" stroke-width="0.6" stroke-linejoin="round"/>
<rect x="291.12" y="1971.40" width="7.59" height="26.20" fill="#a83670" stroke="#a83670" stroke-width="0.6" stroke-linejoin="round"/>
<rect x="301.99" y="1971.40" width="18.92" height="26.20" fill="#a83670" stroke="#a83670" stroke-width="0.6" stroke-linejoin="round"/>
<rect x="327.03" y="1971.40" width="23.79" height="26.20" fill="#a83670" stroke="#a83670" stroke-width="0.6" stroke-linejoin="round"/>
<rect x="422.92" y="1971.40" width="10.87" height="26.20" fill="#a83670" stroke="#a83670" stroke-width="0.6" stroke-linejoin="round"/>
<rect x="677.97" y="1971.40" width="6.74" height="26.20" fill="#a83670" stroke="#a83670" stroke-width="0.6" stroke-linejoin="round"/>
<rect x="736.08" y="1971.40" width="4.42" height="26.20" fill="#a83670" stroke="#a83670" stroke-width="0.6" stroke-linejoin="round"/>
<line x1="213.20" y1="1984.50" x2="220.70" y2="1984.50" stroke="#2b2b2b" stroke-width="1.6" />
<text x="207.5" y="1991.9" font-size="20.5" text-anchor="end">licking and grooming</text>
<rect x="263.08" y="1997.40" width="2.49" height="26.20" fill="#be3460" stroke="#be3460" stroke-width="0.6" stroke-linejoin="round"/>
<rect x="383.10" y="1997.40" width="2.49" height="26.20" fill="#be3460" stroke="#be3460" stroke-width="0.6" stroke-linejoin="round"/>
<rect x="574.49" y="1997.40" width="3.34" height="26.20" fill="#be3460" stroke="#be3460" stroke-width="0.6" stroke-linejoin="round"/>
<line x1="213.20" y1="2010.50" x2="220.70" y2="2010.50" stroke="#2b2b2b" stroke-width="1.6" />
<text x="207.5" y="2017.9" font-size="20.5" text-anchor="end">tail rattling</text>
<rect x="260.30" y="2023.60" width="3.79" height="26.20" fill="#d44455" stroke="#d44455" stroke-width="0.6" stroke-linejoin="round"/>
<rect x="278.09" y="2023.60" width="2.32" height="26.20" fill="#d44455" stroke="#d44455" stroke-width="0.6" stroke-linejoin="round"/>
<rect x="353.99" y="2023.60" width="2.49" height="26.20" fill="#d44455" stroke="#d44455" stroke-width="0.6" stroke-linejoin="round"/>
<rect x="393.18" y="2023.60" width="2.49" height="26.20" fill="#d44455" stroke="#d44455" stroke-width="0.6" stroke-linejoin="round"/>
<rect x="411.99" y="2023.60" width="2.72" height="26.20" fill="#d44455" stroke="#d44455" stroke-width="0.6" stroke-linejoin="round"/>
<rect x="570.41" y="2023.60" width="5.21" height="26.20" fill="#d44455" stroke="#d44455" stroke-width="0.6" stroke-linejoin="round"/>
<rect x="604.39" y="2023.60" width="5.83" height="26.20" fill="#d44455" stroke="#d44455" stroke-width="0.6" stroke-linejoin="round"/>
<rect x="673.32" y="2023.60" width="3.57" height="26.20" fill="#d44455" stroke="#d44455" stroke-width="0.6" stroke-linejoin="round"/>
<rect x="689.41" y="2023.60" width="3.40" height="26.20" fill="#d44455" stroke="#d44455" stroke-width="0.6" stroke-linejoin="round"/>
<rect x="716.43" y="2023.60" width="6.46" height="26.20" fill="#d44455" stroke="#d44455" stroke-width="0.6" stroke-linejoin="round"/>
<line x1="213.20" y1="2036.70" x2="220.70" y2="2036.70" stroke="#2b2b2b" stroke-width="1.6" />
<text x="207.5" y="2044.1" font-size="20.5" text-anchor="end">in empty nest</text>
<rect x="254.07" y="2050.10" width="9.63" height="26.20" fill="#e05a58" stroke="#e05a58" stroke-width="0.6" stroke-linejoin="round"/>
<rect x="268.29" y="2050.10" width="2.49" height="26.20" fill="#e05a58" stroke="#e05a58" stroke-width="0.6" stroke-linejoin="round"/>
<rect x="282.28" y="2050.10" width="5.32" height="26.20" fill="#e05a58" stroke="#e05a58" stroke-width="0.6" stroke-linejoin="round"/>
<rect x="289.19" y="2050.10" width="2.61" height="26.20" fill="#e05a58" stroke="#e05a58" stroke-width="0.6" stroke-linejoin="round"/>
<rect x="348.89" y="2050.10" width="2.83" height="26.20" fill="#e05a58" stroke="#e05a58" stroke-width="0.6" stroke-linejoin="round"/>
<rect x="376.42" y="2050.10" width="4.19" height="26.20" fill="#e05a58" stroke="#e05a58" stroke-width="0.6" stroke-linejoin="round"/>
<rect x="390.01" y="2050.10" width="3.57" height="26.20" fill="#e05a58" stroke="#e05a58" stroke-width="0.6" stroke-linejoin="round"/>
<rect x="402.19" y="2050.10" width="2.49" height="26.20" fill="#e05a58" stroke="#e05a58" stroke-width="0.6" stroke-linejoin="round"/>
<rect x="408.19" y="2050.10" width="10.31" height="26.20" fill="#e05a58" stroke="#e05a58" stroke-width="0.6" stroke-linejoin="round"/>
<rect x="434.42" y="2050.10" width="2.49" height="26.20" fill="#e05a58" stroke="#e05a58" stroke-width="0.6" stroke-linejoin="round"/>
<rect x="438.21" y="2050.10" width="6.06" height="26.20" fill="#e05a58" stroke="#e05a58" stroke-width="0.6" stroke-linejoin="round"/>
<rect x="446.20" y="2050.10" width="4.42" height="26.20" fill="#e05a58" stroke="#e05a58" stroke-width="0.6" stroke-linejoin="round"/>
<rect x="461.21" y="2050.10" width="5.72" height="26.20" fill="#e05a58" stroke="#e05a58" stroke-width="0.6" stroke-linejoin="round"/>
<rect x="467.49" y="2050.10" width="5.10" height="26.20" fill="#e05a58" stroke="#e05a58" stroke-width="0.6" stroke-linejoin="round"/>
<rect x="503.52" y="2050.10" width="12.29" height="26.20" fill="#e05a58" stroke="#e05a58" stroke-width="0.6" stroke-linejoin="round"/>
<rect x="517.28" y="2050.10" width="3.62" height="26.20" fill="#e05a58" stroke="#e05a58" stroke-width="0.6" stroke-linejoin="round"/>
<rect x="522.49" y="2050.10" width="7.31" height="26.20" fill="#e05a58" stroke="#e05a58" stroke-width="0.6" stroke-linejoin="round"/>
<rect x="542.09" y="2050.10" width="2.72" height="26.20" fill="#e05a58" stroke="#e05a58" stroke-width="0.6" stroke-linejoin="round"/>
<rect x="572.73" y="2050.10" width="2.66" height="26.20" fill="#e05a58" stroke="#e05a58" stroke-width="0.6" stroke-linejoin="round"/>
<rect x="609.09" y="2050.10" width="3.79" height="26.20" fill="#e05a58" stroke="#e05a58" stroke-width="0.6" stroke-linejoin="round"/>
<rect x="616.00" y="2050.10" width="3.79" height="26.20" fill="#e05a58" stroke="#e05a58" stroke-width="0.6" stroke-linejoin="round"/>
<rect x="648.12" y="2050.10" width="3.79" height="26.20" fill="#e05a58" stroke="#e05a58" stroke-width="0.6" stroke-linejoin="round"/>
<rect x="673.10" y="2050.10" width="3.79" height="26.20" fill="#e05a58" stroke="#e05a58" stroke-width="0.6" stroke-linejoin="round"/>
<rect x="683.18" y="2050.10" width="2.21" height="26.20" fill="#e05a58" stroke="#e05a58" stroke-width="0.6" stroke-linejoin="round"/>
<rect x="690.09" y="2050.10" width="2.72" height="26.20" fill="#e05a58" stroke="#e05a58" stroke-width="0.6" stroke-linejoin="round"/>
<rect x="708.21" y="2050.10" width="3.51" height="26.20" fill="#e05a58" stroke="#e05a58" stroke-width="0.6" stroke-linejoin="round"/>
<rect x="718.18" y="2050.10" width="5.61" height="26.20" fill="#e05a58" stroke="#e05a58" stroke-width="0.6" stroke-linejoin="round"/>
<rect x="726.00" y="2050.10" width="2.89" height="26.20" fill="#e05a58" stroke="#e05a58" stroke-width="0.6" stroke-linejoin="round"/>
<rect x="754.20" y="2050.10" width="9.80" height="26.20" fill="#e05a58" stroke="#e05a58" stroke-width="0.6" stroke-linejoin="round"/>
<line x1="213.20" y1="2063.20" x2="220.70" y2="2063.20" stroke="#2b2b2b" stroke-width="1.6" />
<text x="207.5" y="2070.6" font-size="20.5" text-anchor="end">rearing</text>
<rect x="245.92" y="2076.40" width="2.95" height="26.20" fill="#e8755c" stroke="#e8755c" stroke-width="0.6" stroke-linejoin="round"/>
<rect x="249.43" y="2076.40" width="5.49" height="26.20" fill="#e8755c" stroke="#e8755c" stroke-width="0.6" stroke-linejoin="round"/>
<rect x="263.08" y="2076.40" width="6.74" height="26.20" fill="#e8755c" stroke="#e8755c" stroke-width="0.6" stroke-linejoin="round"/>
<rect x="320.17" y="2076.40" width="7.65" height="26.20" fill="#e8755c" stroke="#e8755c" stroke-width="0.6" stroke-linejoin="round"/>
<rect x="360.10" y="2076.40" width="8.27" height="26.20" fill="#e8755c" stroke="#e8755c" stroke-width="0.6" stroke-linejoin="round"/>
<rect x="383.10" y="2076.40" width="3.12" height="26.20" fill="#e8755c" stroke="#e8755c" stroke-width="0.6" stroke-linejoin="round"/>
<rect x="400.32" y="2076.40" width="5.38" height="26.20" fill="#e8755c" stroke="#e8755c" stroke-width="0.6" stroke-linejoin="round"/>
<rect x="418.50" y="2076.40" width="6.51" height="26.20" fill="#e8755c" stroke="#e8755c" stroke-width="0.6" stroke-linejoin="round"/>
<rect x="429.20" y="2076.40" width="3.57" height="26.20" fill="#e8755c" stroke="#e8755c" stroke-width="0.6" stroke-linejoin="round"/>
<rect x="475.08" y="2076.40" width="3.85" height="26.20" fill="#e8755c" stroke="#e8755c" stroke-width="0.6" stroke-linejoin="round"/>
<rect x="574.49" y="2076.40" width="3.51" height="26.20" fill="#e8755c" stroke="#e8755c" stroke-width="0.6" stroke-linejoin="round"/>
<line x1="213.20" y1="2089.50" x2="220.70" y2="2089.50" stroke="#2b2b2b" stroke-width="1.6" />
<text x="207.5" y="2096.9" font-size="20.5" text-anchor="end">chemoinvestigation</text>
<rect x="245.75" y="2102.60" width="1.20" height="26.20" fill="#f0c0a4" />
<line x1="213.20" y1="2115.70" x2="220.70" y2="2115.70" stroke="#2b2b2b" stroke-width="1.6" />
<text x="207.5" y="2123.1" font-size="20.5" text-anchor="end">pup introduction</text>
<line x1="220.70" y1="1865.80" x2="220.70" y2="2155.00" stroke="#2b2b2b" stroke-width="1.6" />
<line x1="220.70" y1="2155.00" x2="806.40" y2="2155.00" stroke="#2b2b2b" stroke-width="1.6" />
<line x1="239.80" y1="2155.00" x2="239.80" y2="2161.00" stroke="#2b2b2b" stroke-width="1.6" />
<text x="239.8" y="2181.3" font-size="20.3" text-anchor="middle">0</text>
<line x1="296.44" y1="2155.00" x2="296.44" y2="2161.00" stroke="#2b2b2b" stroke-width="1.6" />
<text x="296.4" y="2181.3" font-size="20.3" text-anchor="middle">100</text>
<line x1="353.08" y1="2155.00" x2="353.08" y2="2161.00" stroke="#2b2b2b" stroke-width="1.6" />
<text x="353.1" y="2181.3" font-size="20.3" text-anchor="middle">200</text>
<line x1="409.72" y1="2155.00" x2="409.72" y2="2161.00" stroke="#2b2b2b" stroke-width="1.6" />
<text x="409.7" y="2181.3" font-size="20.3" text-anchor="middle">300</text>
<line x1="466.36" y1="2155.00" x2="466.36" y2="2161.00" stroke="#2b2b2b" stroke-width="1.6" />
<text x="466.4" y="2181.3" font-size="20.3" text-anchor="middle">400</text>
<line x1="523.00" y1="2155.00" x2="523.00" y2="2161.00" stroke="#2b2b2b" stroke-width="1.6" />
<text x="523.0" y="2181.3" font-size="20.3" text-anchor="middle">500</text>
<line x1="579.64" y1="2155.00" x2="579.64" y2="2161.00" stroke="#2b2b2b" stroke-width="1.6" />
<text x="579.6" y="2181.3" font-size="20.3" text-anchor="middle">600</text>
<line x1="636.28" y1="2155.00" x2="636.28" y2="2161.00" stroke="#2b2b2b" stroke-width="1.6" />
<text x="636.3" y="2181.3" font-size="20.3" text-anchor="middle">700</text>
<line x1="692.92" y1="2155.00" x2="692.92" y2="2161.00" stroke="#2b2b2b" stroke-width="1.6" />
<text x="692.9" y="2181.3" font-size="20.3" text-anchor="middle">800</text>
<line x1="749.56" y1="2155.00" x2="749.56" y2="2161.00" stroke="#2b2b2b" stroke-width="1.6" />
<text x="749.6" y="2181.3" font-size="20.3" text-anchor="middle">900</text>
<line x1="806.20" y1="2155.00" x2="806.20" y2="2161.00" stroke="#2b2b2b" stroke-width="1.6" />
<text x="806.2" y="2181.3" font-size="20.3" text-anchor="middle">1000</text>
<text x="519.2" y="2204.8" font-size="20.3" text-anchor="middle">Time (s)</text>
<text x="898.0" y="1853.0" font-size="33" font-weight="bold">s</text>
<path d="M1015.0 1887.1 L1024.1 1889.3 L1033.1 1891.2 L1042.1 1893.0 L1051.2 1894.5 L1060.2 1895.8 L1069.2 1896.9 L1078.1 1897.7 L1087.1 1898.4 L1096.1 1898.8 L1105.0 1899.0 L1114.0 1899.0 L1122.9 1898.8 L1131.8 1898.4 L1140.7 1897.8 L1149.6 1896.9 L1158.5 1895.9 L1167.4 1894.6 L1176.3 1893.1 L1185.1 1891.4 L1194.0 1889.4 L1202.8 1887.3 L1211.6 1884.9 L1220.4 1882.4 L1229.2 1879.6" fill="none" stroke="#000" stroke-width="9.0"/>
<path d="M1252.0 1872.1 L1234.6 1895.7 L1223.9 1863.4 Z" fill="#000" stroke="#000" stroke-width="1.5" stroke-linejoin="round"/>
<path d="M1378.5 1958.7 L1365.2 1949.0 L1351.8 1939.9 L1338.2 1931.3 L1324.6 1923.2 L1310.8 1915.6 L1296.9 1908.5 L1282.9 1902.0 L1268.7 1896.0 L1254.5 1890.5 L1240.1 1885.6 L1225.6 1881.2 L1210.9 1877.3 L1196.1 1873.9 L1181.3 1871.0 L1166.2 1868.7 L1151.1 1866.9 L1135.8 1865.6 L1120.5 1864.9 L1105.0 1864.6 L1089.3 1864.9 L1073.6 1865.8 L1057.7 1867.1 L1041.7 1869.0 L1025.6 1871.4" fill="none" stroke="#000" stroke-width="1.0"/>
<path d="M1006.8 1874.4 L1024.0 1862.0 L1027.1 1880.7 Z" fill="#000" stroke="#000" stroke-width="1.5" stroke-linejoin="round"/>
<path d="M1260.8 1892.8 L1260.7 1893.3 L1260.7 1893.7 L1260.7 1894.1 L1260.6 1894.6 L1260.6 1895.0 L1260.6 1895.5 L1260.5 1895.9 L1260.5 1896.3 L1260.5 1896.8 L1260.5 1897.2 L1260.5 1897.7 L1260.4 1898.1 L1260.4 1898.6 L1260.4 1899.0 L1260.4 1899.4 L1260.4 1899.9 L1260.4 1900.3 L1260.4 1900.8 L1260.4 1901.2 L1260.4 1901.6 L1260.4 1902.1 L1260.4 1902.5 L1260.4 1903.0 L1260.4 1903.4" fill="none" stroke="#000" stroke-width="2.0"/>
<path d="M1260.9 1922.4 L1246.9 1903.8 L1273.9 1903.1 Z" fill="#000" stroke="#000" stroke-width="1.5" stroke-linejoin="round"/>
<path d="M1276.9 1913.3 L1277.0 1912.8 L1277.0 1912.4 L1277.0 1912.0 L1277.1 1911.5 L1277.1 1911.1 L1277.1 1910.6 L1277.2 1910.2 L1277.2 1909.8 L1277.2 1909.3 L1277.2 1908.9 L1277.2 1908.4 L1277.3 1908.0 L1277.3 1907.5 L1277.3 1907.1 L1277.3 1906.7 L1277.3 1906.2 L1277.3 1905.8 L1277.3 1905.3 L1277.3 1904.9 L1277.3 1904.5 L1277.3 1904.0 L1277.3 1903.6 L1277.3 1903.1 L1277.3 1902.7" fill="none" stroke="#000" stroke-width="1.5"/>
<path d="M1276.8 1883.7 L1290.8 1902.3 L1263.8 1903.0 Z" fill="#000" stroke="#000" stroke-width="1.5" stroke-linejoin="round"/>
<path d="M1245.6 1883.6 L1242.9 1886.3 L1240.4 1888.9 L1237.8 1891.6 L1235.4 1894.4 L1233.0 1897.2 L1230.7 1900.0 L1228.5 1902.9 L1226.3 1905.8 L1224.2 1908.7 L1222.1 1911.7 L1220.1 1914.7 L1218.2 1917.8 L1216.3 1920.9 L1214.6 1924.0 L1212.8 1927.2 L1211.2 1930.4 L1209.6 1933.6 L1208.1 1936.9 L1206.6 1940.2 L1205.2 1943.6 L1203.9 1947.0 L1202.6 1950.4 L1201.4 1953.9 L1200.3 1957.4" fill="none" stroke="#000" stroke-width="2.0"/>
<path d="M1194.6 1975.5 L1187.4 1953.4 L1213.2 1961.4 Z" fill="#000" stroke="#000" stroke-width="1.5" stroke-linejoin="round"/>
<path d="M1214.7 1976.9 L1217.4 1974.2 L1219.9 1971.6 L1222.5 1968.9 L1224.9 1966.1 L1227.3 1963.3 L1229.6 1960.5 L1231.8 1957.6 L1234.0 1954.7 L1236.1 1951.8 L1238.2 1948.8 L1240.2 1945.8 L1242.1 1942.7 L1244.0 1939.6 L1245.7 1936.5 L1247.5 1933.3 L1249.1 1930.1 L1250.7 1926.9 L1252.2 1923.6 L1253.7 1920.3 L1255.1 1916.9 L1256.4 1913.5 L1257.7 1910.1 L1258.9 1906.6 L1260.0 1903.1" fill="none" stroke="#000" stroke-width="1.0"/>
<path d="M1265.7 1885.0 L1269.1 1905.9 L1251.0 1900.3 Z" fill="#000" stroke="#000" stroke-width="1.5" stroke-linejoin="round"/>
<path d="M1282.4 1890.2 L1285.1 1894.2 L1287.8 1898.1 L1290.6 1901.8 L1293.4 1905.6 L1296.3 1909.2 L1299.3 1912.7 L1302.4 1916.2 L1305.5 1919.6 L1308.7 1922.9 L1312.0 1926.1 L1315.3 1929.3 L1318.7 1932.4 L1322.2 1935.3 L1325.7 1938.2 L1329.3 1941.1 L1333.0 1943.8 L1336.7 1946.5 L1340.5 1949.1 L1344.4 1951.6 L1348.3 1954.0 L1352.3 1956.3 L1356.4 1958.6 L1360.6 1960.7 L1364.8 1962.8" fill="none" stroke="#000" stroke-width="3.5"/>
<path d="M1381.9 1971.1 L1358.9 1975.0 L1370.7 1950.7 Z" fill="#000" stroke="#000" stroke-width="1.5" stroke-linejoin="round"/>
<path d="M1386.8 1951.3 L1384.1 1947.3 L1381.4 1943.4 L1378.6 1939.7 L1375.8 1935.9 L1372.9 1932.3 L1369.9 1928.8 L1366.8 1925.3 L1363.7 1921.9 L1360.5 1918.6 L1357.2 1915.4 L1353.9 1912.2 L1350.5 1909.1 L1347.0 1906.2 L1343.5 1903.3 L1339.9 1900.4 L1336.2 1897.7 L1332.5 1895.0 L1328.7 1892.4 L1324.8 1889.9 L1320.9 1887.5 L1316.9 1885.2 L1312.8 1882.9 L1308.6 1880.8 L1304.4 1878.7" fill="none" stroke="#000" stroke-width="1.5"/>
<path d="M1287.3 1870.4 L1310.3 1866.5 L1298.5 1890.8 Z" fill="#000" stroke="#000" stroke-width="1.5" stroke-linejoin="round"/>
<path d="M1293.9 1957.9 L1296.5 1959.4 L1299.2 1960.8 L1301.9 1962.2 L1304.6 1963.5 L1307.4 1964.8 L1310.1 1966.0 L1312.9 1967.2 L1315.7 1968.3 L1318.5 1969.4 L1321.3 1970.4 L1324.1 1971.3 L1326.9 1972.2 L1329.8 1973.1 L1332.7 1973.8 L1335.5 1974.6 L1338.4 1975.2 L1341.4 1975.8 L1344.3 1976.4 L1347.2 1976.9 L1350.2 1977.4 L1353.2 1977.8 L1356.2 1978.1 L1359.2 1978.4 L1362.2 1978.6" fill="none" stroke="#000" stroke-width="4.0"/>
<path d="M1381.1 1979.9 L1361.3 1992.1 L1363.1 1965.1 Z" fill="#000" stroke="#000" stroke-width="1.5" stroke-linejoin="round"/>
<path d="M1377.2 1960.3 L1374.6 1958.8 L1371.9 1957.4 L1369.2 1956.0 L1366.5 1954.7 L1363.7 1953.4 L1361.0 1952.2 L1358.2 1951.0 L1355.4 1949.9 L1352.6 1948.8 L1349.8 1947.8 L1347.0 1946.9 L1344.2 1946.0 L1341.3 1945.1 L1338.4 1944.4 L1335.6 1943.6 L1332.7 1943.0 L1329.7 1942.4 L1326.8 1941.8 L1323.9 1941.3 L1320.9 1940.8 L1317.9 1940.4 L1314.9 1940.1 L1311.9 1939.8 L1308.9 1939.6" fill="none" stroke="#000" stroke-width="1.0"/>
<path d="M1290.0 1938.3 L1309.6 1930.1 L1308.3 1949.1 Z" fill="#000" stroke="#000" stroke-width="1.5" stroke-linejoin="round"/>
<path d="M1242.1 1950.3 L1241.0 1950.8 L1239.9 1951.4 L1238.8 1951.9 L1237.7 1952.5 L1236.6 1953.0 L1235.5 1953.6 L1234.5 1954.2 L1233.4 1954.8 L1232.4 1955.4 L1231.3 1956.0 L1230.3 1956.7 L1229.3 1957.3 L1228.3 1958.0 L1227.3 1958.6 L1226.3 1959.3 L1225.3 1960.0 L1224.3 1960.7 L1223.3 1961.4 L1222.3 1962.1 L1221.4 1962.8 L1220.4 1963.6 L1219.5 1964.3 L1218.5 1965.1 L1217.6 1965.9" fill="none" stroke="#000" stroke-width="2.0"/>
<path d="M1203.1 1978.1 L1208.9 1955.5 L1226.3 1976.2 Z" fill="#000" stroke="#000" stroke-width="1.5" stroke-linejoin="round"/>
<path d="M1250.8 1963.6 L1249.1 1966.0 L1247.5 1968.4 L1245.9 1970.8 L1244.4 1973.3 L1242.9 1975.7 L1241.5 1978.2 L1240.1 1980.7 L1238.8 1983.2 L1237.5 1985.7 L1236.3 1988.2 L1235.1 1990.8 L1234.0 1993.4 L1232.9 1996.0 L1231.8 1998.6 L1230.8 2001.3 L1229.9 2003.9 L1229.0 2006.6 L1228.2 2009.3 L1227.4 2012.0 L1226.6 2014.8 L1226.0 2017.5 L1225.3 2020.3 L1224.7 2023.1 L1224.2 2025.9" fill="none" stroke="#000" stroke-width="1.5"/>
<path d="M1220.7 2044.6 L1210.9 2023.5 L1237.4 2028.4 Z" fill="#000" stroke="#000" stroke-width="1.5" stroke-linejoin="round"/>
<path d="M1240.6 2042.9 L1242.3 2040.5 L1243.9 2038.1 L1245.5 2035.7 L1247.0 2033.2 L1248.5 2030.8 L1249.9 2028.3 L1251.3 2025.8 L1252.6 2023.3 L1253.9 2020.8 L1255.1 2018.3 L1256.3 2015.7 L1257.4 2013.1 L1258.5 2010.5 L1259.6 2007.9 L1260.6 2005.2 L1261.5 2002.6 L1262.4 1999.9 L1263.2 1997.2 L1264.0 1994.5 L1264.8 1991.7 L1265.4 1989.0 L1266.1 1986.2 L1266.7 1983.4 L1267.2 1980.6" fill="none" stroke="#000" stroke-width="2.0"/>
<path d="M1270.7 1961.9 L1280.5 1983.0 L1254.0 1978.1 Z" fill="#000" stroke="#000" stroke-width="1.5" stroke-linejoin="round"/>
<path d="M1220.5 2003.7 L1226.7 2005.1 L1232.9 2006.3 L1239.1 2007.3 L1245.3 2008.2 L1251.4 2008.9 L1257.6 2009.5 L1263.7 2009.9 L1269.8 2010.1 L1275.9 2010.3 L1282.0 2010.2 L1288.1 2010.0 L1294.1 2009.7 L1300.2 2009.2 L1306.2 2008.5 L1312.2 2007.7 L1318.2 2006.7 L1324.2 2005.6 L1330.2 2004.3 L1336.2 2002.9 L1342.1 2001.3 L1348.0 1999.6 L1353.9 1997.7 L1359.9 1995.7 L1365.7 1993.5" fill="none" stroke="#000" stroke-width="2.5"/>
<path d="M1383.5 1986.6 L1370.6 2006.1 L1360.9 1980.9 Z" fill="#000" stroke="#000" stroke-width="1.5" stroke-linejoin="round"/>
<path d="M1373.2 1968.9 L1367.0 1967.5 L1360.8 1966.3 L1354.6 1965.3 L1348.4 1964.4 L1342.3 1963.7 L1336.1 1963.1 L1330.0 1962.7 L1323.9 1962.5 L1317.8 1962.3 L1311.7 1962.4 L1305.6 1962.6 L1299.6 1962.9 L1293.5 1963.4 L1287.5 1964.1 L1281.5 1964.9 L1275.5 1965.9 L1269.5 1967.0 L1263.5 1968.3 L1257.5 1969.7 L1251.6 1971.3 L1245.7 1973.0 L1239.8 1974.9 L1233.8 1976.9 L1228.0 1979.1" fill="none" stroke="#000" stroke-width="1.5"/>
<path d="M1210.2 1986.0 L1223.1 1966.5 L1232.8 1991.7 Z" fill="#000" stroke="#000" stroke-width="1.5" stroke-linejoin="round"/>
<path d="M1196.1 2024.6 L1196.2 2024.9 L1196.4 2025.3 L1196.5 2025.7 L1196.6 2026.0 L1196.7 2026.4 L1196.8 2026.7 L1196.9 2027.1 L1197.0 2027.5 L1197.2 2027.8 L1197.3 2028.2 L1197.4 2028.5 L1197.5 2028.9 L1197.7 2029.2 L1197.8 2029.6 L1197.9 2030.0 L1198.0 2030.3 L1198.2 2030.7 L1198.3 2031.0 L1198.4 2031.4 L1198.6 2031.7 L1198.7 2032.1 L1198.9 2032.4 L1199.0 2032.8 L1199.1 2033.1" fill="none" stroke="#000" stroke-width="2.5"/>
<path d="M1206.4 2050.7 L1186.7 2038.3 L1211.6 2028.0 Z" fill="#000" stroke="#000" stroke-width="1.5" stroke-linejoin="round"/>
<path d="M1217.9 2036.3 L1217.8 2036.0 L1217.6 2035.6 L1217.5 2035.2 L1217.4 2034.9 L1217.3 2034.5 L1217.2 2034.2 L1217.1 2033.8 L1217.0 2033.4 L1216.8 2033.1 L1216.7 2032.7 L1216.6 2032.4 L1216.5 2032.0 L1216.3 2031.7 L1216.2 2031.3 L1216.1 2030.9 L1216.0 2030.6 L1215.8 2030.2 L1215.7 2029.9 L1215.6 2029.5 L1215.4 2029.2 L1215.3 2028.8 L1215.1 2028.5 L1215.0 2028.1 L1214.9 2027.8" fill="none" stroke="#000" stroke-width="1.5"/>
<path d="M1207.6 2010.2 L1227.3 2022.6 L1202.4 2032.9 Z" fill="#000" stroke="#000" stroke-width="1.5" stroke-linejoin="round"/>
<path d="M1250.6 2062.4 L1256.5 2061.4 L1262.3 2060.4 L1268.0 2059.2 L1273.7 2057.9 L1279.3 2056.4 L1284.8 2054.9 L1290.3 2053.2 L1295.8 2051.4 L1301.1 2049.4 L1306.4 2047.3 L1311.7 2045.1 L1316.8 2042.8 L1321.9 2040.3 L1327.0 2037.7 L1332.0 2035.0 L1336.9 2032.2 L1341.8 2029.2 L1346.6 2026.1 L1351.3 2022.9 L1356.0 2019.6 L1360.6 2016.1 L1365.2 2012.5 L1369.6 2008.8 L1374.1 2004.9" fill="none" stroke="#000" stroke-width="6.0"/>
<path d="M1388.3 1992.3 L1383.1 2015.0 L1365.1 1994.8 Z" fill="#000" stroke="#000" stroke-width="1.5" stroke-linejoin="round"/>
<path d="M1372.3 1979.5 L1366.4 1980.5 L1360.6 1981.5 L1354.9 1982.7 L1349.2 1984.0 L1343.6 1985.5 L1338.1 1987.0 L1332.6 1988.7 L1327.1 1990.5 L1321.8 1992.5 L1316.5 1994.6 L1311.2 1996.8 L1306.1 1999.1 L1301.0 2001.6 L1295.9 2004.2 L1290.9 2006.9 L1286.0 2009.7 L1281.1 2012.7 L1276.3 2015.8 L1271.6 2019.0 L1266.9 2022.3 L1262.3 2025.8 L1257.7 2029.4 L1253.3 2033.1 L1248.8 2037.0" fill="none" stroke="#000" stroke-width="1.5"/>
<path d="M1234.6 2049.6 L1239.8 2026.9 L1257.8 2047.1 Z" fill="#000" stroke="#000" stroke-width="1.5" stroke-linejoin="round"/>
<path d="M1398.7 2005.8 L1398.7 2008.4 L1398.8 2011.0 L1398.9 2013.6 L1399.1 2016.2 L1399.3 2018.8 L1399.5 2021.4 L1399.8 2023.9 L1400.1 2026.5 L1400.5 2029.0 L1400.9 2031.6 L1401.4 2034.1 L1401.9 2036.6 L1402.4 2039.1 L1403.0 2041.6 L1403.7 2044.0 L1404.3 2046.5 L1405.1 2049.0 L1405.8 2051.4 L1406.7 2053.8 L1407.5 2056.2 L1408.4 2058.7 L1409.4 2061.1 L1410.4 2063.4 L1411.4 2065.8" fill="none" stroke="#000" stroke-width="2.5"/>
<path d="M1419.1 2083.2 L1399.1 2071.3 L1423.7 2060.3 Z" fill="#000" stroke="#000" stroke-width="1.5" stroke-linejoin="round"/>
<path d="M1434.2 2070.3 L1434.2 2067.7 L1434.1 2065.1 L1434.0 2062.5 L1433.8 2059.9 L1433.6 2057.3 L1433.4 2054.7 L1433.1 2052.2 L1432.8 2049.6 L1432.4 2047.1 L1432.0 2044.5 L1431.5 2042.0 L1431.0 2039.5 L1430.5 2037.0 L1429.9 2034.5 L1429.2 2032.1 L1428.6 2029.6 L1427.8 2027.1 L1427.1 2024.7 L1426.2 2022.3 L1425.4 2019.9 L1424.5 2017.4 L1423.5 2015.0 L1422.5 2012.7 L1421.5 2010.3" fill="none" stroke="#000" stroke-width="2.5"/>
<path d="M1413.8 1992.9 L1433.8 2004.8 L1409.2 2015.8 Z" fill="#000" stroke="#000" stroke-width="1.5" stroke-linejoin="round"/>
<path d="M1246.8 2079.8 L1252.6 2082.7 L1258.4 2085.5 L1264.3 2088.1 L1270.1 2090.5 L1276.0 2092.8 L1281.9 2094.9 L1287.9 2096.9 L1293.9 2098.7 L1299.9 2100.4 L1305.9 2101.9 L1311.9 2103.3 L1318.0 2104.5 L1324.1 2105.5 L1330.2 2106.4 L1336.4 2107.1 L1342.6 2107.7 L1348.8 2108.1 L1355.0 2108.4 L1361.3 2108.5 L1367.5 2108.4 L1373.8 2108.2 L1380.2 2107.8 L1386.5 2107.3 L1392.9 2106.6" fill="none" stroke="#000" stroke-width="2.0"/>
<path d="M1411.8 2104.4 L1394.5 2120.0 L1391.3 2093.2 Z" fill="#000" stroke="#000" stroke-width="1.5" stroke-linejoin="round"/>
<path d="M1406.4 2084.6 L1400.6 2081.7 L1394.8 2078.9 L1388.9 2076.3 L1383.1 2073.9 L1377.2 2071.6 L1371.3 2069.5 L1365.3 2067.5 L1359.3 2065.7 L1353.3 2064.0 L1347.3 2062.5 L1341.3 2061.1 L1335.2 2059.9 L1329.1 2058.9 L1323.0 2058.0 L1316.8 2057.3 L1310.6 2056.7 L1304.4 2056.3 L1298.2 2056.0 L1291.9 2055.9 L1285.7 2056.0 L1279.4 2056.2 L1273.0 2056.6 L1266.7 2057.1 L1260.3 2057.8" fill="none" stroke="#000" stroke-width="1.0"/>
<path d="M1241.4 2060.0 L1259.2 2048.3 L1261.4 2067.2 Z" fill="#000" stroke="#000" stroke-width="1.5" stroke-linejoin="round"/>
<path d="M1213.0 2016.4 L1219.5 2022.2 L1226.0 2027.7 L1232.6 2033.1 L1239.4 2038.2 L1246.2 2043.2 L1253.1 2047.9 L1260.0 2052.5 L1267.1 2056.8 L1274.3 2060.9 L1281.5 2064.8 L1288.9 2068.5 L1296.3 2072.0 L1303.9 2075.2 L1311.5 2078.3 L1319.2 2081.2 L1327.0 2083.8 L1334.9 2086.3 L1342.8 2088.5 L1350.9 2090.5 L1359.1 2092.3 L1367.3 2093.9 L1375.7 2095.3 L1384.1 2096.5 L1392.6 2097.5" fill="none" stroke="#000" stroke-width="1.5"/>
<path d="M1411.5 2099.4 L1391.3 2110.9 L1394.0 2084.1 Z" fill="#000" stroke="#000" stroke-width="1.5" stroke-linejoin="round"/>
<path d="M1281.9 1967.9 L1285.2 1974.1 L1288.6 1980.3 L1292.2 1986.3 L1295.9 1992.2 L1299.7 1998.0 L1303.7 2003.6 L1307.8 2009.1 L1311.9 2014.5 L1316.3 2019.8 L1320.7 2024.9 L1325.3 2029.9 L1330.0 2034.8 L1334.8 2039.6 L1339.7 2044.2 L1344.8 2048.7 L1350.0 2053.0 L1355.3 2057.3 L1360.7 2061.4 L1366.3 2065.4 L1372.0 2069.2 L1377.8 2073.0 L1383.7 2076.6 L1389.8 2080.0 L1396.0 2083.4" fill="none" stroke="#000" stroke-width="1.0"/>
<path d="M1412.8 2092.2 L1391.5 2091.8 L1400.4 2075.0 Z" fill="#000" stroke="#000" stroke-width="1.5" stroke-linejoin="round"/>
<path d="M1274.7 1893.5 L1277.4 1902.9 L1280.3 1912.1 L1283.4 1921.2 L1286.8 1930.1 L1290.3 1938.9 L1294.1 1947.6 L1298.1 1956.1 L1302.3 1964.4 L1306.8 1972.6 L1311.4 1980.6 L1316.3 1988.5 L1321.4 1996.2 L1326.6 2003.8 L1332.2 2011.3 L1337.9 2018.5 L1343.8 2025.7 L1350.0 2032.7 L1356.4 2039.5 L1362.9 2046.2 L1369.7 2052.7 L1376.8 2059.1 L1384.0 2065.3 L1391.5 2071.4 L1399.1 2077.3" fill="none" stroke="#000" stroke-width="0.8"/>
<path d="M1414.3 2088.7 L1393.4 2084.9 L1404.8 2069.7 Z" fill="#000" stroke="#000" stroke-width="1.5" stroke-linejoin="round"/>
<path d="M1193.7 2073.3 L1189.3 2074.9 L1184.9 2076.7 L1180.6 2078.5 L1176.4 2080.4 L1172.2 2082.4 L1168.2 2084.4 L1164.1 2086.6 L1160.1 2088.8 L1156.2 2091.1 L1152.4 2093.5 L1148.6 2096.0 L1144.9 2098.6 L1141.2 2101.2 L1137.6 2103.9 L1134.1 2106.8 L1130.6 2109.7 L1127.2 2112.7 L1123.8 2115.7 L1120.5 2118.9 L1117.3 2122.1 L1114.2 2125.4 L1111.0 2128.8 L1108.0 2132.3 L1105.0 2135.9" fill="none" stroke="#000" stroke-width="1.2"/>
<path d="M1093.0 2150.6 L1097.7 2129.9 L1112.4 2141.9 Z" fill="#000" stroke="#000" stroke-width="1.5" stroke-linejoin="round"/>
<path d="M1110.9 2160.0 L1115.3 2158.4 L1119.7 2156.6 L1124.0 2154.8 L1128.2 2152.9 L1132.4 2150.9 L1136.4 2148.9 L1140.5 2146.7 L1144.5 2144.5 L1148.4 2142.2 L1152.2 2139.8 L1156.0 2137.3 L1159.7 2134.7 L1163.4 2132.1 L1167.0 2129.4 L1170.5 2126.5 L1174.0 2123.6 L1177.4 2120.6 L1180.8 2117.6 L1184.1 2114.4 L1187.3 2111.2 L1190.4 2107.9 L1193.6 2104.5 L1196.6 2101.0 L1199.6 2097.4" fill="none" stroke="#000" stroke-width="3.0"/>
<path d="M1211.6 2082.7 L1210.0 2106.0 L1189.1 2088.9 Z" fill="#000" stroke="#000" stroke-width="1.5" stroke-linejoin="round"/>
<path d="M1111.6 2173.7 L1124.4 2175.6 L1137.1 2177.2 L1149.7 2178.4 L1162.2 2179.2 L1174.7 2179.7 L1187.1 2179.8 L1199.4 2179.6 L1211.7 2179.0 L1223.9 2178.0 L1236.0 2176.7 L1248.0 2175.1 L1260.0 2173.0 L1271.9 2170.6 L1283.7 2167.9 L1295.5 2164.8 L1307.2 2161.3 L1318.8 2157.5 L1330.4 2153.3 L1341.8 2148.8 L1353.2 2143.9 L1364.6 2138.7 L1375.8 2133.1 L1387.0 2127.1 L1398.2 2120.8" fill="none" stroke="#000" stroke-width="3.0"/>
<path d="M1414.6 2111.1 L1405.0 2132.4 L1391.3 2109.1 Z" fill="#000" stroke="#000" stroke-width="1.5" stroke-linejoin="round"/>
<path d="M1403.0 2093.8 L1390.2 2091.9 L1377.5 2090.3 L1364.9 2089.1 L1352.4 2088.3 L1339.9 2087.8 L1327.5 2087.7 L1315.2 2087.9 L1302.9 2088.5 L1290.7 2089.5 L1278.6 2090.8 L1266.6 2092.4 L1254.6 2094.5 L1242.7 2096.9 L1230.9 2099.6 L1219.1 2102.7 L1207.4 2106.2 L1195.8 2110.0 L1184.2 2114.2 L1172.8 2118.7 L1161.4 2123.6 L1150.0 2128.8 L1138.8 2134.4 L1127.6 2140.4 L1116.4 2146.7" fill="none" stroke="#000" stroke-width="0.8"/>
<path d="M1100.0 2156.4 L1111.6 2138.5 L1121.2 2154.9 Z" fill="#000" stroke="#000" stroke-width="1.5" stroke-linejoin="round"/>
<circle cx="987.00" cy="1879.10" r="31.00" fill="#cd5a63" />
<text x="987.0" y="1876.0" font-size="13.5" text-anchor="middle" fill="#fff">tail</text>
<text x="987.0" y="1892.0" font-size="13.5" text-anchor="middle" fill="#fff">rattling</text>
<circle cx="1267.90" cy="1864.70" r="31.00" fill="#cd5a63" />
<text x="1267.9" y="1870.3" font-size="15.5" text-anchor="middle" fill="#fff">chemo.</text>
<circle cx="1269.80" cy="1941.40" r="31.00" fill="#cd5a63" />
<text x="1269.8" y="1938.4" font-size="14" text-anchor="middle" fill="#fff">self</text>
<text x="1269.8" y="1954.4" font-size="14" text-anchor="middle" fill="#fff">groom.</text>
<circle cx="1192.40" cy="1995.80" r="31.00" fill="#cd5a63" />
<text x="1192.4" y="1992.8" font-size="14" text-anchor="middle" fill="#fff">lick.</text>
<text x="1192.4" y="2008.8" font-size="14" text-anchor="middle" fill="#fff">groom</text>
<circle cx="1401.30" cy="1976.80" r="31.00" fill="#cd5a63" />
<text x="1401.3" y="1981.5" font-size="13" text-anchor="middle" fill="#fff">rearing</text>
<circle cx="1221.60" cy="2065.10" r="31.00" fill="#cd5a63" />
<text x="1221.6" y="2054.5" font-size="13.5" text-anchor="middle" fill="#fff">in</text>
<text x="1221.6" y="2070.0" font-size="13.5" text-anchor="middle" fill="#fff">empty</text>
<text x="1221.6" y="2085.5" font-size="13.5" text-anchor="middle" fill="#fff">nest</text>
<circle cx="1431.60" cy="2099.30" r="31.00" fill="#cd5a63" />
<text x="1431.6" y="2104.5" font-size="14.5" text-anchor="middle" fill="#fff">digging</text>
<circle cx="1083.00" cy="2168.20" r="31.00" fill="#cd5a63" />
<text x="1083.0" y="2174.0" font-size="16" text-anchor="middle" fill="#fff">retri.</text>
</svg>
</body></html>
